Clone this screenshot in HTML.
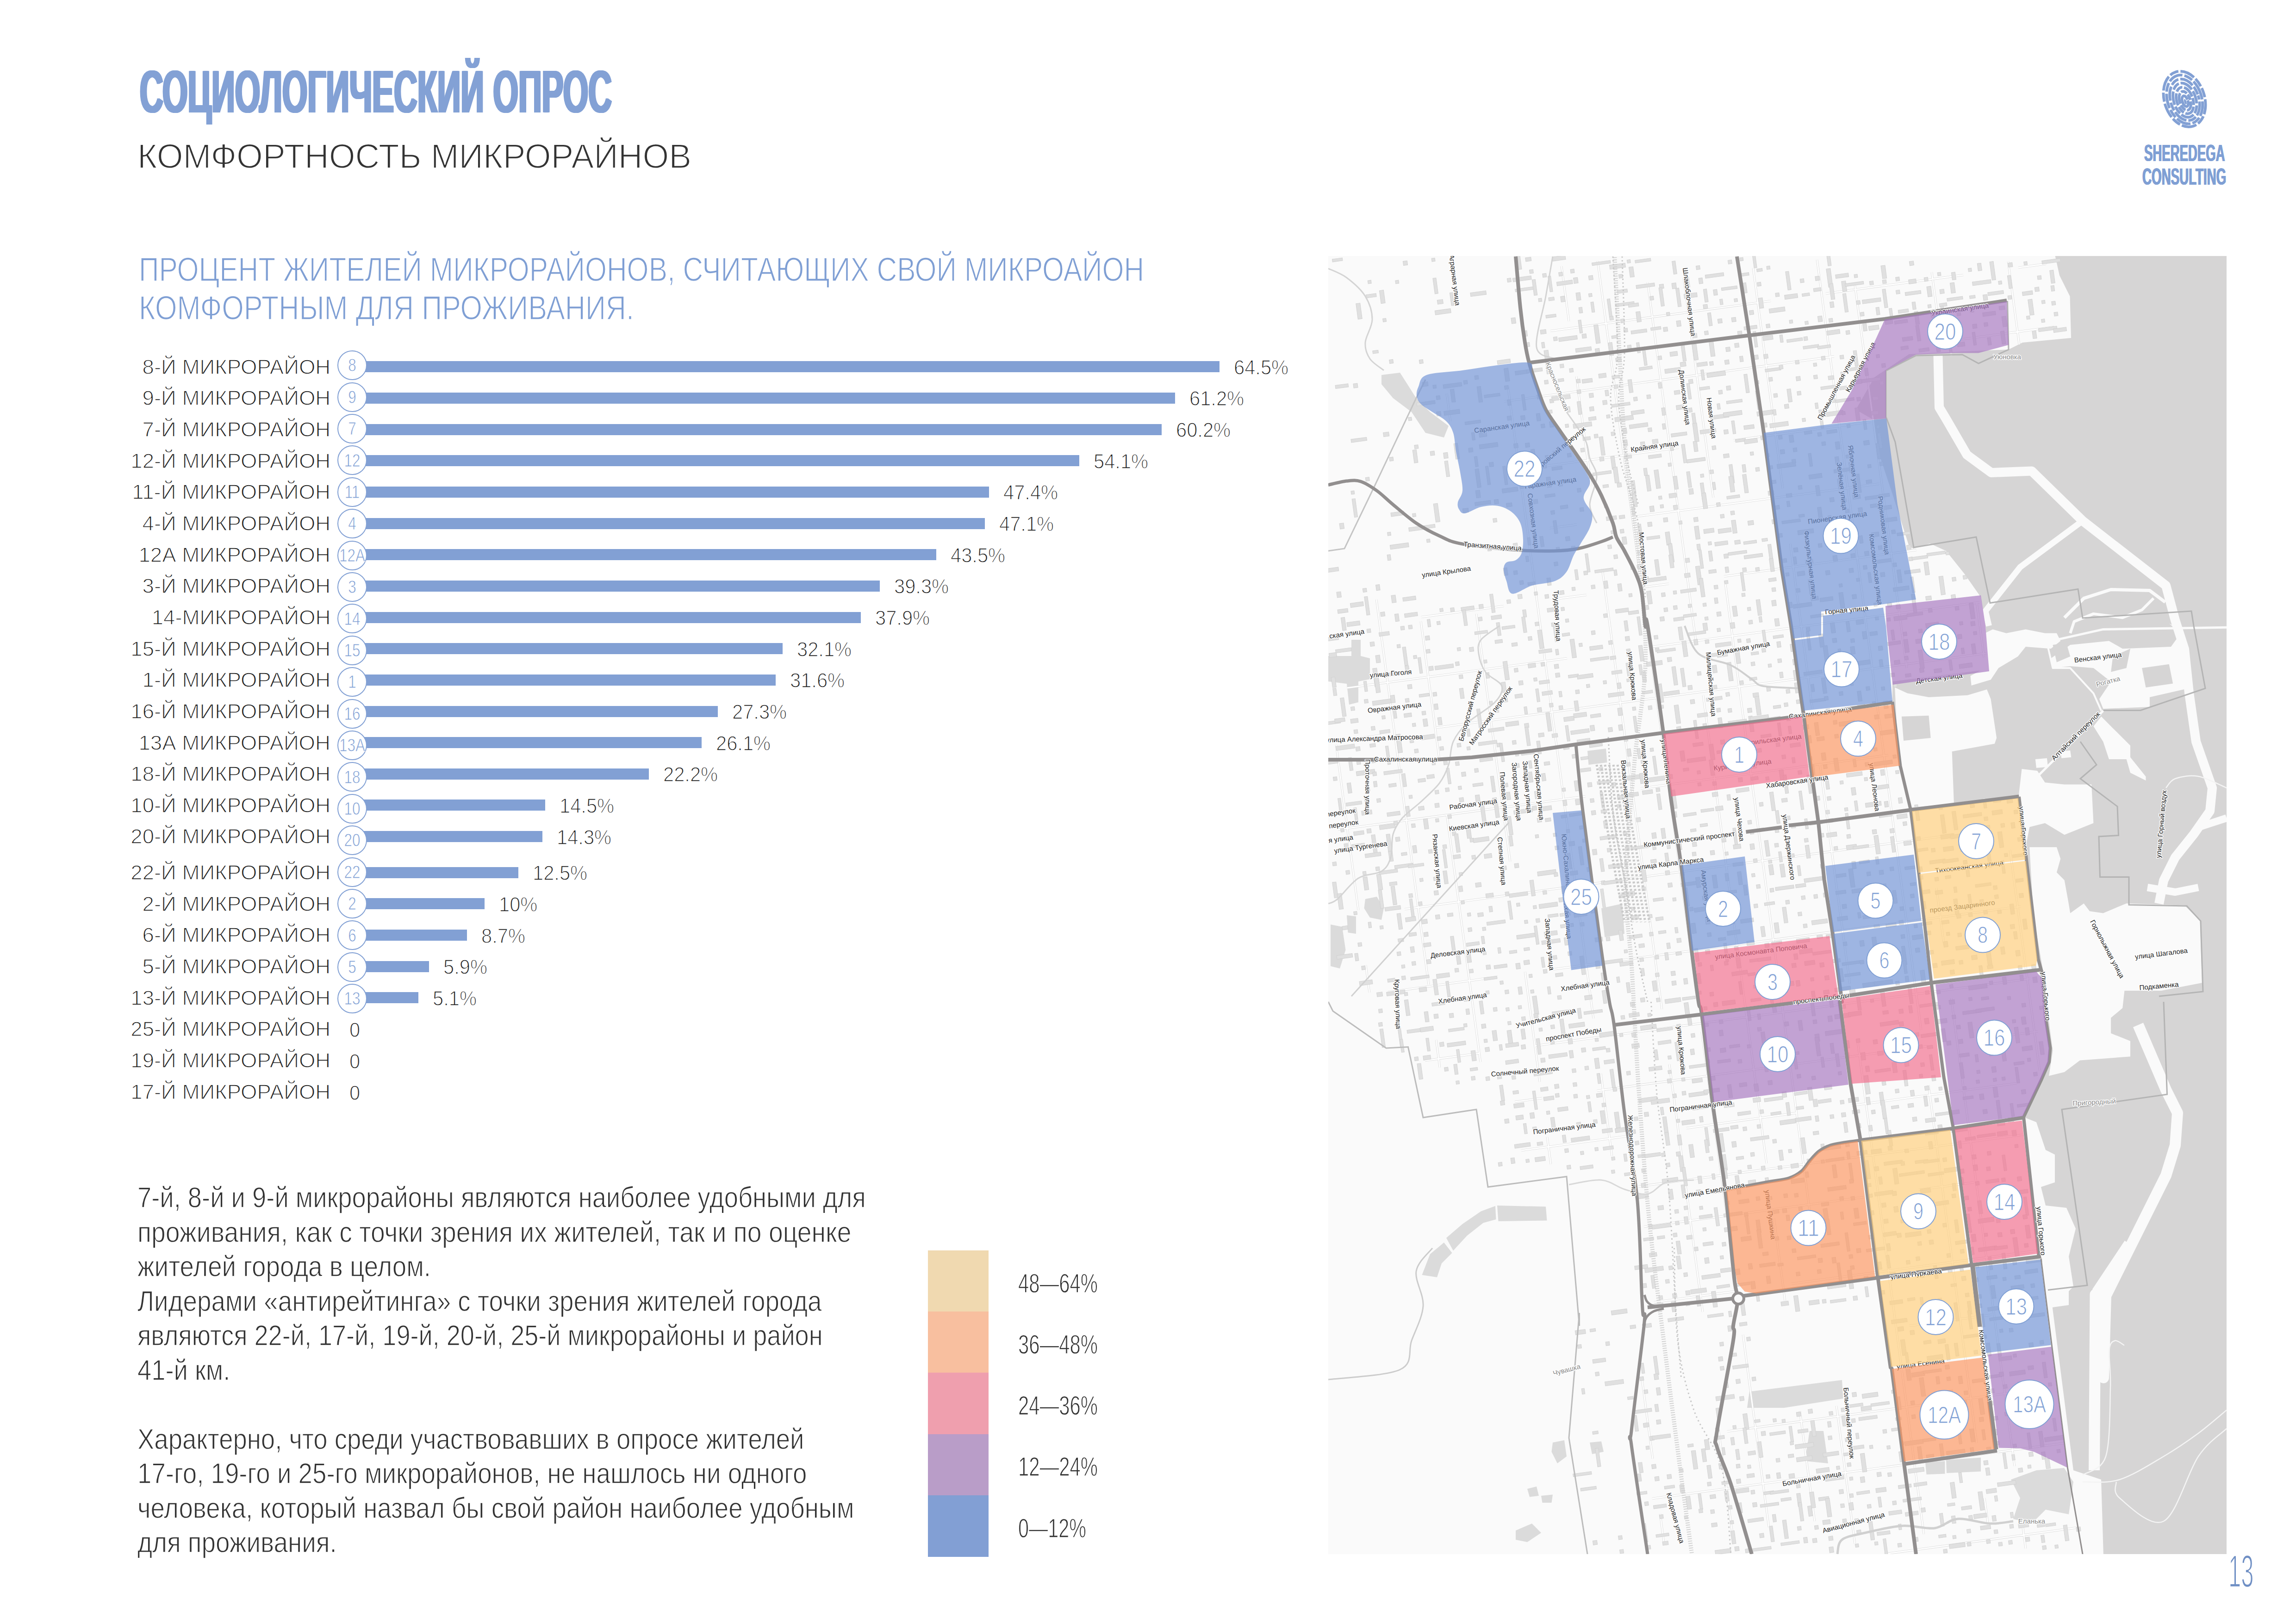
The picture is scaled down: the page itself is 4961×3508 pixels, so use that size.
<!DOCTYPE html>
<html lang="ru"><head><meta charset="utf-8"><title>Социологический опрос</title>
<style>
html,body{margin:0;padding:0;background:#fff}
body{width:4961px;height:3508px;position:relative;overflow:hidden;font-family:"Liberation Sans",sans-serif}
.t{position:absolute;white-space:pre;line-height:1;paint-order:fill stroke}
.bar{position:absolute;height:24px;background:#82a0d4}
.cir{position:absolute;width:60px;height:60px;border:2px solid #82a0d4;border-radius:50%;background:#fff}
svg text{font-family:"Liberation Sans",sans-serif}
</style></head><body>
<svg style="position:absolute;left:0;top:0" width="4961" height="520" viewBox="0 0 4961 520"><g transform="translate(4720,214) rotate(-18)"><ellipse cx="0" cy="0.0" rx="43.5" ry="61.5" fill="none" stroke="#82a0d4" stroke-width="5.8" stroke-dasharray="32.7 4.5 19.6 4.5" stroke-dashoffset="108.4"/><ellipse cx="0" cy="0.8" rx="37" ry="54" fill="none" stroke="#82a0d4" stroke-width="5.8" stroke-dasharray="32.0 4.4 19.2 4.4" stroke-dashoffset="43.9"/><ellipse cx="0" cy="1.6" rx="30.5" ry="46" fill="none" stroke="#82a0d4" stroke-width="5.8" stroke-dasharray="30.8 4.2 18.5 4.2" stroke-dashoffset="159.6"/><ellipse cx="0" cy="2.4" rx="24" ry="38" fill="none" stroke="#82a0d4" stroke-width="5.8" stroke-dasharray="29.3 4.0 17.6 4.0" stroke-dashoffset="14.5"/><ellipse cx="0" cy="3.2" rx="17.5" ry="29.5" fill="none" stroke="#82a0d4" stroke-width="5.8" stroke-dasharray="26.8 3.7 16.1 3.7" stroke-dashoffset="81.7"/><ellipse cx="0" cy="4.0" rx="11.5" ry="21" fill="none" stroke="#82a0d4" stroke-width="5.8" stroke-dasharray="23.4 3.2 14.0 3.2" stroke-dashoffset="38.9"/><ellipse cx="0" cy="4.8" rx="6" ry="12" fill="none" stroke="#82a0d4" stroke-width="5.8" stroke-dasharray="59.6 2.4 35.8 2.4" stroke-dashoffset="3.5"/><ellipse cx="0" cy="6" rx="2.5" ry="6" fill="#82a0d4"/></g></svg>
<div class="bar" style="left:760.5px;top:780.3px;width:1874.3px"></div>
<div class="cir" style="left:728.5px;top:757.1px"></div>
<div class="bar" style="left:760.5px;top:847.9px;width:1778.2px"></div>
<div class="cir" style="left:728.5px;top:825.5px"></div>
<div class="bar" style="left:760.5px;top:915.6px;width:1749.0px"></div>
<div class="cir" style="left:728.5px;top:893.9px"></div>
<div class="bar" style="left:760.5px;top:983.2px;width:1571.3px"></div>
<div class="cir" style="left:728.5px;top:962.3px"></div>
<div class="bar" style="left:760.5px;top:1050.9px;width:1376.1px"></div>
<div class="cir" style="left:728.5px;top:1030.7px"></div>
<div class="bar" style="left:760.5px;top:1118.5px;width:1367.4px"></div>
<div class="cir" style="left:728.5px;top:1099.1px"></div>
<div class="bar" style="left:760.5px;top:1186.2px;width:1262.5px"></div>
<div class="cir" style="left:728.5px;top:1167.5px"></div>
<div class="bar" style="left:760.5px;top:1253.8px;width:1140.1px"></div>
<div class="cir" style="left:728.5px;top:1235.9px"></div>
<div class="bar" style="left:760.5px;top:1321.5px;width:1099.3px"></div>
<div class="cir" style="left:728.5px;top:1304.3px"></div>
<div class="bar" style="left:760.5px;top:1389.2px;width:930.3px"></div>
<div class="cir" style="left:728.5px;top:1372.7px"></div>
<div class="bar" style="left:760.5px;top:1456.8px;width:915.7px"></div>
<div class="cir" style="left:728.5px;top:1441.1px"></div>
<div class="bar" style="left:760.5px;top:1524.5px;width:790.4px"></div>
<div class="cir" style="left:728.5px;top:1509.5px"></div>
<div class="bar" style="left:760.5px;top:1592.1px;width:755.5px"></div>
<div class="cir" style="left:728.5px;top:1577.9px"></div>
<div class="bar" style="left:760.5px;top:1659.8px;width:641.8px"></div>
<div class="cir" style="left:728.5px;top:1646.3px"></div>
<div class="bar" style="left:760.5px;top:1727.4px;width:417.5px"></div>
<div class="cir" style="left:728.5px;top:1714.7px"></div>
<div class="bar" style="left:760.5px;top:1795.1px;width:411.7px"></div>
<div class="cir" style="left:728.5px;top:1783.1px"></div>
<div class="bar" style="left:760.5px;top:1872.7px;width:359.2px"></div>
<div class="cir" style="left:728.5px;top:1851.5px"></div>
<div class="bar" style="left:760.5px;top:1940.4px;width:286.4px"></div>
<div class="cir" style="left:728.5px;top:1919.9px"></div>
<div class="bar" style="left:760.5px;top:2008.0px;width:248.5px"></div>
<div class="cir" style="left:728.5px;top:1988.3px"></div>
<div class="bar" style="left:760.5px;top:2075.7px;width:166.9px"></div>
<div class="cir" style="left:728.5px;top:2056.7px"></div>
<div class="bar" style="left:760.5px;top:2143.3px;width:143.6px"></div>
<div class="cir" style="left:728.5px;top:2125.1px"></div>
<div style="position:absolute;left:2005px;top:2701.0px;width:131px;height:133px;background:#f0d9b0"></div>
<div style="position:absolute;left:2005px;top:2833.2px;width:131px;height:133px;background:#f8bf9f"></div>
<div style="position:absolute;left:2005px;top:2965.4px;width:131px;height:133px;background:#ef9fae"></div>
<div style="position:absolute;left:2005px;top:3097.6px;width:131px;height:133px;background:#b99dc8"></div>
<div style="position:absolute;left:2005px;top:3229.8px;width:131px;height:133px;background:#829fd4"></div>
<div class="t" style="top:133.3px;font-size:130.09px;color:#83a1d5;font-weight:700;text-shadow:-4px 0 0 #83a1d5,4px 0 0 #83a1d5,-2px 0 0 #83a1d5,2px 0 0 #83a1d5;left:302.0px;transform-origin:0 0;transform:scaleX(0.5404);">СОЦИОЛОГИЧЕСКИЙ ОПРОС</div>
<div class="t" style="top:300.7px;font-size:74.13px;color:#333;font-weight:400;-webkit-text-stroke:2.0px #fff;left:297.0px;transform-origin:0 0;transform:scaleX(0.9857);">КОМФОРТНОСТЬ МИКРОРАЙНОВ</div>
<div class="t" style="top:545.5px;font-size:72.67px;color:#7f9fd4;font-weight:400;-webkit-text-stroke:1.6px #fff;left:300.0px;transform-origin:0 0;transform:scaleX(0.8322);">ПРОЦЕНТ ЖИТЕЛЕЙ МИКРОРАЙОНОВ, СЧИТАЮЩИХ СВОЙ МИКРОАЙОН</div>
<div class="t" style="top:628.5px;font-size:72.67px;color:#7f9fd4;font-weight:400;-webkit-text-stroke:1.6px #fff;left:300.0px;transform-origin:0 0;transform:scaleX(0.8417);">КОМФОРТНЫМ ДЛЯ ПРОЖИВАНИЯ.</div>
<div class="t" style="top:306.0px;font-size:49.42px;color:#7f9fd4;font-weight:700;text-shadow:-1.2px 0 0 #7f9fd4,1.2px 0 0 #7f9fd4;left:4632.5px;transform-origin:0 0;transform:scaleX(0.5576);">SHEREDEGA</div>
<div class="t" style="top:356.9px;font-size:49.42px;color:#7f9fd4;font-weight:700;text-shadow:-1.2px 0 0 #7f9fd4,1.2px 0 0 #7f9fd4;left:4628.8px;transform-origin:0 0;transform:scaleX(0.5611);">CONSULTING</div>
<div class="t" style="top:3346.1px;font-size:97.38px;color:#6f8fc4;font-weight:400;-webkit-text-stroke:2.5px #fff;left:4815.0px;transform-origin:0 0;transform:scaleX(0.5041);">13</div>
<div class="t" style="top:769.7px;font-size:45.06px;color:#222;font-weight:400;-webkit-text-stroke:1.4px #fff;right:4247.0px;transform-origin:100% 0;transform:scaleX(1.0110);">8-Й МИКРОРАЙОН</div>
<div class="t" style="top:771.8px;font-size:44.33px;color:#222;font-weight:400;-webkit-text-stroke:1.4px #fff;left:2665.8px;transform-origin:0 0;transform:scaleX(0.9400);">64.5%</div>
<div class="t" style="top:769.4px;font-size:39.24px;color:#7f9fd4;font-weight:400;-webkit-text-stroke:0.9px #fff;left:560.5px;width:400px;text-align:center;transform-origin:50% 0;transform:scaleX(0.8000);">8</div>
<div class="t" style="top:837.3px;font-size:45.06px;color:#222;font-weight:400;-webkit-text-stroke:1.4px #fff;right:4247.0px;transform-origin:100% 0;transform:scaleX(1.0110);">9-Й МИКРОРАЙОН</div>
<div class="t" style="top:839.4px;font-size:44.33px;color:#222;font-weight:400;-webkit-text-stroke:1.4px #fff;left:2569.7px;transform-origin:0 0;transform:scaleX(0.9400);">61.2%</div>
<div class="t" style="top:837.8px;font-size:39.24px;color:#7f9fd4;font-weight:400;-webkit-text-stroke:0.9px #fff;left:560.5px;width:400px;text-align:center;transform-origin:50% 0;transform:scaleX(0.8000);">9</div>
<div class="t" style="top:905.0px;font-size:45.06px;color:#222;font-weight:400;-webkit-text-stroke:1.4px #fff;right:4247.0px;transform-origin:100% 0;transform:scaleX(1.0110);">7-Й МИКРОРАЙОН</div>
<div class="t" style="top:907.1px;font-size:44.33px;color:#222;font-weight:400;-webkit-text-stroke:1.4px #fff;left:2540.5px;transform-origin:0 0;transform:scaleX(0.9400);">60.2%</div>
<div class="t" style="top:906.2px;font-size:39.24px;color:#7f9fd4;font-weight:400;-webkit-text-stroke:0.9px #fff;left:560.5px;width:400px;text-align:center;transform-origin:50% 0;transform:scaleX(0.8000);">7</div>
<div class="t" style="top:972.6px;font-size:45.06px;color:#222;font-weight:400;-webkit-text-stroke:1.4px #fff;right:4247.0px;transform-origin:100% 0;transform:scaleX(1.0110);">12-Й МИКРОРАЙОН</div>
<div class="t" style="top:974.7px;font-size:44.33px;color:#222;font-weight:400;-webkit-text-stroke:1.4px #fff;left:2362.8px;transform-origin:0 0;transform:scaleX(0.9400);">54.1%</div>
<div class="t" style="top:974.6px;font-size:39.24px;color:#7f9fd4;font-weight:400;-webkit-text-stroke:0.9px #fff;left:560.5px;width:400px;text-align:center;transform-origin:50% 0;transform:scaleX(0.8000);">12</div>
<div class="t" style="top:1040.3px;font-size:45.06px;color:#222;font-weight:400;-webkit-text-stroke:1.4px #fff;right:4247.0px;transform-origin:100% 0;transform:scaleX(1.0110);">11-Й МИКРОРАЙОН</div>
<div class="t" style="top:1042.4px;font-size:44.33px;color:#222;font-weight:400;-webkit-text-stroke:1.4px #fff;left:2167.6px;transform-origin:0 0;transform:scaleX(0.9400);">47.4%</div>
<div class="t" style="top:1043.0px;font-size:39.24px;color:#7f9fd4;font-weight:400;-webkit-text-stroke:0.9px #fff;left:560.5px;width:400px;text-align:center;transform-origin:50% 0;transform:scaleX(0.8000);">11</div>
<div class="t" style="top:1107.9px;font-size:45.06px;color:#222;font-weight:400;-webkit-text-stroke:1.4px #fff;right:4247.0px;transform-origin:100% 0;transform:scaleX(1.0110);">4-Й МИКРОРАЙОН</div>
<div class="t" style="top:1110.0px;font-size:44.33px;color:#222;font-weight:400;-webkit-text-stroke:1.4px #fff;left:2158.9px;transform-origin:0 0;transform:scaleX(0.9400);">47.1%</div>
<div class="t" style="top:1111.4px;font-size:39.24px;color:#7f9fd4;font-weight:400;-webkit-text-stroke:0.9px #fff;left:560.5px;width:400px;text-align:center;transform-origin:50% 0;transform:scaleX(0.8000);">4</div>
<div class="t" style="top:1175.6px;font-size:45.06px;color:#222;font-weight:400;-webkit-text-stroke:1.4px #fff;right:4247.0px;transform-origin:100% 0;transform:scaleX(1.0110);">12А МИКРОРАЙОН</div>
<div class="t" style="top:1177.7px;font-size:44.33px;color:#222;font-weight:400;-webkit-text-stroke:1.4px #fff;left:2054.0px;transform-origin:0 0;transform:scaleX(0.9400);">43.5%</div>
<div class="t" style="top:1179.8px;font-size:39.24px;color:#7f9fd4;font-weight:400;-webkit-text-stroke:0.9px #fff;left:560.5px;width:400px;text-align:center;transform-origin:50% 0;transform:scaleX(0.8000);">12А</div>
<div class="t" style="top:1243.2px;font-size:45.06px;color:#222;font-weight:400;-webkit-text-stroke:1.4px #fff;right:4247.0px;transform-origin:100% 0;transform:scaleX(1.0110);">3-Й МИКРОРАЙОН</div>
<div class="t" style="top:1245.3px;font-size:44.33px;color:#222;font-weight:400;-webkit-text-stroke:1.4px #fff;left:1931.6px;transform-origin:0 0;transform:scaleX(0.9400);">39.3%</div>
<div class="t" style="top:1248.2px;font-size:39.24px;color:#7f9fd4;font-weight:400;-webkit-text-stroke:0.9px #fff;left:560.5px;width:400px;text-align:center;transform-origin:50% 0;transform:scaleX(0.8000);">3</div>
<div class="t" style="top:1310.9px;font-size:45.06px;color:#222;font-weight:400;-webkit-text-stroke:1.4px #fff;right:4247.0px;transform-origin:100% 0;transform:scaleX(1.0110);">14-МИКРОРАЙОН</div>
<div class="t" style="top:1313.0px;font-size:44.33px;color:#222;font-weight:400;-webkit-text-stroke:1.4px #fff;left:1890.8px;transform-origin:0 0;transform:scaleX(0.9400);">37.9%</div>
<div class="t" style="top:1316.6px;font-size:39.24px;color:#7f9fd4;font-weight:400;-webkit-text-stroke:0.9px #fff;left:560.5px;width:400px;text-align:center;transform-origin:50% 0;transform:scaleX(0.8000);">14</div>
<div class="t" style="top:1378.5px;font-size:45.06px;color:#222;font-weight:400;-webkit-text-stroke:1.4px #fff;right:4247.0px;transform-origin:100% 0;transform:scaleX(1.0110);">15-Й МИКРОРАЙОН</div>
<div class="t" style="top:1380.6px;font-size:44.33px;color:#222;font-weight:400;-webkit-text-stroke:1.4px #fff;left:1721.8px;transform-origin:0 0;transform:scaleX(0.9400);">32.1%</div>
<div class="t" style="top:1385.0px;font-size:39.24px;color:#7f9fd4;font-weight:400;-webkit-text-stroke:0.9px #fff;left:560.5px;width:400px;text-align:center;transform-origin:50% 0;transform:scaleX(0.8000);">15</div>
<div class="t" style="top:1446.2px;font-size:45.06px;color:#222;font-weight:400;-webkit-text-stroke:1.4px #fff;right:4247.0px;transform-origin:100% 0;transform:scaleX(1.0110);">1-Й МИКРОРАЙОН</div>
<div class="t" style="top:1448.3px;font-size:44.33px;color:#222;font-weight:400;-webkit-text-stroke:1.4px #fff;left:1707.2px;transform-origin:0 0;transform:scaleX(0.9400);">31.6%</div>
<div class="t" style="top:1453.4px;font-size:39.24px;color:#7f9fd4;font-weight:400;-webkit-text-stroke:0.9px #fff;left:560.5px;width:400px;text-align:center;transform-origin:50% 0;transform:scaleX(0.8000);">1</div>
<div class="t" style="top:1513.8px;font-size:45.06px;color:#222;font-weight:400;-webkit-text-stroke:1.4px #fff;right:4247.0px;transform-origin:100% 0;transform:scaleX(1.0110);">16-Й МИКРОРАЙОН</div>
<div class="t" style="top:1515.9px;font-size:44.33px;color:#222;font-weight:400;-webkit-text-stroke:1.4px #fff;left:1581.9px;transform-origin:0 0;transform:scaleX(0.9400);">27.3%</div>
<div class="t" style="top:1521.8px;font-size:39.24px;color:#7f9fd4;font-weight:400;-webkit-text-stroke:0.9px #fff;left:560.5px;width:400px;text-align:center;transform-origin:50% 0;transform:scaleX(0.8000);">16</div>
<div class="t" style="top:1581.5px;font-size:45.06px;color:#222;font-weight:400;-webkit-text-stroke:1.4px #fff;right:4247.0px;transform-origin:100% 0;transform:scaleX(1.0110);">13А МИКРОРАЙОН</div>
<div class="t" style="top:1583.6px;font-size:44.33px;color:#222;font-weight:400;-webkit-text-stroke:1.4px #fff;left:1547.0px;transform-origin:0 0;transform:scaleX(0.9400);">26.1%</div>
<div class="t" style="top:1590.2px;font-size:39.24px;color:#7f9fd4;font-weight:400;-webkit-text-stroke:0.9px #fff;left:560.5px;width:400px;text-align:center;transform-origin:50% 0;transform:scaleX(0.8000);">13А</div>
<div class="t" style="top:1649.1px;font-size:45.06px;color:#222;font-weight:400;-webkit-text-stroke:1.4px #fff;right:4247.0px;transform-origin:100% 0;transform:scaleX(1.0110);">18-Й МИКРОРАЙОН</div>
<div class="t" style="top:1651.2px;font-size:44.33px;color:#222;font-weight:400;-webkit-text-stroke:1.4px #fff;left:1433.3px;transform-origin:0 0;transform:scaleX(0.9400);">22.2%</div>
<div class="t" style="top:1658.6px;font-size:39.24px;color:#7f9fd4;font-weight:400;-webkit-text-stroke:0.9px #fff;left:560.5px;width:400px;text-align:center;transform-origin:50% 0;transform:scaleX(0.8000);">18</div>
<div class="t" style="top:1716.8px;font-size:45.06px;color:#222;font-weight:400;-webkit-text-stroke:1.4px #fff;right:4247.0px;transform-origin:100% 0;transform:scaleX(1.0110);">10-Й МИКРОРАЙОН</div>
<div class="t" style="top:1718.9px;font-size:44.33px;color:#222;font-weight:400;-webkit-text-stroke:1.4px #fff;left:1209.0px;transform-origin:0 0;transform:scaleX(0.9400);">14.5%</div>
<div class="t" style="top:1727.0px;font-size:39.24px;color:#7f9fd4;font-weight:400;-webkit-text-stroke:0.9px #fff;left:560.5px;width:400px;text-align:center;transform-origin:50% 0;transform:scaleX(0.8000);">10</div>
<div class="t" style="top:1784.4px;font-size:45.06px;color:#222;font-weight:400;-webkit-text-stroke:1.4px #fff;right:4247.0px;transform-origin:100% 0;transform:scaleX(1.0110);">20-Й МИКРОРАЙОН</div>
<div class="t" style="top:1786.5px;font-size:44.33px;color:#222;font-weight:400;-webkit-text-stroke:1.4px #fff;left:1203.2px;transform-origin:0 0;transform:scaleX(0.9400);">14.3%</div>
<div class="t" style="top:1795.4px;font-size:39.24px;color:#7f9fd4;font-weight:400;-webkit-text-stroke:0.9px #fff;left:560.5px;width:400px;text-align:center;transform-origin:50% 0;transform:scaleX(0.8000);">20</div>
<div class="t" style="top:1862.1px;font-size:45.06px;color:#222;font-weight:400;-webkit-text-stroke:1.4px #fff;right:4247.0px;transform-origin:100% 0;transform:scaleX(1.0110);">22-Й МИКРОРАЙОН</div>
<div class="t" style="top:1864.2px;font-size:44.33px;color:#222;font-weight:400;-webkit-text-stroke:1.4px #fff;left:1150.7px;transform-origin:0 0;transform:scaleX(0.9400);">12.5%</div>
<div class="t" style="top:1863.8px;font-size:39.24px;color:#7f9fd4;font-weight:400;-webkit-text-stroke:0.9px #fff;left:560.5px;width:400px;text-align:center;transform-origin:50% 0;transform:scaleX(0.8000);">22</div>
<div class="t" style="top:1929.7px;font-size:45.06px;color:#222;font-weight:400;-webkit-text-stroke:1.4px #fff;right:4247.0px;transform-origin:100% 0;transform:scaleX(1.0110);">2-Й МИКРОРАЙОН</div>
<div class="t" style="top:1931.8px;font-size:44.33px;color:#222;font-weight:400;-webkit-text-stroke:1.4px #fff;left:1077.9px;transform-origin:0 0;transform:scaleX(0.9400);">10%</div>
<div class="t" style="top:1932.2px;font-size:39.24px;color:#7f9fd4;font-weight:400;-webkit-text-stroke:0.9px #fff;left:560.5px;width:400px;text-align:center;transform-origin:50% 0;transform:scaleX(0.8000);">2</div>
<div class="t" style="top:1997.4px;font-size:45.06px;color:#222;font-weight:400;-webkit-text-stroke:1.4px #fff;right:4247.0px;transform-origin:100% 0;transform:scaleX(1.0110);">6-Й МИКРОРАЙОН</div>
<div class="t" style="top:1999.5px;font-size:44.33px;color:#222;font-weight:400;-webkit-text-stroke:1.4px #fff;left:1040.0px;transform-origin:0 0;transform:scaleX(0.9400);">8.7%</div>
<div class="t" style="top:2000.6px;font-size:39.24px;color:#7f9fd4;font-weight:400;-webkit-text-stroke:0.9px #fff;left:560.5px;width:400px;text-align:center;transform-origin:50% 0;transform:scaleX(0.8000);">6</div>
<div class="t" style="top:2065.0px;font-size:45.06px;color:#222;font-weight:400;-webkit-text-stroke:1.4px #fff;right:4247.0px;transform-origin:100% 0;transform:scaleX(1.0110);">5-Й МИКРОРАЙОН</div>
<div class="t" style="top:2067.1px;font-size:44.33px;color:#222;font-weight:400;-webkit-text-stroke:1.4px #fff;left:958.4px;transform-origin:0 0;transform:scaleX(0.9400);">5.9%</div>
<div class="t" style="top:2069.0px;font-size:39.24px;color:#7f9fd4;font-weight:400;-webkit-text-stroke:0.9px #fff;left:560.5px;width:400px;text-align:center;transform-origin:50% 0;transform:scaleX(0.8000);">5</div>
<div class="t" style="top:2132.7px;font-size:45.06px;color:#222;font-weight:400;-webkit-text-stroke:1.4px #fff;right:4247.0px;transform-origin:100% 0;transform:scaleX(1.0110);">13-Й МИКРОРАЙОН</div>
<div class="t" style="top:2134.8px;font-size:44.33px;color:#222;font-weight:400;-webkit-text-stroke:1.4px #fff;left:935.1px;transform-origin:0 0;transform:scaleX(0.9400);">5.1%</div>
<div class="t" style="top:2137.4px;font-size:39.24px;color:#7f9fd4;font-weight:400;-webkit-text-stroke:0.9px #fff;left:560.5px;width:400px;text-align:center;transform-origin:50% 0;transform:scaleX(0.8000);">13</div>
<div class="t" style="top:2200.3px;font-size:45.06px;color:#222;font-weight:400;-webkit-text-stroke:1.4px #fff;right:4247.0px;transform-origin:100% 0;transform:scaleX(1.0110);">25-Й МИКРОРАЙОН</div>
<div class="t" style="top:2203.4px;font-size:44.33px;color:#222;font-weight:400;-webkit-text-stroke:1.4px #fff;left:755.0px;transform-origin:0 0;transform:scaleX(0.9400);">0</div>
<div class="t" style="top:2268.0px;font-size:45.06px;color:#222;font-weight:400;-webkit-text-stroke:1.4px #fff;right:4247.0px;transform-origin:100% 0;transform:scaleX(1.0110);">19-Й МИКРОРАЙОН</div>
<div class="t" style="top:2271.1px;font-size:44.33px;color:#222;font-weight:400;-webkit-text-stroke:1.4px #fff;left:755.0px;transform-origin:0 0;transform:scaleX(0.9400);">0</div>
<div class="t" style="top:2335.6px;font-size:45.06px;color:#222;font-weight:400;-webkit-text-stroke:1.4px #fff;right:4247.0px;transform-origin:100% 0;transform:scaleX(1.0110);">17-Й МИКРОРАЙОН</div>
<div class="t" style="top:2338.7px;font-size:44.33px;color:#222;font-weight:400;-webkit-text-stroke:1.4px #fff;left:755.0px;transform-origin:0 0;transform:scaleX(0.9400);">0</div>
<div class="t" style="top:2555.1px;font-size:62.5px;color:#333;font-weight:400;-webkit-text-stroke:1.3px #fff;left:297.0px;transform-origin:0 0;transform:scaleX(0.8694);">7-й, 8-й и 9-й микрорайоны являются наиболее удобными для</div>
<div class="t" style="top:2629.6px;font-size:62.5px;color:#333;font-weight:400;-webkit-text-stroke:1.3px #fff;left:297.0px;transform-origin:0 0;transform:scaleX(0.8850);">проживания, как с точки зрения их жителей, так и по оценке</div>
<div class="t" style="top:2704.1px;font-size:62.5px;color:#333;font-weight:400;-webkit-text-stroke:1.3px #fff;left:297.0px;transform-origin:0 0;transform:scaleX(0.8753);">жителей города в целом.</div>
<div class="t" style="top:2778.6px;font-size:62.5px;color:#333;font-weight:400;-webkit-text-stroke:1.3px #fff;left:297.0px;transform-origin:0 0;transform:scaleX(0.8761);">Лидерами «антирейтинга» с точки зрения жителей города</div>
<div class="t" style="top:2853.1px;font-size:62.5px;color:#333;font-weight:400;-webkit-text-stroke:1.3px #fff;left:297.0px;transform-origin:0 0;transform:scaleX(0.8653);">являются 22-й, 17-й, 19-й, 20-й, 25-й микрорайоны и район</div>
<div class="t" style="top:2927.6px;font-size:62.5px;color:#333;font-weight:400;-webkit-text-stroke:1.3px #fff;left:297.0px;transform-origin:0 0;transform:scaleX(0.8699);">41-й км.</div>
<div class="t" style="top:3076.6px;font-size:62.5px;color:#333;font-weight:400;-webkit-text-stroke:1.3px #fff;left:297.0px;transform-origin:0 0;transform:scaleX(0.8722);">Характерно, что среди участвовавших в опросе жителей</div>
<div class="t" style="top:3151.1px;font-size:62.5px;color:#333;font-weight:400;-webkit-text-stroke:1.3px #fff;left:297.0px;transform-origin:0 0;transform:scaleX(0.8747);">17-го, 19-го и 25-го микрорайонов, не нашлось ни одного</div>
<div class="t" style="top:3225.6px;font-size:62.5px;color:#333;font-weight:400;-webkit-text-stroke:1.3px #fff;left:297.0px;transform-origin:0 0;transform:scaleX(0.8738);">человека, который назвал бы свой район наиболее удобным</div>
<div class="t" style="top:3300.1px;font-size:62.5px;color:#333;font-weight:400;-webkit-text-stroke:1.3px #fff;left:297.0px;transform-origin:0 0;transform:scaleX(0.8765);">для проживания.</div>
<div class="t" style="top:2742.8px;font-size:58.14px;color:#333;font-weight:400;-webkit-text-stroke:1.3px #fff;left:2200.0px;transform-origin:0 0;transform:scaleX(0.7193);">48—64%</div>
<div class="t" style="top:2875.0px;font-size:58.14px;color:#333;font-weight:400;-webkit-text-stroke:1.3px #fff;left:2200.0px;transform-origin:0 0;transform:scaleX(0.7193);">36—48%</div>
<div class="t" style="top:3007.2px;font-size:58.14px;color:#333;font-weight:400;-webkit-text-stroke:1.3px #fff;left:2200.0px;transform-origin:0 0;transform:scaleX(0.7193);">24—36%</div>
<div class="t" style="top:3139.4px;font-size:58.14px;color:#333;font-weight:400;-webkit-text-stroke:1.3px #fff;left:2200.0px;transform-origin:0 0;transform:scaleX(0.7193);">12—24%</div>
<div class="t" style="top:3271.6px;font-size:58.14px;color:#333;font-weight:400;-webkit-text-stroke:1.3px #fff;left:2200.0px;transform-origin:0 0;transform:scaleX(0.7108);">0—12%</div>
<svg style="position:absolute;left:2870px;top:553px" width="1941" height="2804" viewBox="2870 553 1941 2804">
<rect x="2870" y="553" width="1941" height="2804" fill="#fafafa"/>
<polygon points="4440.0,550.0 4450.0,595.0 4472.5,640.0 4475.0,730.0 4370.0,740.0 4340.0,755.0 4225.0,760.0 4125.0,765.0 4050.0,815.0 4010.0,885.0 4045.0,905.0 4060.0,980.0 4090.0,1070.0 4125.0,1180.0 4134.0,1185.0 4170.0,1174.0 4205.0,1190.0 4245.0,1240.0 4280.0,1290.0 4290.0,1352.0 4297.5,1446.0 4089.0,1472.0 4089.0,1515.0 4106.0,1654.5 4128.5,1749.5 4362.5,1721.0 4379.0,1861.0 4405.0,2089.5 4420.0,2199.0 4430.0,2264.0 4427.5,2294.0 4410.0,2334.0 4372.5,2413.0 4405.0,2711.5 4434.0,2911.5 4467.5,3171.0 4500.0,3361.0 4820.0,3361.0 4820.0,496.0 4440.0,496.0" fill="#d6d5d5"/>
<polygon points="4094.2,1485.0 4121.4,1497.6 4167.5,1505.9 4251.2,1501.7 4293.1,1489.2 4301.5,1510.1 4314.1,1593.9 4309.9,1606.4 4217.7,1623.2 4221.9,1736.2 4125.6,1744.6 4100.5,1610.6" fill="#fafafa"/>
<polygon points="4288.9,1367.7 4305.7,1359.4 4335.0,1367.7 4376.9,1359.4 4418.7,1367.7 4443.9,1367.7 4452.2,1384.5 4431.3,1401.2 4376.9,1397.1 4360.1,1418.0 4318.2,1443.1 4301.5,1468.2 4259.6,1480.8 4257.5,1459.9 4288.9,1443.1" fill="#fafafa"/>
<polygon points="4473.2,1392.9 4556.9,1384.5 4586.2,1401.2 4690.9,1397.1 4711.9,1367.7 4686.7,1346.8 4711.9,1359.4 4720.2,1434.7 4737.0,1485.0 4644.9,1505.9 4644.9,1526.9 4544.4,1531.1 4536.0,1510.1 4561.1,1472.4 4523.4,1443.1 4473.2,1438.9 4435.5,1443.1 4431.3,1422.2" fill="#fafafa"/>
<polygon points="4540.2,1547.8 4565.3,1572.9 4603.0,1610.6 4603.0,1635.7 4636.5,1677.6 4636.5,1686.0 4603.0,1669.2 4594.6,1639.9 4556.9,1639.9 4544.4,1602.2 4523.4,1568.7" fill="#fafafa"/>
<polygon points="4368.5,1660.9 4402.0,1665.1 4418.7,1690.2 4460.6,1694.4 4519.2,1694.4 4523.4,1778.1 4460.6,1803.2 4418.7,1778.1 4385.2,1786.5 4376.9,1830.0 4364.3,1830.0 4362.2,1715.3" fill="#fafafa"/>
<polygon points="4397.8,1639.9 4422.9,1637.8 4425.0,1656.7 4399.9,1658.8" fill="#fafafa"/>
<polygon points="4452.2,1623.2 4473.2,1621.1 4475.3,1635.7 4454.3,1637.8" fill="#fafafa"/>
<polygon points="4385.2,1830.0 4443.9,1830.0 4452.2,1855.1 4443.9,1884.4 4460.6,1901.2 4469.0,1947.2 4473.2,1972.4 4502.5,1951.4 4515.1,1968.2 4544.4,1972.4 4594.6,1951.4 4720.2,1955.6 4753.7,1989.1 4757.9,2123.1 4670.0,2139.9 4590.4,2139.9 4586.2,2177.6 4561.1,2198.5 4561.1,2232.0 4603.0,2248.7 4603.0,2282.2 4494.1,2290.6 4460.6,2315.7 4427.1,2324.1 4435.5,2269.7 4427.1,2206.9 4414.6,2098.0 4393.6,1976.6" fill="#fafafa"/>
<polygon points="4375.0,2414.0 4400.0,2424.0 4420.0,2484.0 4440.0,2494.0 4440.0,2554.0 4410.0,2564.0 4420.0,2604.0 4465.0,2609.0 4485.0,2654.0 4470.0,2714.0 4480.0,2779.0 4470.0,2789.0 4470.0,2819.0 4435.0,2824.0 4435.0,2826.0 4480.0,3176.0 4540.0,3196.0 4545.0,3361.0 4500.0,3361.0 4467.5,3171.0 4434.0,2911.5 4405.0,2711.5" fill="#fafafa"/>
<polygon points="4108.9,1547.8 4167.5,1545.7 4171.7,1593.9 4113.1,1600.1" fill="#d6d5d5"/>
<polygon points="4435.5,1392.9 4464.8,1388.7 4473.2,1418.0 4443.9,1430.6" fill="#d6d5d5"/>
<polygon points="4565.3,1418.0 4603.0,1401.2 4594.6,1443.1 4561.1,1451.5" fill="#d6d5d5"/>
<polygon points="4628.1,1443.1 4686.7,1434.7 4695.1,1476.6 4636.5,1485.0" fill="#d6d5d5"/>
<polygon points="4481.6,1880.2 4527.6,1871.9 4536.0,1934.7 4494.1,1943.1" fill="#d6d5d5"/>
<polygon points="4607.2,2165.0 4670.0,2160.8 4678.4,2227.8 4611.4,2232.0" fill="#d6d5d5"/>
<path d="M4187.5 767.5 L4190.0 880.0 L4205.0 905.0 L4250.0 982.5 L4302.5 1021.0 L4390.0 1017.5 L4500.0 1125.0 L4680.0 1265.0 L4700.0 1340.0 L4720.0 1402.0 L4730.0 1497.0 L4745.0 1602.0 L4780.0 1702.0 L4775.0 1752.0 L4740.0 1802.0 L4700.0 1852.0 L4675.0 1902.0 L4665.0 1952.0" fill="none" stroke="#fafafa" stroke-width="20" stroke-linejoin="round"/>
<path d="M4500.0 1125.0 L4365.0 1225.0 L4290.0 1320.0 L4297.5 1352.0" fill="none" stroke="#fafafa" stroke-width="13" stroke-linejoin="round"/>
<path d="M4620.0 2214.0 L4680.0 2354.0 L4705.0 2404.0 L4700.0 2474.0 L4680.0 2539.0 L4550.0 2799.0 L4545.0 2976.0 L4527.5 2796.0 L4525.0 3176.0" fill="none" stroke="#fafafa" stroke-width="24" stroke-linejoin="round"/>
<path d="M4600.0 2686.0 L4530.0 2791.0" fill="none" stroke="#fafafa" stroke-width="22" stroke-linejoin="round"/>
<path d="M4640.0 1917.0 L4700.0 1927.0 L4750.0 1917.0" fill="none" stroke="#fafafa" stroke-width="16" stroke-linejoin="round"/>
<path d="M4750.0 1787.0 L4811.0 1767.0" fill="none" stroke="#fafafa" stroke-width="16" stroke-linejoin="round"/>
<path d="M4460.6 1334.2 L4502.5 1292.4 L4561.1 1273.5 L4644.9 1275.6 L4678.4 1300.7" fill="none" stroke="#fafafa" stroke-width="7" stroke-linejoin="round"/>
<path d="M4473.2 1367.7 L4481.6 1342.6 L4523.4 1325.9 L4586.2 1334.2 L4628.1 1317.5 L4653.2 1292.4" fill="none" stroke="#fafafa" stroke-width="6" stroke-linejoin="round"/>
<path d="M4422.9 1386.6 L4544.4 1359.4 L4811.1 1355.2" fill="none" stroke="#fafafa" stroke-width="5" stroke-linejoin="round"/>
<path d="M4364.3 1715.3 L4544.4 1535.2" fill="none" stroke="#fafafa" stroke-width="5" stroke-linejoin="round"/>
<path d="M4422.9 1388.7 L4435.5 1443.1 L4473.2 1443.1 L4523.4 1497.6 L4540.2 1535.2" fill="none" stroke="#fafafa" stroke-width="4" stroke-linejoin="round"/>
<path d="M4680.0 1702.0 C4683.3 1698.7 4688.3 1686.2 4700.0 1682.0 C4711.7 1677.8 4731.5 1673.7 4750.0 1677.0 C4768.5 1680.3 4800.8 1697.8 4811.0 1702.0" fill="none" stroke="#f4f4f4" stroke-width="2.5"/>
<path d="M4590.0 2906.0 C4586.7 2904.3 4575.4 2894.3 4570.0 2896.0 C4564.6 2897.7 4559.2 2899.3 4557.5 2916.0 C4555.8 2932.7 4561.2 2957.7 4560.0 2996.0 C4558.8 3034.3 4560.0 3114.3 4550.0 3146.0 C4540.0 3177.7 4508.3 3179.3 4500.0 3186.0" fill="none" stroke="#f4f4f4" stroke-width="2.5"/>
<path d="M4811.0 3046.0 C4800.8 3054.3 4772.7 3079.3 4750.0 3096.0 C4727.3 3112.7 4703.3 3129.3 4675.0 3146.0 C4646.7 3162.7 4609.2 3186.8 4580.0 3196.0 C4550.8 3205.2 4513.3 3200.2 4500.0 3201.0" fill="none" stroke="#f4f4f4" stroke-width="2.5"/>
<path d="M4572.5 3201.0 C4573.8 3206.8 4562.9 3221.8 4580.0 3236.0 C4597.1 3250.2 4646.7 3301.0 4675.0 3286.0 C4703.3 3271.0 4727.3 3179.3 4750.0 3146.0 C4772.7 3112.7 4800.8 3096.0 4811.0 3086.0" fill="none" stroke="#f4f4f4" stroke-width="2.5"/>
<polygon points="2870.0,1417.0 2920.0,1417.0 2920.0,1382.0 2940.0,1382.0 2940.0,1417.0 2960.0,1422.0 2960.0,1467.0 2935.0,1472.0 2935.0,1517.0 2915.0,1522.0 2910.0,1477.0 2870.0,1472.0" fill="#dbdbdb"/>
<polygon points="2950.0,1942.0 2975.0,1937.0 2990.0,1962.0 2985.0,1987.0 2960.0,1982.0 2947.5,1962.0" fill="#dbdbdb"/>
<polygon points="2875.0,1997.0 2900.0,2002.0 2907.5,2052.0 2895.0,2092.0 2875.0,2087.0" fill="#dbdbdb"/>
<polygon points="2910.0,1977.0 2930.0,1979.5 2930.0,2017.0 2912.5,2014.5" fill="#dbdbdb"/>
<polygon points="3235.0,2604.0 3340.0,2606.5 3342.5,2636.5 3237.5,2638.0" fill="#dbdbdb"/>
<polygon points="3125.0,2674.0 3160.0,2644.0 3200.0,2616.5 3231.0,2605.0 3232.5,2634.0 3205.0,2641.5 3170.0,2669.0 3140.0,2701.5" fill="#dbdbdb"/>
<polygon points="3072.5,2754.0 3090.0,2709.0 3120.0,2684.0 3137.5,2706.5 3115.0,2729.0 3105.0,2759.0" fill="#dbdbdb"/>
<polygon points="2985.0,810.0 3025.0,805.0 3060.0,860.0 3090.0,890.0 3130.0,920.0 3120.0,945.0 3080.0,935.0 3050.0,890.0 3010.0,860.0 2985.0,830.0" fill="#dbdbdb"/>
<polygon points="3780.0,3006.0 3980.0,2981.0 3982.5,3021.0 3855.0,3041.0 3775.0,3041.0" fill="#dbdbdb"/>
<polygon points="3910.0,3091.0 3940.0,3091.0 3950.0,3161.0 3900.0,3156.0" fill="#dbdbdb"/>
<polygon points="4160.0,3158.5 4202.5,3156.0 4202.5,3183.5 4162.5,3185.0" fill="#dbdbdb"/>
<polygon points="4205.0,3153.5 4280.0,3148.5 4280.0,3178.5 4206.0,3182.0" fill="#dbdbdb"/>
<polygon points="4345.0,3196.0 4400.0,3176.0 4460.0,3171.0 4480.0,3201.0 4470.0,3271.0 4420.0,3261.0 4390.0,3291.0 4350.0,3281.0 4365.0,3236.0" fill="#dbdbdb"/>
<polygon points="3355.0,3116.0 3380.0,3111.0 3385.0,3146.0 3365.0,3161.0 3352.5,3136.0" fill="#dbdbdb"/>
<polygon points="3435.0,3116.0 3460.0,3113.5 3465.0,3136.0 3440.0,3141.0" fill="#dbdbdb"/>
<polygon points="3275.0,3306.0 3310.0,3291.0 3330.0,3311.0 3300.0,3331.0 3275.0,3326.0" fill="#dbdbdb"/>
<polygon points="3300.0,3216.0 3320.0,3211.0 3325.0,3231.0 3305.0,3233.5" fill="#dbdbdb"/>
<polygon points="3330.0,3231.0 3355.0,3228.5 3352.5,3246.0 3332.5,3246.0" fill="#dbdbdb"/>
<polygon points="3430.0,1622.0 3470.0,1617.0 3472.5,1647.0 3432.5,1652.0" fill="#dbdbdb"/>
<polygon points="3460.0,1962.0 3505.0,1952.0 3510.0,2017.0 3467.5,2024.5" fill="#dbdbdb"/>
<path d="M2887 1609L2935 1966M2951 2085L2959 2144M2974 1295L3087 2127M3103 2246L3111 2306M3070 1342L3110 1640M3126 1759L3199 2294M3126 850L3134 910M3190 1326L3263 1861M3295 2099L3327 2337M3343 2456L3351 2515M3258 833L3443 2200M3459 2319L3483 2497M3547 2973L3571 3151M3587 3270L3595 3330M3374 575L3390 694M3406 813L3438 1050M3462 1229L3591 2180M3607 2299L3679 2834M3711 3072L3743 3310M3452 564L3661 2110M3677 2229L3750 2764M3766 2883L3822 3299M3560 610L3664 1383M3680 1502L3817 2513M3833 2632L3857 2810M3889 3048L3921 3286M3638 600L3702 1075M3727 1254L3911 2621M3968 3037L4008 3335M3788 579L3852 1055M3868 1174L3916 1531M3932 1650L3997 2125M4013 2244L4157 3314M3926 561L4151 2225M4167 2344L4271 3117M4288 3236L4296 3296M4007 610L4120 1443M4184 1918L4200 2037M4216 2156L4353 3167M4369 3286L4377 3345M4174 588L4190 707M4271 1301L4287 1420M4343 1836L4407 2312M4339 565L4363 744M3350 715L3826 650M3945 634L4242 594M4361 578L4421 570M3250 867L3963 770M4201 738L4439 706M3329 1008L3627 967M3746 951L4043 911M3348 1141L3407 1133M3526 1117L4061 1045M3071 1333L3249 1309M3368 1293L3428 1285M3546 1269L3606 1261M3725 1245L4141 1188M2910 1486L3386 1422M3564 1398L4277 1301M2925 1596L2984 1588M3103 1572L4292 1411M2891 1792L3426 1720M3545 1703L4080 1631M3035 1964L4224 1803M2999 2143L3236 2110M3355 2094L4366 1958M3079 2291L3198 2275M3317 2259L4387 2114M3273 2380L3332 2372M3451 2356L4165 2260M4284 2244L4403 2228M3287 2485L3525 2453M3644 2437L3882 2404M4001 2388L4357 2340M3540 2563L4372 2451M3552 2650L4027 2586M4146 2570L4265 2554M3574 2813L3752 2789M3871 2773L4406 2701M4125 2864L4304 2840M3732 3092L4386 3003M3570 3237L4462 3117M4071 3357L4487 3300" stroke="#dcdcdc" stroke-width="4.5" fill="none"/><path d="M2887 1609L2935 1966M2951 2085L2959 2144M2974 1295L3087 2127M3103 2246L3111 2306M3070 1342L3110 1640M3126 1759L3199 2294M3126 850L3134 910M3190 1326L3263 1861M3295 2099L3327 2337M3343 2456L3351 2515M3258 833L3443 2200M3459 2319L3483 2497M3547 2973L3571 3151M3587 3270L3595 3330M3374 575L3390 694M3406 813L3438 1050M3462 1229L3591 2180M3607 2299L3679 2834M3711 3072L3743 3310M3452 564L3661 2110M3677 2229L3750 2764M3766 2883L3822 3299M3560 610L3664 1383M3680 1502L3817 2513M3833 2632L3857 2810M3889 3048L3921 3286M3638 600L3702 1075M3727 1254L3911 2621M3968 3037L4008 3335M3788 579L3852 1055M3868 1174L3916 1531M3932 1650L3997 2125M4013 2244L4157 3314M3926 561L4151 2225M4167 2344L4271 3117M4288 3236L4296 3296M4007 610L4120 1443M4184 1918L4200 2037M4216 2156L4353 3167M4369 3286L4377 3345M4174 588L4190 707M4271 1301L4287 1420M4343 1836L4407 2312M4339 565L4363 744M3350 715L3826 650M3945 634L4242 594M4361 578L4421 570M3250 867L3963 770M4201 738L4439 706M3329 1008L3627 967M3746 951L4043 911M3348 1141L3407 1133M3526 1117L4061 1045M3071 1333L3249 1309M3368 1293L3428 1285M3546 1269L3606 1261M3725 1245L4141 1188M2910 1486L3386 1422M3564 1398L4277 1301M2925 1596L2984 1588M3103 1572L4292 1411M2891 1792L3426 1720M3545 1703L4080 1631M3035 1964L4224 1803M2999 2143L3236 2110M3355 2094L4366 1958M3079 2291L3198 2275M3317 2259L4387 2114M3273 2380L3332 2372M3451 2356L4165 2260M4284 2244L4403 2228M3287 2485L3525 2453M3644 2437L3882 2404M4001 2388L4357 2340M3540 2563L4372 2451M3552 2650L4027 2586M4146 2570L4265 2554M3574 2813L3752 2789M3871 2773L4406 2701M4125 2864L4304 2840M3732 3092L4386 3003M3570 3237L4462 3117M4071 3357L4487 3300" stroke="#ffffff" stroke-width="2.8" fill="none"/><g transform="translate(3800,1950) rotate(-7.7)" fill="#e0e0e0" stroke="#d2d2d2" stroke-width="1"><rect x="-901" y="-210" width="8" height="8"/><rect x="-907" y="-167" width="8" height="34"/><rect x="-900" y="-141" width="9" height="34"/><rect x="-899" y="-70" width="12" height="8"/><rect x="-919" y="-9" width="34" height="8"/><rect x="-883" y="-512" width="40" height="6"/><rect x="-888" y="-427" width="28" height="6"/><rect x="-875" y="-392" width="8" height="8"/><rect x="-871" y="-345" width="6" height="34"/><rect x="-874" y="-279" width="7" height="7"/><rect x="-871" y="-246" width="8" height="8"/><rect x="-875" y="-188" width="8" height="8"/><rect x="-870" y="-98" width="7" height="7"/><rect x="-870" y="-30" width="8" height="8"/><rect x="-880" y="-8" width="7" height="16"/><rect x="-869" y="21" width="8" height="8"/><rect x="-878" y="53" width="28" height="9"/><rect x="-851" y="-693" width="28" height="8"/><rect x="-848" y="-658" width="16" height="9"/><rect x="-850" y="-606" width="8" height="22"/><rect x="-850" y="-582" width="7" height="16"/><rect x="-837" y="-559" width="8" height="40"/><rect x="-855" y="-516" width="22" height="8"/><rect x="-860" y="-457" width="40" height="9"/><rect x="-837" y="-429" width="7" height="28"/><rect x="-847" y="-375" width="8" height="22"/><rect x="-855" y="-333" width="34" height="7"/><rect x="-840" y="-320" width="6" height="34"/><rect x="-847" y="-269" width="22" height="8"/><rect x="-855" y="-242" width="28" height="7"/><rect x="-839" y="-181" width="7" height="7"/><rect x="-840" y="-169" width="9" height="28"/><rect x="-842" y="-71" width="6" height="12"/><rect x="-844" y="82" width="12" height="9"/><rect x="-845" y="118" width="8" height="8"/><rect x="-849" y="147" width="8" height="8"/><rect x="-848" y="161" width="7" height="40"/><rect x="-831" y="-840" width="28" height="8"/><rect x="-814" y="-787" width="9" height="12"/><rect x="-817" y="-749" width="22" height="8"/><rect x="-812" y="-731" width="8" height="28"/><rect x="-833" y="-664" width="34" height="7"/><rect x="-817" y="-537" width="8" height="8"/><rect x="-821" y="-511" width="16" height="9"/><rect x="-817" y="-487" width="8" height="8"/><rect x="-818" y="-450" width="9" height="9"/><rect x="-820" y="-420" width="8" height="8"/><rect x="-824" y="-397" width="40" height="9"/><rect x="-808" y="-360" width="8" height="8"/><rect x="-814" y="-339" width="7" height="12"/><rect x="-824" y="-311" width="22" height="9"/><rect x="-818" y="-271" width="9" height="9"/><rect x="-810" y="-257" width="8" height="40"/><rect x="-829" y="-218" width="34" height="8"/><rect x="-810" y="-187" width="8" height="8"/><rect x="-810" y="-171" width="9" height="34"/><rect x="-811" y="-137" width="7" height="40"/><rect x="-818" y="-60" width="7" height="7"/><rect x="-817" y="56" width="16" height="7"/><rect x="-823" y="84" width="40" height="8"/><rect x="-809" y="164" width="6" height="40"/><rect x="-808" y="189" width="6" height="28"/><rect x="-788" y="-933" width="9" height="12"/><rect x="-788" y="-759" width="28" height="9"/><rect x="-801" y="-719" width="28" height="9"/><rect x="-791" y="-699" width="9" height="9"/><rect x="-782" y="-588" width="6" height="22"/><rect x="-786" y="-549" width="8" height="8"/><rect x="-779" y="-489" width="8" height="8"/><rect x="-787" y="-452" width="12" height="7"/><rect x="-787" y="-419" width="8" height="8"/><rect x="-789" y="-391" width="8" height="8"/><rect x="-790" y="-371" width="7" height="12"/><rect x="-788" y="-333" width="8" height="8"/><rect x="-790" y="-275" width="34" height="9"/><rect x="-778" y="-254" width="8" height="40"/><rect x="-778" y="-217" width="8" height="22"/><rect x="-804" y="-177" width="40" height="7"/><rect x="-785" y="-150" width="16" height="7"/><rect x="-783" y="-141" width="8" height="40"/><rect x="-802" y="-98" width="34" height="8"/><rect x="-778" y="-81" width="8" height="34"/><rect x="-783" y="-27" width="12" height="7"/><rect x="-789" y="1" width="8" height="8"/><rect x="-783" y="30" width="7" height="7"/><rect x="-786" y="54" width="8" height="8"/><rect x="-785" y="90" width="7" height="7"/><rect x="-787" y="106" width="8" height="34"/><rect x="-790" y="171" width="28" height="7"/><rect x="-782" y="231" width="8" height="8"/><rect x="-778" y="246" width="8" height="34"/><rect x="-757" y="-1230" width="28" height="7"/><rect x="-754" y="-999" width="7" height="7"/><rect x="-754" y="-982" width="7" height="40"/><rect x="-757" y="-787" width="8" height="8"/><rect x="-756" y="-769" width="7" height="40"/><rect x="-760" y="-699" width="8" height="8"/><rect x="-757" y="-670" width="9" height="9"/><rect x="-749" y="-640" width="9" height="16"/><rect x="-759" y="-613" width="9" height="40"/><rect x="-758" y="-594" width="9" height="34"/><rect x="-769" y="-543" width="40" height="9"/><rect x="-753" y="-509" width="7" height="7"/><rect x="-762" y="-478" width="22" height="7"/><rect x="-754" y="-443" width="6" height="40"/><rect x="-765" y="-389" width="40" height="7"/><rect x="-758" y="-361" width="16" height="7"/><rect x="-770" y="-300" width="28" height="8"/><rect x="-758" y="-280" width="8" height="8"/><rect x="-759" y="-245" width="9" height="9"/><rect x="-751" y="-210" width="12" height="6"/><rect x="-769" y="-185" width="40" height="7"/><rect x="-747" y="-120" width="8" height="8"/><rect x="-747" y="-109" width="6" height="40"/><rect x="-761" y="-70" width="22" height="9"/><rect x="-758" y="-36" width="16" height="7"/><rect x="-759" y="-6" width="8" height="12"/><rect x="-760" y="26" width="8" height="8"/><rect x="-767" y="59" width="40" height="6"/><rect x="-752" y="84" width="16" height="9"/><rect x="-748" y="137" width="8" height="22"/><rect x="-761" y="170" width="28" height="9"/><rect x="-752" y="194" width="6" height="28"/><rect x="-763" y="231" width="16" height="9"/><rect x="-727" y="-1501" width="22" height="6"/><rect x="-718" y="-1228" width="9" height="9"/><rect x="-739" y="-1110" width="34" height="7"/><rect x="-719" y="-1024" width="8" height="8"/><rect x="-728" y="-791" width="8" height="12"/><rect x="-726" y="-731" width="9" height="9"/><rect x="-735" y="-688" width="22" height="8"/><rect x="-724" y="-599" width="12" height="7"/><rect x="-729" y="-550" width="9" height="16"/><rect x="-727" y="-522" width="6" height="22"/><rect x="-728" y="-465" width="9" height="40"/><rect x="-727" y="-379" width="7" height="28"/><rect x="-718" y="-331" width="7" height="7"/><rect x="-729" y="-308" width="8" height="22"/><rect x="-721" y="-269" width="8" height="8"/><rect x="-725" y="-222" width="8" height="16"/><rect x="-740" y="-182" width="34" height="6"/><rect x="-719" y="-150" width="7" height="7"/><rect x="-729" y="-100" width="8" height="8"/><rect x="-727" y="-61" width="12" height="9"/><rect x="-726" y="-33" width="9" height="9"/><rect x="-730" y="-10" width="16" height="8"/><rect x="-728" y="26" width="9" height="9"/><rect x="-720" y="70" width="8" height="34"/><rect x="-729" y="120" width="28" height="7"/><rect x="-728" y="145" width="9" height="9"/><rect x="-724" y="207" width="9" height="9"/><rect x="-721" y="262" width="8" height="8"/><rect x="-689" y="-1399" width="9" height="34"/><rect x="-688" y="-900" width="7" height="7"/><rect x="-695" y="-852" width="7" height="12"/><rect x="-698" y="-764" width="9" height="16"/><rect x="-696" y="-723" width="8" height="16"/><rect x="-687" y="-695" width="8" height="8"/><rect x="-700" y="-657" width="7" height="7"/><rect x="-689" y="-650" width="7" height="40"/><rect x="-689" y="-609" width="8" height="8"/><rect x="-689" y="-568" width="9" height="9"/><rect x="-698" y="-539" width="8" height="8"/><rect x="-705" y="-507" width="16" height="8"/><rect x="-690" y="-484" width="7" height="7"/><rect x="-700" y="-451" width="8" height="8"/><rect x="-693" y="-428" width="8" height="8"/><rect x="-694" y="-363" width="16" height="7"/><rect x="-701" y="-304" width="12" height="8"/><rect x="-694" y="-276" width="9" height="22"/><rect x="-692" y="-209" width="8" height="8"/><rect x="-689" y="-149" width="8" height="8"/><rect x="-692" y="-119" width="9" height="9"/><rect x="-696" y="-67" width="9" height="9"/><rect x="-711" y="60" width="28" height="9"/><rect x="-693" y="78" width="6" height="34"/><rect x="-687" y="116" width="7" height="7"/><rect x="-695" y="148" width="9" height="9"/><rect x="-701" y="181" width="34" height="6"/><rect x="-708" y="211" width="40" height="8"/><rect x="-690" y="227" width="6" height="28"/><rect x="-700" y="258" width="7" height="22"/><rect x="-700" y="294" width="7" height="7"/><rect x="-657" y="-1445" width="7" height="7"/><rect x="-665" y="-1415" width="22" height="7"/><rect x="-667" y="-1293" width="12" height="6"/><rect x="-668" y="-1115" width="12" height="9"/><rect x="-662" y="-1060" width="8" height="8"/><rect x="-675" y="-941" width="28" height="8"/><rect x="-686" y="-872" width="40" height="9"/><rect x="-674" y="-756" width="28" height="8"/><rect x="-675" y="-721" width="28" height="8"/><rect x="-670" y="-695" width="8" height="8"/><rect x="-668" y="-629" width="7" height="7"/><rect x="-659" y="-623" width="6" height="34"/><rect x="-667" y="-544" width="22" height="6"/><rect x="-666" y="-507" width="8" height="8"/><rect x="-666" y="-490" width="9" height="16"/><rect x="-674" y="-455" width="28" height="9"/><rect x="-659" y="-396" width="7" height="7"/><rect x="-674" y="-369" width="16" height="8"/><rect x="-661" y="-334" width="8" height="8"/><rect x="-665" y="-306" width="9" height="9"/><rect x="-668" y="-273" width="7" height="7"/><rect x="-660" y="-215" width="8" height="8"/><rect x="-662" y="-205" width="6" height="40"/><rect x="-667" y="-159" width="8" height="28"/><rect x="-670" y="-67" width="12" height="7"/><rect x="-670" y="-17" width="7" height="40"/><rect x="-663" y="23" width="8" height="22"/><rect x="-670" y="53" width="8" height="8"/><rect x="-659" y="117" width="9" height="9"/><rect x="-658" y="143" width="7" height="12"/><rect x="-667" y="174" width="7" height="7"/><rect x="-659" y="234" width="9" height="22"/><rect x="-666" y="271" width="16" height="6"/><rect x="-666" y="289" width="8" height="8"/><rect x="-635" y="-1420" width="9" height="28"/><rect x="-636" y="-1359" width="7" height="7"/><rect x="-634" y="-1269" width="8" height="8"/><rect x="-629" y="-933" width="7" height="7"/><rect x="-641" y="-904" width="34" height="8"/><rect x="-628" y="-702" width="6" height="16"/><rect x="-637" y="-667" width="9" height="9"/><rect x="-639" y="-638" width="8" height="8"/><rect x="-638" y="-601" width="9" height="9"/><rect x="-637" y="-544" width="8" height="8"/><rect x="-638" y="-519" width="8" height="12"/><rect x="-634" y="-489" width="8" height="16"/><rect x="-641" y="-448" width="8" height="8"/><rect x="-638" y="-426" width="8" height="8"/><rect x="-634" y="-394" width="8" height="8"/><rect x="-630" y="-378" width="6" height="34"/><rect x="-638" y="-336" width="8" height="8"/><rect x="-641" y="-278" width="8" height="8"/><rect x="-636" y="-240" width="8" height="8"/><rect x="-632" y="-235" width="8" height="40"/><rect x="-641" y="-190" width="16" height="8"/><rect x="-633" y="-151" width="7" height="7"/><rect x="-638" y="-122" width="8" height="12"/><rect x="-637" y="-90" width="7" height="7"/><rect x="-627" y="-62" width="7" height="7"/><rect x="-630" y="-30" width="8" height="8"/><rect x="-638" y="2" width="28" height="7"/><rect x="-641" y="22" width="9" height="22"/><rect x="-639" y="59" width="8" height="8"/><rect x="-637" y="114" width="9" height="9"/><rect x="-627" y="130" width="7" height="28"/><rect x="-629" y="180" width="9" height="9"/><rect x="-628" y="213" width="7" height="7"/><rect x="-628" y="231" width="9" height="9"/><rect x="-635" y="294" width="8" height="8"/><rect x="-633" y="481" width="8" height="8"/><rect x="-598" y="-1437" width="7" height="7"/><rect x="-610" y="-1140" width="7" height="7"/><rect x="-605" y="-1079" width="8" height="8"/><rect x="-610" y="-1069" width="8" height="28"/><rect x="-606" y="-904" width="22" height="7"/><rect x="-606" y="-874" width="7" height="7"/><rect x="-598" y="-722" width="7" height="7"/><rect x="-608" y="-695" width="7" height="7"/><rect x="-625" y="-600" width="40" height="8"/><rect x="-600" y="-428" width="8" height="8"/><rect x="-609" y="-389" width="8" height="8"/><rect x="-599" y="-365" width="9" height="9"/><rect x="-610" y="-336" width="7" height="7"/><rect x="-611" y="-311" width="9" height="9"/><rect x="-605" y="-250" width="9" height="28"/><rect x="-600" y="-221" width="8" height="8"/><rect x="-601" y="-184" width="8" height="8"/><rect x="-601" y="-124" width="12" height="9"/><rect x="-605" y="-59" width="12" height="8"/><rect x="-599" y="-27" width="7" height="7"/><rect x="-604" y="-8" width="6" height="16"/><rect x="-605" y="25" width="7" height="7"/><rect x="-602" y="55" width="9" height="9"/><rect x="-610" y="81" width="28" height="6"/><rect x="-610" y="110" width="7" height="7"/><rect x="-599" y="148" width="8" height="8"/><rect x="-608" y="197" width="9" height="22"/><rect x="-597" y="229" width="6" height="12"/><rect x="-610" y="293" width="9" height="9"/><rect x="-608" y="316" width="7" height="34"/><rect x="-611" y="350" width="9" height="9"/><rect x="-607" y="390" width="9" height="9"/><rect x="-605" y="475" width="8" height="12"/><rect x="-576" y="-1476" width="9" height="9"/><rect x="-570" y="-1260" width="8" height="8"/><rect x="-570" y="-1211" width="12" height="9"/><rect x="-588" y="-1169" width="40" height="7"/><rect x="-573" y="-1061" width="9" height="9"/><rect x="-581" y="-948" width="9" height="40"/><rect x="-575" y="-720" width="8" height="8"/><rect x="-572" y="-633" width="7" height="7"/><rect x="-580" y="-603" width="8" height="8"/><rect x="-576" y="-574" width="8" height="8"/><rect x="-579" y="-545" width="8" height="22"/><rect x="-572" y="-479" width="7" height="7"/><rect x="-575" y="-456" width="6" height="16"/><rect x="-580" y="-418" width="7" height="7"/><rect x="-570" y="-369" width="8" height="8"/><rect x="-578" y="-337" width="22" height="6"/><rect x="-576" y="-312" width="9" height="16"/><rect x="-568" y="-291" width="8" height="40"/><rect x="-593" y="-220" width="34" height="9"/><rect x="-574" y="-183" width="16" height="9"/><rect x="-582" y="-98" width="16" height="9"/><rect x="-579" y="-70" width="7" height="12"/><rect x="-588" y="-37" width="40" height="7"/><rect x="-572" y="21" width="6" height="12"/><rect x="-585" y="58" width="28" height="7"/><rect x="-577" y="93" width="7" height="7"/><rect x="-569" y="114" width="8" height="8"/><rect x="-572" y="152" width="7" height="7"/><rect x="-572" y="182" width="7" height="7"/><rect x="-576" y="201" width="9" height="28"/><rect x="-583" y="229" width="28" height="8"/><rect x="-588" y="265" width="28" height="8"/><rect x="-579" y="299" width="8" height="8"/><rect x="-581" y="332" width="12" height="7"/><rect x="-583" y="360" width="22" height="9"/><rect x="-582" y="386" width="16" height="9"/><rect x="-568" y="405" width="6" height="22"/><rect x="-593" y="447" width="34" height="8"/><rect x="-573" y="482" width="7" height="7"/><rect x="-548" y="-1202" width="7" height="7"/><rect x="-544" y="-1178" width="8" height="8"/><rect x="-548" y="-1144" width="9" height="9"/><rect x="-545" y="-1054" width="9" height="12"/><rect x="-545" y="-1036" width="7" height="34"/><rect x="-552" y="-718" width="28" height="8"/><rect x="-550" y="-712" width="7" height="34"/><rect x="-546" y="-630" width="9" height="9"/><rect x="-548" y="-496" width="7" height="40"/><rect x="-547" y="-457" width="8" height="8"/><rect x="-554" y="-424" width="40" height="7"/><rect x="-556" y="-388" width="28" height="6"/><rect x="-538" y="-348" width="7" height="34"/><rect x="-540" y="-301" width="9" height="9"/><rect x="-538" y="-292" width="8" height="34"/><rect x="-544" y="-250" width="8" height="8"/><rect x="-542" y="-214" width="7" height="7"/><rect x="-541" y="-187" width="6" height="12"/><rect x="-538" y="-152" width="8" height="8"/><rect x="-540" y="-96" width="8" height="8"/><rect x="-537" y="-76" width="6" height="40"/><rect x="-548" y="31" width="16" height="6"/><rect x="-538" y="60" width="9" height="12"/><rect x="-540" y="111" width="8" height="16"/><rect x="-545" y="151" width="7" height="7"/><rect x="-541" y="176" width="8" height="8"/><rect x="-546" y="202" width="8" height="22"/><rect x="-550" y="236" width="9" height="9"/><rect x="-539" y="338" width="6" height="40"/><rect x="-551" y="384" width="9" height="12"/><rect x="-549" y="415" width="8" height="8"/><rect x="-544" y="449" width="12" height="7"/><rect x="-553" y="481" width="22" height="9"/><rect x="-563" y="1169" width="40" height="6"/><rect x="-551" y="1202" width="34" height="6"/><rect x="-540" y="1318" width="9" height="9"/><rect x="-514" y="-1474" width="7" height="7"/><rect x="-517" y="-1431" width="7" height="34"/><rect x="-514" y="-1383" width="12" height="9"/><rect x="-522" y="-1361" width="34" height="9"/><rect x="-526" y="-1200" width="40" height="8"/><rect x="-512" y="-1188" width="8" height="28"/><rect x="-532" y="-1143" width="34" height="9"/><rect x="-520" y="-1071" width="8" height="34"/><rect x="-520" y="-929" width="12" height="9"/><rect x="-513" y="-719" width="9" height="9"/><rect x="-518" y="-692" width="8" height="8"/><rect x="-530" y="-662" width="28" height="6"/><rect x="-519" y="-599" width="7" height="7"/><rect x="-518" y="-571" width="7" height="12"/><rect x="-519" y="-509" width="7" height="7"/><rect x="-509" y="-491" width="8" height="8"/><rect x="-529" y="-450" width="34" height="7"/><rect x="-515" y="-417" width="8" height="8"/><rect x="-509" y="-416" width="6" height="40"/><rect x="-511" y="-329" width="8" height="8"/><rect x="-509" y="-309" width="8" height="16"/><rect x="-514" y="-257" width="8" height="40"/><rect x="-516" y="-215" width="7" height="22"/><rect x="-512" y="-154" width="9" height="9"/><rect x="-532" y="-91" width="40" height="8"/><rect x="-519" y="-69" width="7" height="7"/><rect x="-507" y="-30" width="7" height="7"/><rect x="-528" y="0" width="40" height="8"/><rect x="-516" y="29" width="12" height="6"/><rect x="-520" y="56" width="12" height="9"/><rect x="-513" y="87" width="7" height="7"/><rect x="-514" y="121" width="7" height="7"/><rect x="-512" y="135" width="9" height="40"/><rect x="-514" y="173" width="9" height="9"/><rect x="-507" y="205" width="7" height="7"/><rect x="-516" y="227" width="7" height="34"/><rect x="-512" y="270" width="9" height="9"/><rect x="-531" y="299" width="40" height="7"/><rect x="-521" y="333" width="16" height="8"/><rect x="-517" y="354" width="22" height="8"/><rect x="-515" y="385" width="7" height="7"/><rect x="-508" y="400" width="8" height="28"/><rect x="-517" y="863" width="22" height="9"/><rect x="-516" y="894" width="8" height="8"/><rect x="-520" y="989" width="6" height="12"/><rect x="-509" y="1084" width="12" height="6"/><rect x="-508" y="1121" width="7" height="40"/><rect x="-485" y="-1395" width="6" height="28"/><rect x="-481" y="-1203" width="8" height="8"/><rect x="-490" y="-1114" width="34" height="6"/><rect x="-479" y="-1089" width="6" height="16"/><rect x="-490" y="-1057" width="9" height="9"/><rect x="-480" y="-1037" width="6" height="22"/><rect x="-482" y="-1010" width="8" height="40"/><rect x="-487" y="-964" width="9" height="16"/><rect x="-492" y="-939" width="34" height="7"/><rect x="-478" y="-839" width="8" height="8"/><rect x="-487" y="-738" width="7" height="40"/><rect x="-490" y="-691" width="22" height="8"/><rect x="-481" y="-675" width="7" height="28"/><rect x="-489" y="-638" width="16" height="7"/><rect x="-478" y="-590" width="9" height="40"/><rect x="-488" y="-546" width="9" height="22"/><rect x="-487" y="-511" width="8" height="8"/><rect x="-490" y="-459" width="28" height="9"/><rect x="-481" y="-418" width="8" height="8"/><rect x="-478" y="-391" width="7" height="7"/><rect x="-482" y="-368" width="9" height="9"/><rect x="-498" y="-268" width="40" height="8"/><rect x="-484" y="-114" width="8" height="34"/><rect x="-484" y="-59" width="7" height="7"/><rect x="-482" y="-30" width="8" height="8"/><rect x="-488" y="-15" width="6" height="40"/><rect x="-482" y="54" width="6" height="22"/><rect x="-481" y="81" width="8" height="8"/><rect x="-477" y="119" width="6" height="16"/><rect x="-478" y="180" width="8" height="8"/><rect x="-481" y="202" width="8" height="8"/><rect x="-486" y="235" width="8" height="8"/><rect x="-494" y="265" width="40" height="8"/><rect x="-490" y="330" width="9" height="9"/><rect x="-491" y="350" width="8" height="8"/><rect x="-490" y="381" width="22" height="8"/><rect x="-488" y="441" width="7" height="16"/><rect x="-487" y="471" width="8" height="8"/><rect x="-487" y="507" width="8" height="8"/><rect x="-485" y="864" width="12" height="6"/><rect x="-488" y="930" width="28" height="8"/><rect x="-486" y="958" width="8" height="8"/><rect x="-484" y="1315" width="8" height="8"/><rect x="-485" y="1345" width="8" height="8"/><rect x="-456" y="-1210" width="8" height="8"/><rect x="-454" y="-1186" width="8" height="34"/><rect x="-463" y="-1086" width="16" height="9"/><rect x="-466" y="-1061" width="40" height="9"/><rect x="-450" y="-1020" width="9" height="9"/><rect x="-459" y="-1013" width="6" height="40"/><rect x="-450" y="-939" width="9" height="9"/><rect x="-458" y="-899" width="8" height="8"/><rect x="-450" y="-790" width="8" height="16"/><rect x="-452" y="-721" width="8" height="8"/><rect x="-470" y="-665" width="28" height="6"/><rect x="-454" y="-627" width="12" height="7"/><rect x="-456" y="-572" width="8" height="8"/><rect x="-450" y="-544" width="9" height="9"/><rect x="-462" y="-516" width="16" height="8"/><rect x="-446" y="-487" width="6" height="16"/><rect x="-450" y="-451" width="9" height="9"/><rect x="-450" y="-443" width="7" height="40"/><rect x="-465" y="-392" width="28" height="8"/><rect x="-452" y="-370" width="6" height="16"/><rect x="-457" y="-346" width="9" height="22"/><rect x="-448" y="-303" width="8" height="16"/><rect x="-457" y="-272" width="9" height="9"/><rect x="-450" y="-245" width="9" height="9"/><rect x="-459" y="-210" width="7" height="7"/><rect x="-465" y="-130" width="40" height="9"/><rect x="-459" y="-88" width="8" height="8"/><rect x="-471" y="-60" width="40" height="9"/><rect x="-455" y="-35" width="22" height="6"/><rect x="-468" y="1" width="28" height="9"/><rect x="-476" y="19" width="40" height="8"/><rect x="-456" y="54" width="8" height="8"/><rect x="-456" y="93" width="16" height="7"/><rect x="-458" y="141" width="8" height="8"/><rect x="-474" y="174" width="40" height="7"/><rect x="-460" y="192" width="8" height="34"/><rect x="-448" y="236" width="9" height="12"/><rect x="-449" y="262" width="8" height="16"/><rect x="-448" y="302" width="8" height="8"/><rect x="-450" y="332" width="8" height="8"/><rect x="-452" y="357" width="8" height="8"/><rect x="-454" y="418" width="9" height="9"/><rect x="-470" y="450" width="40" height="8"/><rect x="-454" y="481" width="7" height="7"/><rect x="-459" y="513" width="28" height="7"/><rect x="-455" y="896" width="8" height="8"/><rect x="-468" y="981" width="40" height="9"/><rect x="-441" y="-1389" width="34" height="8"/><rect x="-441" y="-1166" width="34" height="6"/><rect x="-422" y="-1008" width="6" height="40"/><rect x="-430" y="-960" width="34" height="9"/><rect x="-425" y="-928" width="12" height="8"/><rect x="-422" y="-840" width="9" height="9"/><rect x="-429" y="-781" width="8" height="8"/><rect x="-419" y="-758" width="8" height="8"/><rect x="-427" y="-729" width="9" height="9"/><rect x="-421" y="-695" width="7" height="16"/><rect x="-425" y="-680" width="7" height="34"/><rect x="-417" y="-636" width="8" height="8"/><rect x="-425" y="-578" width="16" height="9"/><rect x="-417" y="-546" width="7" height="7"/><rect x="-416" y="-522" width="6" height="28"/><rect x="-418" y="-481" width="9" height="9"/><rect x="-423" y="-426" width="12" height="8"/><rect x="-429" y="-410" width="7" height="28"/><rect x="-419" y="-363" width="12" height="7"/><rect x="-428" y="-339" width="8" height="16"/><rect x="-438" y="-268" width="22" height="9"/><rect x="-433" y="-242" width="12" height="7"/><rect x="-420" y="-208" width="7" height="7"/><rect x="-420" y="-180" width="8" height="8"/><rect x="-430" y="-123" width="8" height="8"/><rect x="-418" y="-92" width="8" height="16"/><rect x="-427" y="-68" width="9" height="9"/><rect x="-429" y="-34" width="22" height="6"/><rect x="-431" y="-10" width="28" height="7"/><rect x="-427" y="19" width="8" height="16"/><rect x="-423" y="50" width="8" height="8"/><rect x="-423" y="122" width="12" height="7"/><rect x="-419" y="174" width="7" height="22"/><rect x="-442" y="205" width="34" height="9"/><rect x="-422" y="260" width="9" height="9"/><rect x="-420" y="300" width="8" height="8"/><rect x="-425" y="363" width="7" height="7"/><rect x="-424" y="377" width="6" height="22"/><rect x="-417" y="417" width="8" height="8"/><rect x="-422" y="477" width="7" height="7"/><rect x="-434" y="831" width="34" height="9"/><rect x="-424" y="1020" width="12" height="6"/><rect x="-417" y="1062" width="7" height="34"/><rect x="-420" y="1164" width="8" height="22"/><rect x="-427" y="1188" width="9" height="16"/><rect x="-432" y="1227" width="22" height="6"/><rect x="-418" y="1250" width="8" height="8"/><rect x="-428" y="1296" width="6" height="40"/><rect x="-426" y="1344" width="8" height="8"/><rect x="-403" y="-1236" width="28" height="8"/><rect x="-391" y="-1217" width="9" height="28"/><rect x="-395" y="-1180" width="8" height="8"/><rect x="-393" y="-1149" width="7" height="12"/><rect x="-398" y="-1114" width="9" height="9"/><rect x="-392" y="-1053" width="9" height="9"/><rect x="-390" y="-1020" width="8" height="8"/><rect x="-391" y="-963" width="12" height="8"/><rect x="-390" y="-848" width="6" height="16"/><rect x="-399" y="-809" width="6" height="12"/><rect x="-402" y="-752" width="16" height="6"/><rect x="-391" y="-730" width="7" height="7"/><rect x="-398" y="-665" width="8" height="8"/><rect x="-395" y="-647" width="9" height="40"/><rect x="-398" y="-604" width="28" height="7"/><rect x="-397" y="-577" width="8" height="8"/><rect x="-406" y="-538" width="22" height="7"/><rect x="-403" y="-514" width="22" height="8"/><rect x="-391" y="-487" width="8" height="8"/><rect x="-401" y="-468" width="8" height="40"/><rect x="-394" y="-421" width="12" height="8"/><rect x="-388" y="-302" width="7" height="7"/><rect x="-390" y="-276" width="8" height="12"/><rect x="-398" y="-244" width="12" height="6"/><rect x="-391" y="-212" width="7" height="7"/><rect x="-389" y="-185" width="12" height="9"/><rect x="-398" y="-161" width="8" height="34"/><rect x="-395" y="-121" width="16" height="8"/><rect x="-393" y="-91" width="9" height="9"/><rect x="-386" y="-80" width="6" height="34"/><rect x="-399" y="-30" width="28" height="8"/><rect x="-388" y="-9" width="8" height="8"/><rect x="-399" y="63" width="8" height="40"/><rect x="-394" y="122" width="8" height="8"/><rect x="-400" y="149" width="16" height="9"/><rect x="-406" y="183" width="40" height="6"/><rect x="-390" y="243" width="7" height="7"/><rect x="-398" y="263" width="28" height="6"/><rect x="-397" y="286" width="9" height="22"/><rect x="-396" y="319" width="6" height="22"/><rect x="-403" y="362" width="12" height="8"/><rect x="-394" y="384" width="8" height="8"/><rect x="-400" y="400" width="9" height="28"/><rect x="-401" y="440" width="22" height="8"/><rect x="-404" y="478" width="22" height="7"/><rect x="-389" y="502" width="7" height="7"/><rect x="-393" y="530" width="7" height="7"/><rect x="-398" y="868" width="12" height="7"/><rect x="-386" y="952" width="6" height="22"/><rect x="-392" y="981" width="8" height="8"/><rect x="-387" y="1010" width="8" height="8"/><rect x="-416" y="1051" width="40" height="7"/><rect x="-398" y="1081" width="12" height="9"/><rect x="-388" y="1111" width="9" height="9"/><rect x="-399" y="1131" width="7" height="7"/><rect x="-392" y="1172" width="9" height="9"/><rect x="-389" y="1199" width="9" height="9"/><rect x="-400" y="1260" width="28" height="7"/><rect x="-390" y="1282" width="8" height="8"/><rect x="-403" y="1323" width="28" height="6"/><rect x="-391" y="1340" width="12" height="8"/><rect x="-358" y="-1409" width="8" height="8"/><rect x="-361" y="-1323" width="9" height="12"/><rect x="-368" y="-1208" width="28" height="8"/><rect x="-361" y="-1156" width="6" height="34"/><rect x="-369" y="-1111" width="9" height="9"/><rect x="-367" y="-1051" width="9" height="9"/><rect x="-357" y="-1036" width="8" height="34"/><rect x="-366" y="-1001" width="8" height="8"/><rect x="-366" y="-928" width="9" height="9"/><rect x="-363" y="-847" width="7" height="22"/><rect x="-360" y="-756" width="8" height="16"/><rect x="-369" y="-721" width="8" height="8"/><rect x="-368" y="-691" width="22" height="8"/><rect x="-363" y="-659" width="8" height="8"/><rect x="-360" y="-651" width="6" height="34"/><rect x="-362" y="-601" width="6" height="12"/><rect x="-369" y="-569" width="9" height="9"/><rect x="-369" y="-550" width="9" height="9"/><rect x="-367" y="-510" width="6" height="12"/><rect x="-371" y="-479" width="8" height="8"/><rect x="-364" y="-453" width="22" height="9"/><rect x="-363" y="-435" width="6" height="34"/><rect x="-373" y="-391" width="12" height="7"/><rect x="-357" y="-371" width="8" height="8"/><rect x="-360" y="-314" width="8" height="22"/><rect x="-363" y="-274" width="9" height="12"/><rect x="-380" y="-245" width="28" height="6"/><rect x="-362" y="-216" width="7" height="7"/><rect x="-359" y="-187" width="7" height="7"/><rect x="-370" y="-172" width="7" height="40"/><rect x="-358" y="-125" width="9" height="9"/><rect x="-362" y="-35" width="9" height="9"/><rect x="-361" y="28" width="16" height="9"/><rect x="-367" y="78" width="9" height="16"/><rect x="-358" y="105" width="6" height="28"/><rect x="-361" y="143" width="7" height="28"/><rect x="-379" y="233" width="34" height="9"/><rect x="-369" y="268" width="8" height="8"/><rect x="-377" y="293" width="22" height="8"/><rect x="-367" y="314" width="7" height="40"/><rect x="-366" y="354" width="8" height="8"/><rect x="-370" y="407" width="9" height="34"/><rect x="-373" y="442" width="22" height="9"/><rect x="-362" y="499" width="6" height="16"/><rect x="-366" y="540" width="12" height="6"/><rect x="-371" y="742" width="28" height="8"/><rect x="-360" y="782" width="9" height="9"/><rect x="-364" y="869" width="12" height="8"/><rect x="-357" y="941" width="7" height="40"/><rect x="-361" y="979" width="9" height="12"/><rect x="-360" y="1009" width="8" height="16"/><rect x="-368" y="1044" width="7" height="16"/><rect x="-369" y="1078" width="9" height="9"/><rect x="-383" y="1111" width="40" height="8"/><rect x="-362" y="1198" width="9" height="9"/><rect x="-371" y="1222" width="22" height="6"/><rect x="-332" y="-1465" width="8" height="40"/><rect x="-346" y="-1408" width="40" height="8"/><rect x="-344" y="-1384" width="40" height="6"/><rect x="-337" y="-1292" width="6" height="12"/><rect x="-338" y="-1266" width="9" height="9"/><rect x="-343" y="-1208" width="34" height="7"/><rect x="-328" y="-1151" width="9" height="9"/><rect x="-335" y="-1111" width="8" height="16"/><rect x="-328" y="-1087" width="8" height="8"/><rect x="-328" y="-1019" width="7" height="7"/><rect x="-336" y="-1000" width="8" height="8"/><rect x="-332" y="-972" width="9" height="22"/><rect x="-340" y="-935" width="22" height="6"/><rect x="-332" y="-899" width="8" height="8"/><rect x="-330" y="-877" width="7" height="28"/><rect x="-331" y="-819" width="7" height="7"/><rect x="-340" y="-788" width="8" height="8"/><rect x="-339" y="-725" width="12" height="8"/><rect x="-338" y="-689" width="7" height="7"/><rect x="-332" y="-663" width="7" height="7"/><rect x="-343" y="-633" width="16" height="6"/><rect x="-328" y="-618" width="9" height="40"/><rect x="-342" y="-542" width="22" height="6"/><rect x="-331" y="-508" width="8" height="8"/><rect x="-337" y="-485" width="8" height="22"/><rect x="-342" y="-458" width="28" height="9"/><rect x="-353" y="-422" width="40" height="8"/><rect x="-342" y="-401" width="28" height="8"/><rect x="-339" y="-363" width="16" height="6"/><rect x="-343" y="-338" width="22" height="7"/><rect x="-332" y="-306" width="9" height="9"/><rect x="-331" y="-271" width="8" height="8"/><rect x="-332" y="-245" width="9" height="9"/><rect x="-341" y="-162" width="9" height="12"/><rect x="-328" y="-140" width="7" height="28"/><rect x="-331" y="-92" width="8" height="8"/><rect x="-335" y="-75" width="6" height="40"/><rect x="-337" y="30" width="8" height="8"/><rect x="-348" y="80" width="40" height="7"/><rect x="-326" y="118" width="6" height="12"/><rect x="-328" y="202" width="8" height="8"/><rect x="-336" y="240" width="7" height="7"/><rect x="-332" y="323" width="8" height="8"/><rect x="-329" y="423" width="8" height="8"/><rect x="-338" y="450" width="8" height="8"/><rect x="-334" y="475" width="8" height="8"/><rect x="-332" y="505" width="16" height="6"/><rect x="-328" y="536" width="8" height="8"/><rect x="-333" y="567" width="9" height="9"/><rect x="-349" y="590" width="28" height="9"/><rect x="-329" y="658" width="8" height="8"/><rect x="-344" y="685" width="22" height="6"/><rect x="-336" y="719" width="16" height="8"/><rect x="-350" y="750" width="40" height="9"/><rect x="-339" y="767" width="7" height="28"/><rect x="-328" y="813" width="8" height="8"/><rect x="-349" y="829" width="28" height="9"/><rect x="-334" y="1189" width="8" height="8"/><rect x="-338" y="1224" width="9" height="16"/><rect x="-328" y="1250" width="9" height="28"/><rect x="-337" y="1291" width="7" height="7"/><rect x="-313" y="-1448" width="12" height="8"/><rect x="-308" y="-1421" width="8" height="8"/><rect x="-305" y="-1399" width="7" height="34"/><rect x="-297" y="-1357" width="7" height="7"/><rect x="-302" y="-1289" width="12" height="9"/><rect x="-303" y="-1262" width="6" height="12"/><rect x="-300" y="-1244" width="9" height="28"/><rect x="-300" y="-1215" width="7" height="22"/><rect x="-308" y="-1180" width="8" height="8"/><rect x="-302" y="-1138" width="8" height="8"/><rect x="-307" y="-1115" width="7" height="7"/><rect x="-309" y="-1090" width="8" height="12"/><rect x="-310" y="-1026" width="7" height="7"/><rect x="-317" y="-992" width="22" height="7"/><rect x="-307" y="-957" width="8" height="8"/><rect x="-310" y="-907" width="16" height="7"/><rect x="-308" y="-839" width="9" height="9"/><rect x="-298" y="-817" width="8" height="8"/><rect x="-298" y="-766" width="6" height="22"/><rect x="-309" y="-729" width="7" height="7"/><rect x="-310" y="-607" width="7" height="7"/><rect x="-323" y="-539" width="34" height="8"/><rect x="-306" y="-517" width="7" height="7"/><rect x="-306" y="-451" width="22" height="7"/><rect x="-310" y="-428" width="9" height="12"/><rect x="-317" y="-390" width="28" height="9"/><rect x="-303" y="-336" width="8" height="8"/><rect x="-311" y="-306" width="28" height="6"/><rect x="-308" y="-282" width="6" height="34"/><rect x="-311" y="-244" width="12" height="7"/><rect x="-309" y="-220" width="8" height="16"/><rect x="-321" y="-187" width="34" height="7"/><rect x="-309" y="-160" width="8" height="8"/><rect x="-311" y="-124" width="28" height="8"/><rect x="-326" y="-90" width="40" height="7"/><rect x="-297" y="-57" width="7" height="7"/><rect x="-308" y="19" width="8" height="22"/><rect x="-302" y="62" width="7" height="7"/><rect x="-315" y="88" width="28" height="8"/><rect x="-307" y="133" width="7" height="22"/><rect x="-304" y="176" width="9" height="9"/><rect x="-310" y="200" width="22" height="8"/><rect x="-310" y="242" width="9" height="9"/><rect x="-313" y="266" width="16" height="9"/><rect x="-314" y="385" width="40" height="9"/><rect x="-306" y="416" width="9" height="9"/><rect x="-317" y="506" width="34" height="7"/><rect x="-304" y="620" width="12" height="9"/><rect x="-322" y="660" width="40" height="8"/><rect x="-314" y="685" width="16" height="6"/><rect x="-298" y="752" width="8" height="8"/><rect x="-309" y="780" width="8" height="8"/><rect x="-298" y="812" width="9" height="9"/><rect x="-303" y="829" width="8" height="22"/><rect x="-315" y="864" width="34" height="7"/><rect x="-309" y="1139" width="12" height="6"/><rect x="-303" y="1154" width="9" height="40"/><rect x="-301" y="1248" width="6" height="34"/><rect x="-304" y="1281" width="8" height="8"/><rect x="-281" y="-1409" width="8" height="8"/><rect x="-270" y="-1402" width="6" height="34"/><rect x="-275" y="-1356" width="12" height="7"/><rect x="-286" y="-1319" width="22" height="6"/><rect x="-276" y="-1270" width="8" height="8"/><rect x="-270" y="-1210" width="8" height="8"/><rect x="-278" y="-1179" width="12" height="6"/><rect x="-297" y="-1143" width="40" height="9"/><rect x="-267" y="-1117" width="6" height="12"/><rect x="-276" y="-1080" width="7" height="7"/><rect x="-280" y="-1017" width="8" height="8"/><rect x="-269" y="-939" width="8" height="8"/><rect x="-269" y="-897" width="8" height="8"/><rect x="-271" y="-797" width="6" height="40"/><rect x="-279" y="-760" width="8" height="8"/><rect x="-267" y="-728" width="8" height="8"/><rect x="-280" y="-630" width="8" height="8"/><rect x="-288" y="-597" width="28" height="8"/><rect x="-290" y="-571" width="40" height="6"/><rect x="-269" y="-520" width="7" height="7"/><rect x="-272" y="-418" width="9" height="9"/><rect x="-280" y="-299" width="8" height="8"/><rect x="-272" y="-270" width="16" height="9"/><rect x="-275" y="-251" width="8" height="8"/><rect x="-270" y="-191" width="8" height="8"/><rect x="-270" y="-159" width="9" height="9"/><rect x="-276" y="-125" width="7" height="7"/><rect x="-291" y="-61" width="28" height="9"/><rect x="-274" y="-27" width="7" height="7"/><rect x="-277" y="-9" width="16" height="9"/><rect x="-287" y="33" width="28" height="7"/><rect x="-269" y="54" width="12" height="8"/><rect x="-271" y="84" width="8" height="8"/><rect x="-272" y="107" width="7" height="16"/><rect x="-281" y="170" width="9" height="9"/><rect x="-270" y="205" width="7" height="7"/><rect x="-289" y="230" width="34" height="9"/><rect x="-267" y="285" width="7" height="22"/><rect x="-283" y="321" width="28" height="8"/><rect x="-288" y="392" width="40" height="9"/><rect x="-270" y="410" width="6" height="16"/><rect x="-268" y="431" width="8" height="40"/><rect x="-268" y="465" width="8" height="28"/><rect x="-281" y="508" width="8" height="8"/><rect x="-274" y="531" width="8" height="8"/><rect x="-287" y="564" width="34" height="9"/><rect x="-277" y="588" width="9" height="22"/><rect x="-269" y="633" width="8" height="8"/><rect x="-271" y="658" width="8" height="8"/><rect x="-279" y="683" width="8" height="8"/><rect x="-275" y="701" width="8" height="28"/><rect x="-279" y="733" width="8" height="28"/><rect x="-268" y="771" width="8" height="8"/><rect x="-269" y="810" width="9" height="9"/><rect x="-272" y="834" width="8" height="8"/><rect x="-272" y="1134" width="9" height="22"/><rect x="-281" y="1153" width="8" height="28"/><rect x="-274" y="1190" width="8" height="28"/><rect x="-278" y="1226" width="8" height="8"/><rect x="-276" y="1254" width="12" height="8"/><rect x="-279" y="1286" width="8" height="8"/><rect x="-281" y="1315" width="12" height="8"/><rect x="-281" y="1374" width="34" height="9"/><rect x="-255" y="-1442" width="28" height="9"/><rect x="-246" y="-1407" width="8" height="8"/><rect x="-253" y="-1387" width="34" height="8"/><rect x="-249" y="-1355" width="9" height="12"/><rect x="-265" y="-1267" width="40" height="8"/><rect x="-251" y="-1198" width="8" height="8"/><rect x="-239" y="-1173" width="8" height="8"/><rect x="-241" y="-1150" width="8" height="8"/><rect x="-244" y="-1125" width="7" height="28"/><rect x="-259" y="-1078" width="40" height="9"/><rect x="-242" y="-1047" width="16" height="7"/><rect x="-250" y="-1024" width="8" height="8"/><rect x="-239" y="-965" width="8" height="8"/><rect x="-255" y="-759" width="40" height="6"/><rect x="-239" y="-733" width="8" height="16"/><rect x="-249" y="-663" width="8" height="8"/><rect x="-246" y="-604" width="8" height="8"/><rect x="-247" y="-570" width="12" height="7"/><rect x="-248" y="-538" width="22" height="7"/><rect x="-240" y="-511" width="8" height="12"/><rect x="-262" y="-491" width="34" height="8"/><rect x="-246" y="-457" width="9" height="16"/><rect x="-249" y="-421" width="8" height="12"/><rect x="-241" y="-392" width="8" height="8"/><rect x="-238" y="-367" width="8" height="16"/><rect x="-243" y="-338" width="8" height="8"/><rect x="-252" y="-309" width="34" height="9"/><rect x="-254" y="-272" width="28" height="8"/><rect x="-238" y="-217" width="9" height="9"/><rect x="-258" y="-156" width="40" height="6"/><rect x="-242" y="-112" width="9" height="34"/><rect x="-246" y="-67" width="8" height="8"/><rect x="-239" y="-6" width="7" height="7"/><rect x="-243" y="32" width="8" height="8"/><rect x="-238" y="83" width="8" height="8"/><rect x="-242" y="121" width="8" height="8"/><rect x="-251" y="137" width="9" height="22"/><rect x="-247" y="175" width="8" height="8"/><rect x="-255" y="241" width="34" height="6"/><rect x="-256" y="268" width="28" height="7"/><rect x="-239" y="302" width="7" height="7"/><rect x="-243" y="333" width="7" height="7"/><rect x="-247" y="351" width="9" height="9"/><rect x="-240" y="385" width="8" height="8"/><rect x="-239" y="440" width="7" height="7"/><rect x="-242" y="474" width="8" height="22"/><rect x="-249" y="510" width="9" height="9"/><rect x="-245" y="519" width="9" height="34"/><rect x="-241" y="545" width="7" height="40"/><rect x="-248" y="582" width="7" height="28"/><rect x="-248" y="628" width="8" height="8"/><rect x="-251" y="651" width="8" height="16"/><rect x="-251" y="692" width="12" height="8"/><rect x="-238" y="719" width="8" height="8"/><rect x="-258" y="809" width="34" height="9"/><rect x="-248" y="824" width="8" height="22"/><rect x="-238" y="1070" width="6" height="22"/><rect x="-245" y="1112" width="8" height="8"/><rect x="-250" y="1130" width="22" height="7"/><rect x="-237" y="1156" width="6" height="16"/><rect x="-248" y="1189" width="7" height="12"/><rect x="-247" y="1229" width="16" height="6"/><rect x="-244" y="1250" width="8" height="22"/><rect x="-240" y="1282" width="8" height="8"/><rect x="-240" y="1315" width="7" height="7"/><rect x="-242" y="1337" width="8" height="28"/><rect x="-238" y="1372" width="9" height="9"/><rect x="-220" y="-1410" width="8" height="8"/><rect x="-216" y="-1391" width="9" height="12"/><rect x="-215" y="-1358" width="9" height="16"/><rect x="-213" y="-1326" width="7" height="12"/><rect x="-218" y="-1299" width="6" height="28"/><rect x="-214" y="-1268" width="9" height="9"/><rect x="-232" y="-1239" width="34" height="8"/><rect x="-227" y="-1171" width="22" height="8"/><rect x="-216" y="-1139" width="9" height="9"/><rect x="-219" y="-1110" width="9" height="9"/><rect x="-224" y="-1088" width="16" height="7"/><rect x="-217" y="-1050" width="8" height="8"/><rect x="-207" y="-1043" width="8" height="40"/><rect x="-212" y="-1000" width="9" height="9"/><rect x="-231" y="-968" width="40" height="6"/><rect x="-213" y="-939" width="12" height="6"/><rect x="-216" y="-897" width="7" height="7"/><rect x="-215" y="-870" width="22" height="8"/><rect x="-209" y="-839" width="7" height="7"/><rect x="-220" y="-809" width="8" height="8"/><rect x="-210" y="-786" width="8" height="8"/><rect x="-214" y="-754" width="6" height="12"/><rect x="-210" y="-723" width="8" height="16"/><rect x="-222" y="-669" width="28" height="8"/><rect x="-207" y="-642" width="7" height="22"/><rect x="-209" y="-608" width="9" height="9"/><rect x="-210" y="-581" width="8" height="16"/><rect x="-215" y="-551" width="7" height="28"/><rect x="-218" y="-517" width="16" height="6"/><rect x="-213" y="-489" width="7" height="7"/><rect x="-214" y="-455" width="7" height="7"/><rect x="-215" y="-435" width="6" height="34"/><rect x="-216" y="-365" width="6" height="22"/><rect x="-211" y="-339" width="7" height="7"/><rect x="-218" y="-311" width="9" height="22"/><rect x="-217" y="-273" width="22" height="8"/><rect x="-209" y="-180" width="9" height="12"/><rect x="-211" y="-151" width="7" height="7"/><rect x="-219" y="-123" width="12" height="7"/><rect x="-225" y="-39" width="22" height="6"/><rect x="-225" y="2" width="16" height="7"/><rect x="-223" y="32" width="16" height="6"/><rect x="-209" y="60" width="7" height="12"/><rect x="-216" y="80" width="7" height="16"/><rect x="-208" y="122" width="9" height="9"/><rect x="-209" y="143" width="9" height="9"/><rect x="-229" y="180" width="34" height="9"/><rect x="-211" y="237" width="8" height="8"/><rect x="-220" y="275" width="9" height="40"/><rect x="-213" y="327" width="8" height="8"/><rect x="-216" y="353" width="7" height="7"/><rect x="-219" y="382" width="8" height="8"/><rect x="-228" y="445" width="28" height="9"/><rect x="-220" y="498" width="9" height="28"/><rect x="-210" y="568" width="8" height="16"/><rect x="-217" y="597" width="9" height="12"/><rect x="-215" y="633" width="7" height="7"/><rect x="-218" y="653" width="28" height="7"/><rect x="-214" y="680" width="7" height="7"/><rect x="-218" y="712" width="22" height="7"/><rect x="-219" y="745" width="9" height="12"/><rect x="-230" y="782" width="40" height="8"/><rect x="-214" y="819" width="9" height="34"/><rect x="-229" y="868" width="34" height="6"/><rect x="-211" y="930" width="8" height="8"/><rect x="-218" y="961" width="9" height="9"/><rect x="-217" y="982" width="8" height="8"/><rect x="-212" y="1017" width="7" height="12"/><rect x="-235" y="1045" width="40" height="9"/><rect x="-207" y="1112" width="7" height="7"/><rect x="-215" y="1137" width="7" height="16"/><rect x="-208" y="1164" width="7" height="22"/><rect x="-211" y="1196" width="8" height="8"/><rect x="-215" y="1228" width="9" height="9"/><rect x="-219" y="1249" width="28" height="9"/><rect x="-219" y="1279" width="8" height="22"/><rect x="-216" y="1380" width="8" height="8"/><rect x="-183" y="-1391" width="9" height="9"/><rect x="-188" y="-1353" width="7" height="7"/><rect x="-186" y="-1334" width="6" height="22"/><rect x="-186" y="-1284" width="9" height="40"/><rect x="-190" y="-1233" width="9" height="9"/><rect x="-190" y="-1178" width="16" height="9"/><rect x="-181" y="-1141" width="7" height="12"/><rect x="-189" y="-1120" width="9" height="9"/><rect x="-185" y="-1088" width="7" height="7"/><rect x="-180" y="-1050" width="8" height="8"/><rect x="-188" y="-998" width="8" height="28"/><rect x="-186" y="-974" width="9" height="34"/><rect x="-182" y="-939" width="9" height="9"/><rect x="-187" y="-869" width="12" height="7"/><rect x="-189" y="-839" width="8" height="8"/><rect x="-187" y="-822" width="9" height="16"/><rect x="-177" y="-757" width="7" height="7"/><rect x="-189" y="-699" width="7" height="7"/><rect x="-195" y="-661" width="22" height="7"/><rect x="-178" y="-647" width="6" height="40"/><rect x="-183" y="-585" width="8" height="34"/><rect x="-188" y="-544" width="6" height="22"/><rect x="-184" y="-528" width="8" height="22"/><rect x="-188" y="-486" width="22" height="6"/><rect x="-180" y="-453" width="8" height="8"/><rect x="-188" y="-362" width="7" height="7"/><rect x="-185" y="-344" width="6" height="40"/><rect x="-205" y="-299" width="40" height="9"/><rect x="-187" y="-275" width="8" height="8"/><rect x="-187" y="-262" width="7" height="34"/><rect x="-188" y="-187" width="8" height="22"/><rect x="-180" y="-149" width="7" height="7"/><rect x="-187" y="-133" width="7" height="22"/><rect x="-191" y="-95" width="9" height="9"/><rect x="-189" y="-68" width="9" height="9"/><rect x="-183" y="-35" width="7" height="7"/><rect x="-187" y="29" width="6" height="12"/><rect x="-186" y="53" width="9" height="9"/><rect x="-192" y="82" width="12" height="7"/><rect x="-183" y="141" width="8" height="12"/><rect x="-191" y="181" width="28" height="6"/><rect x="-189" y="193" width="9" height="28"/><rect x="-186" y="226" width="8" height="16"/><rect x="-183" y="261" width="8" height="8"/><rect x="-189" y="294" width="8" height="12"/><rect x="-196" y="329" width="40" height="6"/><rect x="-194" y="359" width="22" height="8"/><rect x="-205" y="388" width="40" height="8"/><rect x="-201" y="416" width="34" height="9"/><rect x="-189" y="441" width="7" height="12"/><rect x="-181" y="466" width="6" height="40"/><rect x="-185" y="492" width="7" height="28"/><rect x="-180" y="530" width="8" height="8"/><rect x="-179" y="567" width="6" height="12"/><rect x="-184" y="640" width="7" height="40"/><rect x="-177" y="717" width="8" height="8"/><rect x="-185" y="745" width="7" height="7"/><rect x="-188" y="773" width="22" height="8"/><rect x="-201" y="808" width="28" height="6"/><rect x="-183" y="866" width="6" height="12"/><rect x="-189" y="897" width="7" height="12"/><rect x="-190" y="957" width="12" height="7"/><rect x="-190" y="984" width="34" height="7"/><rect x="-187" y="1014" width="9" height="9"/><rect x="-184" y="1052" width="9" height="9"/><rect x="-182" y="1090" width="9" height="34"/><rect x="-186" y="1120" width="7" height="34"/><rect x="-182" y="1172" width="16" height="8"/><rect x="-187" y="1201" width="7" height="7"/><rect x="-191" y="1220" width="16" height="8"/><rect x="-187" y="1256" width="8" height="8"/><rect x="-187" y="1283" width="9" height="9"/><rect x="-202" y="1317" width="34" height="7"/><rect x="-181" y="1351" width="9" height="9"/><rect x="-200" y="1381" width="40" height="6"/><rect x="-172" y="-1418" width="40" height="6"/><rect x="-150" y="-1336" width="6" height="40"/><rect x="-150" y="-1298" width="8" height="8"/><rect x="-151" y="-1256" width="12" height="6"/><rect x="-160" y="-1242" width="8" height="28"/><rect x="-149" y="-1207" width="12" height="8"/><rect x="-162" y="-1170" width="16" height="6"/><rect x="-160" y="-1150" width="8" height="8"/><rect x="-171" y="-1109" width="40" height="6"/><rect x="-168" y="-1080" width="40" height="9"/><rect x="-154" y="-1055" width="8" height="12"/><rect x="-156" y="-1029" width="8" height="12"/><rect x="-159" y="-996" width="16" height="7"/><rect x="-152" y="-940" width="8" height="28"/><rect x="-153" y="-911" width="8" height="28"/><rect x="-158" y="-882" width="6" height="16"/><rect x="-150" y="-845" width="7" height="22"/><rect x="-152" y="-828" width="7" height="28"/><rect x="-158" y="-787" width="8" height="8"/><rect x="-163" y="-758" width="12" height="7"/><rect x="-150" y="-730" width="8" height="8"/><rect x="-150" y="-699" width="9" height="28"/><rect x="-159" y="-669" width="9" height="9"/><rect x="-147" y="-602" width="8" height="8"/><rect x="-148" y="-575" width="8" height="8"/><rect x="-171" y="-547" width="34" height="9"/><rect x="-151" y="-497" width="6" height="40"/><rect x="-159" y="-451" width="12" height="7"/><rect x="-161" y="-359" width="9" height="9"/><rect x="-157" y="-300" width="9" height="9"/><rect x="-154" y="-266" width="7" height="40"/><rect x="-158" y="-219" width="8" height="12"/><rect x="-156" y="-152" width="7" height="16"/><rect x="-159" y="-88" width="8" height="8"/><rect x="-161" y="-64" width="34" height="7"/><rect x="-156" y="-53" width="7" height="40"/><rect x="-150" y="-10" width="8" height="8"/><rect x="-151" y="25" width="9" height="22"/><rect x="-151" y="80" width="7" height="28"/><rect x="-148" y="111" width="8" height="8"/><rect x="-155" y="134" width="9" height="22"/><rect x="-156" y="172" width="7" height="7"/><rect x="-148" y="207" width="7" height="7"/><rect x="-151" y="242" width="8" height="8"/><rect x="-154" y="296" width="8" height="8"/><rect x="-158" y="321" width="7" height="7"/><rect x="-153" y="358" width="9" height="9"/><rect x="-172" y="385" width="34" height="8"/><rect x="-150" y="412" width="8" height="12"/><rect x="-163" y="472" width="34" height="7"/><rect x="-153" y="483" width="9" height="40"/><rect x="-153" y="529" width="9" height="34"/><rect x="-154" y="559" width="8" height="22"/><rect x="-156" y="601" width="7" height="7"/><rect x="-157" y="630" width="7" height="7"/><rect x="-165" y="656" width="40" height="7"/><rect x="-168" y="686" width="28" height="9"/><rect x="-156" y="778" width="9" height="12"/><rect x="-163" y="809" width="34" height="6"/><rect x="-163" y="836" width="16" height="8"/><rect x="-155" y="851" width="8" height="28"/><rect x="-163" y="894" width="16" height="7"/><rect x="-152" y="927" width="8" height="8"/><rect x="-152" y="1014" width="8" height="8"/><rect x="-159" y="1106" width="12" height="6"/><rect x="-148" y="1133" width="9" height="9"/><rect x="-159" y="1154" width="8" height="34"/><rect x="-150" y="1227" width="8" height="8"/><rect x="-160" y="1263" width="22" height="6"/><rect x="-171" y="1289" width="40" height="6"/><rect x="-148" y="1314" width="7" height="16"/><rect x="-158" y="1338" width="7" height="34"/><rect x="-135" y="-1408" width="34" height="9"/><rect x="-118" y="-1385" width="8" height="8"/><rect x="-126" y="-1352" width="22" height="7"/><rect x="-133" y="-1323" width="40" height="6"/><rect x="-127" y="-1289" width="8" height="8"/><rect x="-123" y="-1268" width="8" height="8"/><rect x="-120" y="-1231" width="8" height="8"/><rect x="-129" y="-1157" width="8" height="28"/><rect x="-122" y="-1118" width="8" height="8"/><rect x="-131" y="-1089" width="28" height="8"/><rect x="-139" y="-1060" width="40" height="8"/><rect x="-120" y="-1020" width="9" height="9"/><rect x="-121" y="-963" width="7" height="16"/><rect x="-119" y="-947" width="8" height="34"/><rect x="-119" y="-880" width="9" height="12"/><rect x="-128" y="-846" width="9" height="9"/><rect x="-134" y="-815" width="28" height="6"/><rect x="-124" y="-764" width="8" height="34"/><rect x="-144" y="-726" width="40" height="8"/><rect x="-119" y="-691" width="8" height="8"/><rect x="-118" y="-658" width="8" height="8"/><rect x="-129" y="-640" width="9" height="9"/><rect x="-145" y="-570" width="40" height="6"/><rect x="-125" y="-551" width="9" height="9"/><rect x="-118" y="-530" width="8" height="40"/><rect x="-143" y="-478" width="34" height="8"/><rect x="-124" y="-447" width="9" height="40"/><rect x="-125" y="-400" width="9" height="9"/><rect x="-125" y="-347" width="9" height="22"/><rect x="-123" y="-309" width="12" height="6"/><rect x="-136" y="-212" width="28" height="6"/><rect x="-125" y="-177" width="12" height="6"/><rect x="-125" y="-148" width="9" height="9"/><rect x="-128" y="-127" width="8" height="8"/><rect x="-128" y="-72" width="9" height="22"/><rect x="-119" y="-30" width="8" height="8"/><rect x="-140" y="-7" width="40" height="9"/><rect x="-119" y="19" width="9" height="12"/><rect x="-119" y="50" width="8" height="8"/><rect x="-128" y="86" width="9" height="9"/><rect x="-122" y="120" width="6" height="12"/><rect x="-131" y="178" width="8" height="8"/><rect x="-126" y="201" width="9" height="9"/><rect x="-119" y="240" width="8" height="8"/><rect x="-122" y="262" width="8" height="12"/><rect x="-125" y="301" width="12" height="9"/><rect x="-134" y="326" width="28" height="6"/><rect x="-120" y="381" width="8" height="28"/><rect x="-133" y="421" width="22" height="8"/><rect x="-125" y="470" width="16" height="7"/><rect x="-127" y="504" width="9" height="12"/><rect x="-122" y="538" width="16" height="6"/><rect x="-122" y="567" width="7" height="7"/><rect x="-130" y="578" width="8" height="40"/><rect x="-129" y="631" width="22" height="8"/><rect x="-121" y="660" width="8" height="8"/><rect x="-120" y="666" width="6" height="40"/><rect x="-135" y="711" width="22" height="9"/><rect x="-127" y="770" width="8" height="12"/><rect x="-127" y="809" width="9" height="16"/><rect x="-119" y="837" width="6" height="16"/><rect x="-119" y="1109" width="7" height="7"/><rect x="-130" y="1138" width="34" height="6"/><rect x="-124" y="1195" width="8" height="8"/><rect x="-127" y="1226" width="8" height="12"/><rect x="-146" y="1264" width="40" height="6"/><rect x="-125" y="1282" width="22" height="6"/><rect x="-128" y="1329" width="8" height="40"/><rect x="-138" y="1377" width="40" height="6"/><rect x="-96" y="-1414" width="7" height="7"/><rect x="-94" y="-1398" width="9" height="22"/><rect x="-106" y="-1319" width="22" height="7"/><rect x="-92" y="-1300" width="9" height="22"/><rect x="-108" y="-1261" width="34" height="7"/><rect x="-100" y="-1234" width="6" height="22"/><rect x="-89" y="-1223" width="6" height="40"/><rect x="-101" y="-1180" width="28" height="6"/><rect x="-93" y="-1119" width="8" height="8"/><rect x="-100" y="-1048" width="8" height="8"/><rect x="-94" y="-1022" width="12" height="9"/><rect x="-107" y="-989" width="28" height="7"/><rect x="-99" y="-956" width="9" height="40"/><rect x="-97" y="-899" width="7" height="7"/><rect x="-96" y="-880" width="7" height="7"/><rect x="-93" y="-851" width="9" height="9"/><rect x="-93" y="-820" width="9" height="28"/><rect x="-90" y="-794" width="8" height="40"/><rect x="-92" y="-770" width="8" height="28"/><rect x="-93" y="-692" width="7" height="7"/><rect x="-97" y="-660" width="8" height="8"/><rect x="-100" y="-634" width="22" height="7"/><rect x="-93" y="-613" width="8" height="28"/><rect x="-89" y="-582" width="9" height="34"/><rect x="-100" y="-524" width="7" height="40"/><rect x="-89" y="-485" width="9" height="9"/><rect x="-88" y="-454" width="9" height="9"/><rect x="-87" y="-409" width="6" height="40"/><rect x="-95" y="-360" width="22" height="7"/><rect x="-112" y="-328" width="40" height="8"/><rect x="-94" y="-300" width="7" height="7"/><rect x="-96" y="-274" width="7" height="7"/><rect x="-97" y="-216" width="28" height="6"/><rect x="-103" y="-185" width="16" height="6"/><rect x="-89" y="-125" width="9" height="9"/><rect x="-92" y="-72" width="9" height="28"/><rect x="-100" y="-28" width="8" height="8"/><rect x="-97" y="26" width="6" height="12"/><rect x="-97" y="64" width="16" height="6"/><rect x="-87" y="77" width="6" height="40"/><rect x="-91" y="116" width="8" height="8"/><rect x="-107" y="201" width="28" height="9"/><rect x="-104" y="297" width="22" height="6"/><rect x="-90" y="330" width="8" height="8"/><rect x="-94" y="381" width="16" height="8"/><rect x="-106" y="443" width="28" height="7"/><rect x="-99" y="476" width="8" height="8"/><rect x="-90" y="533" width="8" height="8"/><rect x="-100" y="559" width="8" height="8"/><rect x="-103" y="592" width="16" height="8"/><rect x="-91" y="629" width="8" height="8"/><rect x="-98" y="679" width="8" height="28"/><rect x="-99" y="700" width="8" height="40"/><rect x="-93" y="750" width="12" height="7"/><rect x="-103" y="774" width="34" height="7"/><rect x="-92" y="802" width="8" height="16"/><rect x="-100" y="1113" width="7" height="7"/><rect x="-87" y="1130" width="6" height="34"/><rect x="-89" y="1163" width="7" height="7"/><rect x="-97" y="1190" width="12" height="7"/><rect x="-101" y="1232" width="12" height="9"/><rect x="-88" y="1256" width="8" height="8"/><rect x="-90" y="1276" width="8" height="28"/><rect x="-89" y="1296" width="7" height="40"/><rect x="-98" y="1347" width="8" height="8"/><rect x="-88" y="1372" width="8" height="12"/><rect x="-79" y="-1411" width="34" height="6"/><rect x="-84" y="-1357" width="40" height="7"/><rect x="-58" y="-1329" width="8" height="8"/><rect x="-65" y="-1262" width="22" height="6"/><rect x="-58" y="-1199" width="8" height="8"/><rect x="-65" y="-1142" width="7" height="12"/><rect x="-65" y="-1087" width="7" height="16"/><rect x="-68" y="-1053" width="6" height="12"/><rect x="-58" y="-1000" width="7" height="7"/><rect x="-67" y="-967" width="7" height="7"/><rect x="-60" y="-937" width="8" height="28"/><rect x="-74" y="-901" width="16" height="9"/><rect x="-68" y="-875" width="9" height="9"/><rect x="-61" y="-840" width="7" height="7"/><rect x="-58" y="-758" width="9" height="9"/><rect x="-64" y="-726" width="12" height="9"/><rect x="-77" y="-692" width="34" height="7"/><rect x="-65" y="-659" width="7" height="7"/><rect x="-78" y="-638" width="28" height="6"/><rect x="-75" y="-598" width="40" height="6"/><rect x="-63" y="-582" width="8" height="12"/><rect x="-65" y="-512" width="8" height="8"/><rect x="-77" y="-422" width="22" height="8"/><rect x="-68" y="-399" width="8" height="8"/><rect x="-61" y="-353" width="9" height="34"/><rect x="-65" y="-320" width="8" height="34"/><rect x="-64" y="-272" width="8" height="8"/><rect x="-68" y="-249" width="12" height="9"/><rect x="-65" y="-218" width="16" height="9"/><rect x="-61" y="-149" width="9" height="9"/><rect x="-58" y="-118" width="7" height="7"/><rect x="-64" y="-72" width="7" height="16"/><rect x="-78" y="-34" width="34" height="6"/><rect x="-71" y="-14" width="9" height="40"/><rect x="-65" y="30" width="8" height="8"/><rect x="-76" y="52" width="28" height="9"/><rect x="-65" y="87" width="8" height="8"/><rect x="-65" y="106" width="9" height="28"/><rect x="-78" y="141" width="34" height="8"/><rect x="-66" y="163" width="6" height="28"/><rect x="-56" y="228" width="6" height="22"/><rect x="-66" y="301" width="7" height="7"/><rect x="-63" y="387" width="9" height="16"/><rect x="-69" y="417" width="16" height="9"/><rect x="-58" y="444" width="8" height="8"/><rect x="-68" y="475" width="8" height="8"/><rect x="-86" y="501" width="40" height="7"/><rect x="-71" y="565" width="8" height="8"/><rect x="-66" y="591" width="7" height="7"/><rect x="-64" y="632" width="7" height="7"/><rect x="-68" y="662" width="22" height="8"/><rect x="-71" y="682" width="9" height="9"/><rect x="-62" y="720" width="8" height="8"/><rect x="-64" y="778" width="12" height="6"/><rect x="-68" y="861" width="16" height="9"/><rect x="-67" y="1102" width="9" height="9"/><rect x="-69" y="1140" width="22" height="7"/><rect x="-79" y="1171" width="40" height="9"/><rect x="-80" y="1199" width="34" height="9"/><rect x="-62" y="1277" width="9" height="34"/><rect x="-70" y="1306" width="8" height="22"/><rect x="-61" y="1350" width="8" height="8"/><rect x="-69" y="1377" width="9" height="9"/><rect x="-34" y="-1352" width="9" height="9"/><rect x="-36" y="-1345" width="7" height="40"/><rect x="-27" y="-1290" width="7" height="7"/><rect x="-38" y="-1259" width="9" height="9"/><rect x="-31" y="-1204" width="16" height="9"/><rect x="-47" y="-1169" width="34" height="9"/><rect x="-33" y="-1120" width="12" height="8"/><rect x="-33" y="-1088" width="16" height="9"/><rect x="-52" y="-1029" width="34" height="7"/><rect x="-33" y="-1003" width="7" height="40"/><rect x="-30" y="-943" width="7" height="34"/><rect x="-30" y="-906" width="9" height="12"/><rect x="-28" y="-843" width="9" height="9"/><rect x="-29" y="-824" width="9" height="28"/><rect x="-29" y="-785" width="7" height="12"/><rect x="-27" y="-772" width="6" height="40"/><rect x="-38" y="-738" width="9" height="40"/><rect x="-34" y="-711" width="8" height="40"/><rect x="-33" y="-657" width="7" height="7"/><rect x="-33" y="-627" width="7" height="7"/><rect x="-39" y="-614" width="9" height="16"/><rect x="-39" y="-578" width="8" height="8"/><rect x="-39" y="-547" width="22" height="7"/><rect x="-31" y="-521" width="9" height="16"/><rect x="-35" y="-478" width="8" height="8"/><rect x="-53" y="-453" width="34" height="7"/><rect x="-34" y="-428" width="8" height="8"/><rect x="-34" y="-407" width="8" height="22"/><rect x="-35" y="-359" width="9" height="9"/><rect x="-46" y="-337" width="28" height="6"/><rect x="-33" y="-306" width="12" height="6"/><rect x="-37" y="-240" width="7" height="12"/><rect x="-34" y="-167" width="6" height="40"/><rect x="-38" y="-131" width="16" height="9"/><rect x="-44" y="-92" width="22" height="7"/><rect x="-37" y="-72" width="8" height="28"/><rect x="-28" y="-42" width="7" height="22"/><rect x="-44" y="31" width="28" height="8"/><rect x="-37" y="79" width="16" height="9"/><rect x="-36" y="119" width="22" height="6"/><rect x="-44" y="148" width="16" height="6"/><rect x="-35" y="175" width="7" height="7"/><rect x="-45" y="204" width="22" height="6"/><rect x="-35" y="238" width="6" height="12"/><rect x="-39" y="267" width="8" height="8"/><rect x="-33" y="278" width="8" height="40"/><rect x="-36" y="332" width="9" height="9"/><rect x="-35" y="342" width="7" height="22"/><rect x="-32" y="384" width="9" height="9"/><rect x="-45" y="421" width="40" height="7"/><rect x="-35" y="453" width="22" height="6"/><rect x="-39" y="511" width="8" height="8"/><rect x="-29" y="536" width="8" height="22"/><rect x="-35" y="569" width="8" height="8"/><rect x="-31" y="631" width="8" height="8"/><rect x="-38" y="662" width="9" height="9"/><rect x="-32" y="677" width="7" height="12"/><rect x="-36" y="722" width="8" height="8"/><rect x="-29" y="751" width="8" height="8"/><rect x="-27" y="802" width="8" height="8"/><rect x="-39" y="852" width="9" height="34"/><rect x="-41" y="1099" width="9" height="9"/><rect x="-39" y="1124" width="8" height="34"/><rect x="-41" y="1229" width="28" height="9"/><rect x="-44" y="1291" width="22" height="7"/><rect x="-30" y="1295" width="9" height="40"/><rect x="-42" y="1341" width="16" height="9"/><rect x="-34" y="1377" width="9" height="9"/><rect x="-36" y="1400" width="9" height="12"/><rect x="-0" y="-1398" width="7" height="28"/><rect x="-7" y="-1351" width="9" height="12"/><rect x="-0" y="-1339" width="7" height="40"/><rect x="-8" y="-1269" width="9" height="12"/><rect x="-5" y="-1221" width="7" height="40"/><rect x="-12" y="-1179" width="12" height="9"/><rect x="1" y="-1140" width="9" height="9"/><rect x="-4" y="-1132" width="6" height="34"/><rect x="-9" y="-1079" width="9" height="9"/><rect x="-2" y="-1067" width="7" height="34"/><rect x="-3" y="-1045" width="9" height="40"/><rect x="-7" y="-1006" width="8" height="22"/><rect x="-26" y="-969" width="40" height="7"/><rect x="-1" y="-934" width="7" height="7"/><rect x="-4" y="-915" width="7" height="40"/><rect x="-4" y="-893" width="9" height="34"/><rect x="-10" y="-815" width="22" height="9"/><rect x="-4" y="-787" width="7" height="7"/><rect x="-6" y="-767" width="7" height="22"/><rect x="-11" y="-726" width="16" height="7"/><rect x="-4" y="-692" width="8" height="8"/><rect x="-7" y="-665" width="7" height="12"/><rect x="-6" y="-634" width="9" height="9"/><rect x="-10" y="-599" width="7" height="7"/><rect x="-18" y="-567" width="34" height="8"/><rect x="-17" y="-546" width="22" height="9"/><rect x="1" y="-523" width="9" height="40"/><rect x="-10" y="-459" width="8" height="8"/><rect x="-10" y="-424" width="8" height="8"/><rect x="-13" y="-397" width="40" height="9"/><rect x="-2" y="-359" width="12" height="6"/><rect x="-9" y="-334" width="28" height="6"/><rect x="-9" y="-305" width="8" height="16"/><rect x="-8" y="-273" width="9" height="9"/><rect x="-16" y="-250" width="28" height="8"/><rect x="-0" y="-179" width="8" height="8"/><rect x="2" y="-157" width="8" height="8"/><rect x="-2" y="-128" width="9" height="12"/><rect x="1" y="-95" width="8" height="8"/><rect x="-7" y="-64" width="7" height="7"/><rect x="-0" y="-39" width="8" height="8"/><rect x="-11" y="2" width="8" height="8"/><rect x="-3" y="52" width="8" height="22"/><rect x="1" y="89" width="9" height="9"/><rect x="-18" y="119" width="28" height="7"/><rect x="-6" y="146" width="16" height="6"/><rect x="-1" y="177" width="8" height="8"/><rect x="-3" y="203" width="6" height="22"/><rect x="-1" y="228" width="8" height="12"/><rect x="-22" y="324" width="34" height="9"/><rect x="-20" y="354" width="34" height="8"/><rect x="-5" y="412" width="9" height="12"/><rect x="0" y="436" width="7" height="28"/><rect x="-18" y="473" width="34" height="9"/><rect x="-8" y="537" width="7" height="7"/><rect x="-7" y="569" width="16" height="9"/><rect x="-11" y="602" width="28" height="9"/><rect x="-8" y="633" width="8" height="8"/><rect x="-3" y="663" width="8" height="8"/><rect x="0" y="681" width="8" height="16"/><rect x="-1" y="720" width="8" height="8"/><rect x="-20" y="770" width="40" height="6"/><rect x="-8" y="867" width="22" height="9"/><rect x="3" y="1110" width="8" height="8"/><rect x="-3" y="1131" width="7" height="12"/><rect x="-6" y="1162" width="8" height="8"/><rect x="-22" y="1197" width="34" height="8"/><rect x="3" y="1229" width="7" height="7"/><rect x="-24" y="1249" width="40" height="9"/><rect x="2" y="1280" width="9" height="9"/><rect x="1" y="1311" width="8" height="8"/><rect x="1" y="1344" width="8" height="8"/><rect x="23" y="-1378" width="8" height="8"/><rect x="25" y="-1360" width="6" height="22"/><rect x="16" y="-1324" width="28" height="9"/><rect x="23" y="-1237" width="9" height="9"/><rect x="19" y="-1214" width="9" height="34"/><rect x="24" y="-1173" width="22" height="8"/><rect x="30" y="-1157" width="6" height="22"/><rect x="22" y="-1120" width="22" height="6"/><rect x="11" y="-1028" width="34" height="8"/><rect x="32" y="-991" width="8" height="8"/><rect x="20" y="-940" width="8" height="8"/><rect x="22" y="-913" width="6" height="16"/><rect x="25" y="-868" width="8" height="8"/><rect x="30" y="-842" width="8" height="8"/><rect x="21" y="-811" width="28" height="9"/><rect x="10" y="-784" width="28" height="8"/><rect x="26" y="-756" width="9" height="9"/><rect x="25" y="-728" width="7" height="12"/><rect x="20" y="-699" width="7" height="7"/><rect x="29" y="-642" width="9" height="22"/><rect x="20" y="-607" width="9" height="12"/><rect x="31" y="-570" width="7" height="7"/><rect x="22" y="-552" width="9" height="34"/><rect x="23" y="-480" width="8" height="8"/><rect x="32" y="-419" width="9" height="9"/><rect x="32" y="-402" width="8" height="34"/><rect x="22" y="-330" width="28" height="8"/><rect x="19" y="-298" width="16" height="9"/><rect x="19" y="-271" width="16" height="7"/><rect x="30" y="-214" width="8" height="8"/><rect x="30" y="-131" width="8" height="34"/><rect x="33" y="-88" width="7" height="7"/><rect x="32" y="-78" width="9" height="22"/><rect x="28" y="-27" width="8" height="8"/><rect x="12" y="2" width="22" height="6"/><rect x="27" y="48" width="9" height="22"/><rect x="16" y="88" width="22" height="6"/><rect x="28" y="151" width="9" height="9"/><rect x="12" y="178" width="40" height="9"/><rect x="20" y="263" width="9" height="9"/><rect x="27" y="330" width="16" height="6"/><rect x="30" y="339" width="6" height="28"/><rect x="32" y="379" width="8" height="8"/><rect x="21" y="417" width="28" height="6"/><rect x="21" y="448" width="16" height="6"/><rect x="16" y="472" width="34" height="8"/><rect x="21" y="516" width="9" height="34"/><rect x="29" y="563" width="8" height="8"/><rect x="21" y="590" width="7" height="12"/><rect x="31" y="683" width="8" height="8"/><rect x="21" y="708" width="9" height="34"/><rect x="24" y="779" width="9" height="9"/><rect x="19" y="803" width="8" height="8"/><rect x="21" y="868" width="8" height="8"/><rect x="30" y="1106" width="8" height="8"/><rect x="29" y="1123" width="8" height="22"/><rect x="30" y="1171" width="8" height="8"/><rect x="22" y="1203" width="22" height="6"/><rect x="27" y="1225" width="8" height="8"/><rect x="28" y="1256" width="7" height="7"/><rect x="23" y="1292" width="8" height="8"/><rect x="19" y="1311" width="9" height="16"/><rect x="27" y="1347" width="8" height="8"/><rect x="28" y="1372" width="9" height="9"/><rect x="21" y="1401" width="7" height="7"/><rect x="50" y="-1381" width="8" height="8"/><rect x="52" y="-1354" width="8" height="12"/><rect x="59" y="-1329" width="7" height="28"/><rect x="54" y="-1296" width="9" height="9"/><rect x="61" y="-1277" width="7" height="28"/><rect x="49" y="-1239" width="8" height="8"/><rect x="56" y="-1217" width="9" height="34"/><rect x="51" y="-1172" width="8" height="8"/><rect x="42" y="-1148" width="40" height="9"/><rect x="62" y="-1108" width="8" height="8"/><rect x="55" y="-1080" width="6" height="12"/><rect x="37" y="-1056" width="40" height="8"/><rect x="62" y="-1022" width="9" height="9"/><rect x="54" y="-970" width="12" height="8"/><rect x="63" y="-946" width="7" height="40"/><rect x="59" y="-921" width="9" height="34"/><rect x="49" y="-879" width="28" height="6"/><rect x="53" y="-846" width="8" height="8"/><rect x="52" y="-826" width="9" height="28"/><rect x="53" y="-782" width="12" height="8"/><rect x="36" y="-758" width="40" height="6"/><rect x="62" y="-721" width="8" height="8"/><rect x="56" y="-712" width="6" height="40"/><rect x="53" y="-667" width="7" height="7"/><rect x="61" y="-635" width="7" height="7"/><rect x="60" y="-607" width="8" height="8"/><rect x="50" y="-568" width="8" height="8"/><rect x="56" y="-538" width="16" height="6"/><rect x="53" y="-517" width="8" height="8"/><rect x="45" y="-484" width="16" height="6"/><rect x="48" y="-450" width="12" height="9"/><rect x="51" y="-442" width="9" height="40"/><rect x="35" y="-400" width="40" height="9"/><rect x="53" y="-358" width="22" height="6"/><rect x="51" y="-267" width="7" height="7"/><rect x="55" y="-233" width="8" height="40"/><rect x="62" y="-192" width="7" height="28"/><rect x="56" y="-157" width="8" height="12"/><rect x="51" y="-122" width="8" height="8"/><rect x="57" y="-103" width="6" height="22"/><rect x="56" y="-76" width="9" height="28"/><rect x="40" y="-28" width="40" height="7"/><rect x="58" y="3" width="8" height="8"/><rect x="49" y="17" width="8" height="34"/><rect x="60" y="120" width="8" height="12"/><rect x="53" y="140" width="9" height="9"/><rect x="57" y="178" width="8" height="12"/><rect x="50" y="264" width="8" height="22"/><rect x="63" y="387" width="8" height="8"/><rect x="51" y="410" width="9" height="28"/><rect x="59" y="437" width="9" height="16"/><rect x="59" y="473" width="7" height="12"/><rect x="50" y="506" width="12" height="7"/><rect x="63" y="535" width="7" height="7"/><rect x="59" y="569" width="7" height="7"/><rect x="47" y="661" width="16" height="7"/><rect x="49" y="674" width="9" height="40"/><rect x="51" y="697" width="8" height="34"/><rect x="34" y="749" width="40" height="7"/><rect x="54" y="781" width="8" height="12"/><rect x="63" y="794" width="6" height="40"/><rect x="36" y="838" width="40" height="9"/><rect x="38" y="872" width="34" height="6"/><rect x="58" y="1076" width="9" height="9"/><rect x="44" y="1101" width="34" height="6"/><rect x="49" y="1132" width="8" height="8"/><rect x="54" y="1164" width="6" height="12"/><rect x="40" y="1191" width="28" height="7"/><rect x="58" y="1209" width="9" height="40"/><rect x="51" y="1259" width="9" height="12"/><rect x="39" y="1290" width="28" height="6"/><rect x="58" y="1320" width="8" height="8"/><rect x="56" y="1357" width="8" height="40"/><rect x="63" y="1402" width="7" height="7"/><rect x="67" y="-1359" width="40" height="7"/><rect x="80" y="-1325" width="8" height="12"/><rect x="91" y="-1303" width="6" height="12"/><rect x="81" y="-1261" width="9" height="9"/><rect x="90" y="-1198" width="9" height="9"/><rect x="84" y="-1171" width="9" height="9"/><rect x="80" y="-1115" width="9" height="9"/><rect x="76" y="-1083" width="34" height="6"/><rect x="66" y="-1059" width="40" height="9"/><rect x="81" y="-1039" width="6" height="28"/><rect x="84" y="-998" width="22" height="6"/><rect x="91" y="-942" width="7" height="16"/><rect x="89" y="-921" width="8" height="40"/><rect x="87" y="-820" width="12" height="9"/><rect x="72" y="-777" width="28" height="6"/><rect x="69" y="-747" width="40" height="7"/><rect x="90" y="-718" width="8" height="8"/><rect x="82" y="-649" width="8" height="34"/><rect x="83" y="-612" width="6" height="12"/><rect x="86" y="-582" width="6" height="28"/><rect x="80" y="-543" width="8" height="8"/><rect x="89" y="-508" width="7" height="7"/><rect x="79" y="-458" width="8" height="8"/><rect x="88" y="-417" width="16" height="6"/><rect x="72" y="-393" width="28" height="9"/><rect x="92" y="-379" width="6" height="28"/><rect x="83" y="-337" width="8" height="8"/><rect x="92" y="-309" width="8" height="8"/><rect x="82" y="-278" width="9" height="22"/><rect x="89" y="-266" width="7" height="40"/><rect x="79" y="-216" width="12" height="8"/><rect x="76" y="-177" width="16" height="8"/><rect x="92" y="-159" width="9" height="9"/><rect x="78" y="-95" width="12" height="7"/><rect x="93" y="-68" width="6" height="22"/><rect x="84" y="-28" width="22" height="7"/><rect x="93" y="-2" width="8" height="8"/><rect x="81" y="32" width="8" height="8"/><rect x="89" y="59" width="8" height="8"/><rect x="70" y="89" width="28" height="9"/><rect x="73" y="113" width="28" height="9"/><rect x="81" y="139" width="22" height="9"/><rect x="89" y="176" width="7" height="7"/><rect x="87" y="205" width="7" height="16"/><rect x="82" y="224" width="7" height="34"/><rect x="82" y="267" width="8" height="8"/><rect x="82" y="298" width="9" height="16"/><rect x="81" y="305" width="8" height="40"/><rect x="88" y="349" width="6" height="22"/><rect x="87" y="411" width="16" height="9"/><rect x="70" y="440" width="28" height="7"/><rect x="91" y="475" width="8" height="8"/><rect x="65" y="543" width="40" height="6"/><rect x="69" y="569" width="40" height="6"/><rect x="81" y="583" width="8" height="28"/><rect x="65" y="630" width="40" height="8"/><rect x="88" y="653" width="8" height="8"/><rect x="85" y="686" width="6" height="16"/><rect x="89" y="732" width="6" height="40"/><rect x="91" y="780" width="8" height="8"/><rect x="91" y="804" width="8" height="8"/><rect x="83" y="813" width="9" height="40"/><rect x="88" y="870" width="9" height="9"/><rect x="79" y="1082" width="34" height="9"/><rect x="73" y="1109" width="22" height="9"/><rect x="65" y="1131" width="40" height="7"/><rect x="80" y="1194" width="7" height="7"/><rect x="88" y="1254" width="9" height="9"/><rect x="81" y="1288" width="22" height="9"/><rect x="83" y="1307" width="6" height="22"/><rect x="71" y="1382" width="28" height="7"/><rect x="82" y="1398" width="6" height="34"/><rect x="120" y="-1384" width="8" height="8"/><rect x="98" y="-1327" width="34" height="6"/><rect x="122" y="-1300" width="7" height="7"/><rect x="111" y="-1260" width="9" height="9"/><rect x="120" y="-1229" width="9" height="9"/><rect x="110" y="-1204" width="9" height="9"/><rect x="117" y="-1175" width="7" height="12"/><rect x="121" y="-1135" width="7" height="40"/><rect x="106" y="-1025" width="22" height="8"/><rect x="103" y="-995" width="28" height="9"/><rect x="112" y="-967" width="7" height="7"/><rect x="119" y="-932" width="8" height="8"/><rect x="112" y="-778" width="12" height="6"/><rect x="123" y="-764" width="7" height="40"/><rect x="122" y="-733" width="8" height="28"/><rect x="115" y="-691" width="16" height="7"/><rect x="119" y="-670" width="8" height="8"/><rect x="115" y="-643" width="9" height="12"/><rect x="116" y="-603" width="9" height="16"/><rect x="108" y="-567" width="22" height="6"/><rect x="114" y="-553" width="8" height="12"/><rect x="111" y="-516" width="8" height="8"/><rect x="111" y="-487" width="7" height="12"/><rect x="120" y="-448" width="8" height="8"/><rect x="112" y="-420" width="8" height="8"/><rect x="113" y="-389" width="8" height="8"/><rect x="114" y="-369" width="6" height="16"/><rect x="113" y="-331" width="22" height="8"/><rect x="113" y="-301" width="6" height="12"/><rect x="122" y="-271" width="8" height="8"/><rect x="119" y="-250" width="12" height="6"/><rect x="118" y="-227" width="6" height="40"/><rect x="122" y="-166" width="6" height="22"/><rect x="116" y="-124" width="8" height="8"/><rect x="116" y="-109" width="8" height="28"/><rect x="104" y="-38" width="40" height="8"/><rect x="120" y="-1" width="8" height="8"/><rect x="108" y="54" width="34" height="9"/><rect x="115" y="87" width="12" height="7"/><rect x="101" y="122" width="40" height="6"/><rect x="113" y="147" width="9" height="9"/><rect x="120" y="176" width="9" height="9"/><rect x="113" y="207" width="12" height="8"/><rect x="123" y="229" width="7" height="16"/><rect x="115" y="263" width="9" height="12"/><rect x="105" y="295" width="40" height="9"/><rect x="112" y="322" width="7" height="22"/><rect x="120" y="346" width="7" height="28"/><rect x="121" y="385" width="7" height="7"/><rect x="117" y="447" width="8" height="8"/><rect x="116" y="474" width="9" height="9"/><rect x="118" y="495" width="7" height="22"/><rect x="116" y="540" width="8" height="8"/><rect x="116" y="559" width="6" height="16"/><rect x="117" y="584" width="6" height="40"/><rect x="114" y="619" width="8" height="8"/><rect x="112" y="656" width="8" height="8"/><rect x="115" y="682" width="9" height="22"/><rect x="110" y="713" width="28" height="6"/><rect x="109" y="769" width="9" height="9"/><rect x="117" y="831" width="9" height="9"/><rect x="116" y="853" width="6" height="22"/><rect x="95" y="1105" width="40" height="6"/><rect x="113" y="1164" width="8" height="8"/><rect x="117" y="1200" width="7" height="7"/><rect x="111" y="1258" width="8" height="8"/><rect x="113" y="1320" width="8" height="8"/><rect x="102" y="1341" width="28" height="8"/><rect x="119" y="1371" width="6" height="12"/><rect x="112" y="1412" width="8" height="8"/><rect x="146" y="-1386" width="7" height="7"/><rect x="139" y="-1352" width="22" height="6"/><rect x="143" y="-1331" width="9" height="22"/><rect x="151" y="-1270" width="9" height="9"/><rect x="135" y="-1237" width="28" height="7"/><rect x="153" y="-1224" width="6" height="34"/><rect x="148" y="-1173" width="9" height="9"/><rect x="144" y="-1118" width="7" height="7"/><rect x="141" y="-1096" width="8" height="40"/><rect x="138" y="-1051" width="34" height="9"/><rect x="147" y="-1025" width="9" height="9"/><rect x="139" y="-998" width="12" height="8"/><rect x="145" y="-959" width="7" height="7"/><rect x="149" y="-932" width="7" height="7"/><rect x="147" y="-900" width="12" height="7"/><rect x="139" y="-878" width="12" height="9"/><rect x="151" y="-845" width="8" height="8"/><rect x="139" y="-816" width="9" height="9"/><rect x="149" y="-784" width="8" height="8"/><rect x="151" y="-729" width="8" height="8"/><rect x="153" y="-698" width="7" height="7"/><rect x="149" y="-634" width="9" height="12"/><rect x="142" y="-544" width="6" height="16"/><rect x="143" y="-511" width="8" height="12"/><rect x="141" y="-487" width="7" height="22"/><rect x="140" y="-460" width="7" height="22"/><rect x="139" y="-423" width="8" height="8"/><rect x="146" y="-367" width="12" height="9"/><rect x="151" y="-343" width="9" height="16"/><rect x="148" y="-298" width="8" height="8"/><rect x="149" y="-280" width="9" height="22"/><rect x="140" y="-259" width="6" height="40"/><rect x="152" y="-211" width="9" height="9"/><rect x="132" y="-159" width="28" height="8"/><rect x="151" y="-130" width="8" height="8"/><rect x="143" y="-64" width="8" height="8"/><rect x="141" y="-2" width="9" height="9"/><rect x="135" y="88" width="16" height="8"/><rect x="142" y="143" width="16" height="7"/><rect x="153" y="165" width="7" height="28"/><rect x="138" y="205" width="34" height="8"/><rect x="148" y="243" width="8" height="8"/><rect x="130" y="262" width="34" height="9"/><rect x="147" y="321" width="6" height="16"/><rect x="142" y="347" width="8" height="12"/><rect x="135" y="445" width="22" height="9"/><rect x="140" y="472" width="16" height="7"/><rect x="145" y="502" width="9" height="9"/><rect x="138" y="561" width="22" height="8"/><rect x="152" y="583" width="8" height="40"/><rect x="152" y="633" width="7" height="7"/><rect x="152" y="656" width="7" height="7"/><rect x="145" y="692" width="12" height="9"/><rect x="139" y="744" width="8" height="8"/><rect x="130" y="773" width="40" height="6"/><rect x="150" y="804" width="8" height="16"/><rect x="149" y="866" width="8" height="8"/><rect x="143" y="1082" width="7" height="7"/><rect x="150" y="1098" width="9" height="28"/><rect x="144" y="1142" width="12" height="6"/><rect x="132" y="1164" width="22" height="6"/><rect x="147" y="1195" width="7" height="7"/><rect x="141" y="1216" width="6" height="22"/><rect x="130" y="1288" width="28" height="7"/><rect x="136" y="1319" width="40" height="6"/><rect x="137" y="1348" width="28" height="8"/><rect x="148" y="1404" width="9" height="9"/><rect x="174" y="-1388" width="6" height="28"/><rect x="179" y="-1357" width="12" height="6"/><rect x="176" y="-1328" width="8" height="8"/><rect x="174" y="-1294" width="9" height="22"/><rect x="183" y="-1236" width="8" height="8"/><rect x="172" y="-1211" width="22" height="9"/><rect x="169" y="-1172" width="9" height="9"/><rect x="168" y="-1140" width="34" height="6"/><rect x="173" y="-1121" width="8" height="8"/><rect x="179" y="-1085" width="8" height="8"/><rect x="173" y="-1051" width="6" height="12"/><rect x="162" y="-1022" width="40" height="9"/><rect x="177" y="-994" width="8" height="8"/><rect x="177" y="-963" width="9" height="9"/><rect x="166" y="-933" width="40" height="9"/><rect x="177" y="-867" width="12" height="8"/><rect x="176" y="-851" width="6" height="12"/><rect x="160" y="-810" width="40" height="6"/><rect x="177" y="-749" width="9" height="9"/><rect x="174" y="-730" width="6" height="16"/><rect x="178" y="-697" width="16" height="9"/><rect x="171" y="-661" width="8" height="8"/><rect x="160" y="-628" width="40" height="8"/><rect x="181" y="-575" width="8" height="8"/><rect x="180" y="-566" width="6" height="40"/><rect x="163" y="-480" width="40" height="7"/><rect x="175" y="-452" width="6" height="16"/><rect x="168" y="-419" width="34" height="6"/><rect x="178" y="-390" width="12" height="8"/><rect x="171" y="-369" width="8" height="28"/><rect x="172" y="-337" width="16" height="8"/><rect x="177" y="-302" width="9" height="16"/><rect x="178" y="-276" width="8" height="8"/><rect x="178" y="-245" width="7" height="22"/><rect x="177" y="-207" width="8" height="8"/><rect x="170" y="-178" width="8" height="8"/><rect x="175" y="-159" width="8" height="8"/><rect x="165" y="-129" width="22" height="9"/><rect x="177" y="-98" width="8" height="8"/><rect x="173" y="-38" width="22" height="7"/><rect x="168" y="-2" width="22" height="7"/><rect x="178" y="28" width="9" height="9"/><rect x="164" y="54" width="22" height="8"/><rect x="169" y="109" width="8" height="8"/><rect x="161" y="153" width="40" height="6"/><rect x="163" y="178" width="34" height="6"/><rect x="169" y="214" width="12" height="6"/><rect x="182" y="231" width="7" height="28"/><rect x="160" y="261" width="28" height="9"/><rect x="169" y="320" width="8" height="8"/><rect x="175" y="351" width="9" height="16"/><rect x="181" y="381" width="8" height="12"/><rect x="175" y="401" width="9" height="40"/><rect x="173" y="448" width="8" height="16"/><rect x="181" y="477" width="8" height="8"/><rect x="171" y="509" width="7" height="12"/><rect x="169" y="562" width="22" height="9"/><rect x="171" y="599" width="9" height="9"/><rect x="177" y="622" width="7" height="16"/><rect x="164" y="654" width="40" height="8"/><rect x="176" y="679" width="9" height="9"/><rect x="176" y="714" width="9" height="9"/><rect x="171" y="743" width="28" height="8"/><rect x="175" y="767" width="7" height="16"/><rect x="171" y="792" width="6" height="28"/><rect x="174" y="830" width="12" height="7"/><rect x="165" y="891" width="28" height="8"/><rect x="163" y="932" width="34" height="8"/><rect x="175" y="949" width="12" height="9"/><rect x="177" y="977" width="9" height="34"/><rect x="183" y="1006" width="6" height="22"/><rect x="180" y="1032" width="9" height="34"/><rect x="181" y="1111" width="8" height="8"/><rect x="179" y="1141" width="8" height="8"/><rect x="156" y="1196" width="40" height="9"/><rect x="182" y="1211" width="8" height="34"/><rect x="156" y="1256" width="34" height="9"/><rect x="164" y="1288" width="28" height="7"/><rect x="172" y="1343" width="9" height="9"/><rect x="201" y="-1360" width="7" height="7"/><rect x="212" y="-1300" width="8" height="8"/><rect x="194" y="-1268" width="34" height="9"/><rect x="209" y="-1209" width="6" height="16"/><rect x="199" y="-1144" width="8" height="8"/><rect x="209" y="-1091" width="8" height="28"/><rect x="199" y="-1059" width="9" height="9"/><rect x="200" y="-992" width="9" height="16"/><rect x="205" y="-963" width="8" height="8"/><rect x="199" y="-939" width="8" height="8"/><rect x="205" y="-881" width="8" height="8"/><rect x="198" y="-819" width="12" height="6"/><rect x="191" y="-785" width="34" height="9"/><rect x="199" y="-720" width="16" height="9"/><rect x="203" y="-698" width="8" height="8"/><rect x="199" y="-677" width="9" height="34"/><rect x="200" y="-639" width="16" height="8"/><rect x="194" y="-600" width="28" height="6"/><rect x="206" y="-557" width="9" height="28"/><rect x="212" y="-531" width="9" height="34"/><rect x="208" y="-483" width="8" height="8"/><rect x="199" y="-463" width="8" height="34"/><rect x="200" y="-422" width="8" height="8"/><rect x="200" y="-395" width="8" height="8"/><rect x="212" y="-368" width="8" height="8"/><rect x="211" y="-338" width="8" height="8"/><rect x="202" y="-287" width="9" height="28"/><rect x="209" y="-237" width="7" height="7"/><rect x="211" y="-178" width="7" height="7"/><rect x="211" y="-166" width="6" height="34"/><rect x="208" y="-120" width="8" height="8"/><rect x="204" y="-97" width="22" height="9"/><rect x="211" y="-61" width="8" height="16"/><rect x="202" y="-46" width="9" height="40"/><rect x="203" y="-1" width="22" height="8"/><rect x="213" y="26" width="7" height="7"/><rect x="209" y="50" width="6" height="12"/><rect x="205" y="111" width="9" height="12"/><rect x="200" y="153" width="8" height="8"/><rect x="199" y="203" width="34" height="9"/><rect x="211" y="239" width="7" height="7"/><rect x="205" y="327" width="9" height="9"/><rect x="211" y="353" width="12" height="9"/><rect x="200" y="392" width="34" height="6"/><rect x="212" y="419" width="8" height="8"/><rect x="203" y="441" width="8" height="28"/><rect x="204" y="459" width="8" height="40"/><rect x="206" y="498" width="6" height="34"/><rect x="210" y="525" width="7" height="34"/><rect x="206" y="559" width="9" height="9"/><rect x="193" y="592" width="40" height="7"/><rect x="210" y="608" width="9" height="34"/><rect x="202" y="657" width="9" height="9"/><rect x="201" y="690" width="9" height="12"/><rect x="212" y="720" width="7" height="7"/><rect x="200" y="748" width="9" height="9"/><rect x="212" y="809" width="8" height="8"/><rect x="211" y="834" width="8" height="8"/><rect x="204" y="890" width="16" height="6"/><rect x="200" y="960" width="9" height="9"/><rect x="191" y="1051" width="28" height="9"/><rect x="206" y="1064" width="9" height="40"/><rect x="202" y="1132" width="7" height="12"/><rect x="213" y="1152" width="7" height="34"/><rect x="196" y="1196" width="28" height="6"/><rect x="199" y="1231" width="16" height="6"/><rect x="210" y="1360" width="7" height="28"/><rect x="202" y="1406" width="16" height="6"/><rect x="208" y="1438" width="8" height="8"/><rect x="240" y="-1343" width="7" height="40"/><rect x="231" y="-1293" width="28" height="9"/><rect x="234" y="-1238" width="7" height="7"/><rect x="223" y="-1197" width="34" height="6"/><rect x="235" y="-1150" width="8" height="8"/><rect x="232" y="-1115" width="9" height="9"/><rect x="230" y="-1083" width="8" height="8"/><rect x="233" y="-1024" width="7" height="7"/><rect x="234" y="-996" width="16" height="7"/><rect x="236" y="-947" width="6" height="28"/><rect x="231" y="-901" width="28" height="9"/><rect x="242" y="-876" width="8" height="22"/><rect x="240" y="-829" width="8" height="28"/><rect x="231" y="-751" width="8" height="8"/><rect x="239" y="-691" width="9" height="9"/><rect x="219" y="-634" width="28" height="8"/><rect x="234" y="-578" width="9" height="22"/><rect x="234" y="-544" width="9" height="9"/><rect x="243" y="-520" width="6" height="28"/><rect x="235" y="-482" width="22" height="6"/><rect x="233" y="-453" width="8" height="8"/><rect x="233" y="-428" width="8" height="8"/><rect x="224" y="-363" width="34" height="9"/><rect x="234" y="-347" width="9" height="40"/><rect x="243" y="-279" width="6" height="16"/><rect x="225" y="-251" width="34" height="8"/><rect x="231" y="-219" width="9" height="16"/><rect x="234" y="-190" width="6" height="22"/><rect x="218" y="-93" width="34" height="6"/><rect x="227" y="-60" width="22" height="6"/><rect x="240" y="-34" width="8" height="8"/><rect x="219" y="58" width="28" height="7"/><rect x="240" y="81" width="12" height="6"/><rect x="232" y="107" width="9" height="28"/><rect x="240" y="145" width="8" height="8"/><rect x="224" y="203" width="40" height="8"/><rect x="235" y="224" width="8" height="34"/><rect x="234" y="268" width="12" height="7"/><rect x="225" y="292" width="40" height="8"/><rect x="225" y="351" width="22" height="7"/><rect x="239" y="381" width="9" height="22"/><rect x="238" y="439" width="8" height="8"/><rect x="225" y="474" width="16" height="6"/><rect x="241" y="570" width="8" height="8"/><rect x="229" y="596" width="8" height="8"/><rect x="222" y="621" width="40" height="6"/><rect x="221" y="681" width="40" height="7"/><rect x="228" y="717" width="16" height="7"/><rect x="218" y="750" width="34" height="9"/><rect x="242" y="772" width="8" height="8"/><rect x="234" y="804" width="8" height="8"/><rect x="239" y="843" width="7" height="7"/><rect x="231" y="892" width="6" height="16"/><rect x="238" y="929" width="8" height="8"/><rect x="241" y="957" width="7" height="7"/><rect x="226" y="986" width="16" height="7"/><rect x="229" y="1020" width="34" height="9"/><rect x="216" y="1050" width="40" height="6"/><rect x="242" y="1066" width="7" height="16"/><rect x="234" y="1098" width="6" height="28"/><rect x="230" y="1134" width="8" height="8"/><rect x="240" y="1191" width="7" height="7"/><rect x="230" y="1211" width="7" height="34"/><rect x="242" y="1297" width="9" height="34"/><rect x="230" y="1341" width="16" height="6"/><rect x="235" y="1369" width="8" height="16"/><rect x="232" y="1411" width="7" height="7"/><rect x="222" y="1429" width="34" height="9"/><rect x="269" y="-1323" width="8" height="8"/><rect x="269" y="-1291" width="16" height="6"/><rect x="267" y="-1231" width="7" height="7"/><rect x="260" y="-1198" width="8" height="8"/><rect x="256" y="-1178" width="34" height="6"/><rect x="273" y="-1139" width="7" height="7"/><rect x="270" y="-1113" width="8" height="8"/><rect x="265" y="-1053" width="6" height="12"/><rect x="271" y="-1037" width="6" height="40"/><rect x="262" y="-989" width="8" height="8"/><rect x="268" y="-968" width="8" height="8"/><rect x="269" y="-846" width="9" height="9"/><rect x="260" y="-808" width="7" height="7"/><rect x="259" y="-785" width="8" height="8"/><rect x="262" y="-752" width="12" height="6"/><rect x="259" y="-721" width="9" height="12"/><rect x="264" y="-659" width="7" height="7"/><rect x="261" y="-640" width="9" height="34"/><rect x="268" y="-576" width="7" height="22"/><rect x="273" y="-538" width="8" height="8"/><rect x="270" y="-521" width="9" height="16"/><rect x="264" y="-485" width="8" height="12"/><rect x="260" y="-472" width="6" height="34"/><rect x="272" y="-424" width="8" height="22"/><rect x="269" y="-394" width="16" height="8"/><rect x="262" y="-359" width="9" height="9"/><rect x="269" y="-334" width="8" height="8"/><rect x="254" y="-302" width="34" height="6"/><rect x="268" y="-269" width="8" height="8"/><rect x="262" y="-237" width="7" height="7"/><rect x="257" y="-182" width="34" height="9"/><rect x="264" y="-123" width="9" height="9"/><rect x="266" y="-110" width="9" height="40"/><rect x="263" y="-64" width="6" height="16"/><rect x="267" y="-34" width="9" height="9"/><rect x="271" y="-4" width="7" height="7"/><rect x="267" y="16" width="9" height="16"/><rect x="250" y="49" width="28" height="9"/><rect x="266" y="83" width="22" height="7"/><rect x="250" y="146" width="40" height="7"/><rect x="264" y="180" width="8" height="8"/><rect x="270" y="208" width="8" height="8"/><rect x="269" y="269" width="9" height="9"/><rect x="266" y="296" width="9" height="9"/><rect x="253" y="332" width="34" height="9"/><rect x="267" y="347" width="8" height="28"/><rect x="266" y="384" width="9" height="9"/><rect x="260" y="401" width="7" height="34"/><rect x="270" y="446" width="8" height="12"/><rect x="261" y="474" width="12" height="8"/><rect x="267" y="504" width="9" height="9"/><rect x="260" y="598" width="28" height="6"/><rect x="261" y="621" width="16" height="6"/><rect x="263" y="660" width="22" height="9"/><rect x="256" y="687" width="34" height="6"/><rect x="261" y="716" width="12" height="8"/><rect x="266" y="749" width="8" height="8"/><rect x="267" y="772" width="9" height="9"/><rect x="269" y="828" width="7" height="28"/><rect x="269" y="899" width="8" height="8"/><rect x="259" y="922" width="12" height="6"/><rect x="270" y="951" width="7" height="7"/><rect x="257" y="987" width="16" height="9"/><rect x="271" y="1000" width="7" height="34"/><rect x="265" y="1044" width="9" height="9"/><rect x="265" y="1070" width="8" height="8"/><rect x="266" y="1099" width="8" height="8"/><rect x="272" y="1140" width="8" height="8"/><rect x="250" y="1164" width="28" height="7"/><rect x="273" y="1189" width="6" height="28"/><rect x="243" y="1229" width="40" height="8"/><rect x="263" y="1278" width="6" height="22"/><rect x="259" y="1352" width="22" height="7"/><rect x="272" y="1373" width="8" height="8"/><rect x="264" y="1402" width="8" height="8"/><rect x="261" y="1430" width="8" height="8"/><rect x="302" y="-1324" width="9" height="9"/><rect x="295" y="-1299" width="16" height="7"/><rect x="296" y="-1238" width="9" height="12"/><rect x="287" y="-1174" width="28" height="6"/><rect x="292" y="-1151" width="8" height="8"/><rect x="301" y="-1107" width="12" height="8"/><rect x="282" y="-1086" width="40" height="6"/><rect x="302" y="-1057" width="8" height="8"/><rect x="283" y="-1030" width="40" height="9"/><rect x="282" y="-991" width="22" height="7"/><rect x="297" y="-964" width="9" height="16"/><rect x="292" y="-932" width="8" height="16"/><rect x="286" y="-905" width="40" height="7"/><rect x="291" y="-884" width="9" height="22"/><rect x="292" y="-840" width="12" height="7"/><rect x="299" y="-817" width="8" height="8"/><rect x="287" y="-779" width="22" height="6"/><rect x="298" y="-755" width="6" height="16"/><rect x="298" y="-720" width="9" height="9"/><rect x="290" y="-689" width="9" height="9"/><rect x="303" y="-666" width="7" height="7"/><rect x="289" y="-632" width="9" height="9"/><rect x="302" y="-602" width="7" height="7"/><rect x="290" y="-576" width="16" height="9"/><rect x="300" y="-550" width="9" height="16"/><rect x="280" y="-488" width="28" height="9"/><rect x="292" y="-431" width="8" height="8"/><rect x="301" y="-397" width="7" height="7"/><rect x="302" y="-368" width="9" height="9"/><rect x="291" y="-298" width="7" height="7"/><rect x="287" y="-267" width="40" height="8"/><rect x="299" y="-249" width="8" height="12"/><rect x="284" y="-216" width="28" height="8"/><rect x="298" y="-180" width="8" height="12"/><rect x="283" y="-153" width="28" height="6"/><rect x="302" y="-120" width="9" height="9"/><rect x="301" y="-103" width="7" height="34"/><rect x="291" y="-38" width="8" height="8"/><rect x="290" y="13" width="7" height="28"/><rect x="301" y="50" width="8" height="8"/><rect x="295" y="79" width="9" height="9"/><rect x="295" y="110" width="8" height="8"/><rect x="293" y="135" width="7" height="40"/><rect x="292" y="166" width="6" height="28"/><rect x="292" y="200" width="7" height="12"/><rect x="295" y="220" width="7" height="40"/><rect x="291" y="264" width="7" height="16"/><rect x="283" y="324" width="22" height="8"/><rect x="287" y="351" width="22" height="8"/><rect x="300" y="390" width="8" height="8"/><rect x="294" y="414" width="7" height="7"/><rect x="302" y="441" width="9" height="9"/><rect x="297" y="462" width="7" height="22"/><rect x="294" y="511" width="22" height="8"/><rect x="290" y="537" width="28" height="9"/><rect x="294" y="561" width="8" height="16"/><rect x="278" y="600" width="34" height="6"/><rect x="284" y="629" width="34" height="6"/><rect x="292" y="692" width="28" height="8"/><rect x="301" y="740" width="8" height="8"/><rect x="301" y="806" width="8" height="8"/><rect x="299" y="839" width="8" height="8"/><rect x="301" y="872" width="12" height="6"/><rect x="302" y="913" width="7" height="40"/><rect x="291" y="1000" width="7" height="28"/><rect x="290" y="1072" width="8" height="16"/><rect x="298" y="1105" width="8" height="8"/><rect x="292" y="1124" width="9" height="28"/><rect x="299" y="1188" width="9" height="28"/><rect x="295" y="1228" width="7" height="12"/><rect x="299" y="1325" width="9" height="40"/><rect x="283" y="1372" width="28" height="9"/><rect x="294" y="1399" width="22" height="8"/><rect x="303" y="1430" width="8" height="8"/><rect x="333" y="-1365" width="7" height="22"/><rect x="328" y="-1337" width="9" height="40"/><rect x="330" y="-1304" width="8" height="34"/><rect x="326" y="-1265" width="8" height="12"/><rect x="319" y="-1230" width="8" height="8"/><rect x="311" y="-1204" width="28" height="9"/><rect x="332" y="-1148" width="8" height="8"/><rect x="329" y="-1112" width="8" height="8"/><rect x="322" y="-1081" width="16" height="7"/><rect x="310" y="-1054" width="40" height="6"/><rect x="320" y="-1027" width="7" height="7"/><rect x="327" y="-998" width="7" height="7"/><rect x="316" y="-933" width="16" height="7"/><rect x="320" y="-916" width="9" height="22"/><rect x="332" y="-889" width="7" height="40"/><rect x="319" y="-845" width="16" height="9"/><rect x="327" y="-816" width="9" height="9"/><rect x="321" y="-756" width="7" height="16"/><rect x="328" y="-721" width="9" height="9"/><rect x="321" y="-691" width="8" height="8"/><rect x="329" y="-675" width="6" height="22"/><rect x="333" y="-608" width="7" height="7"/><rect x="332" y="-578" width="7" height="7"/><rect x="316" y="-547" width="16" height="8"/><rect x="330" y="-514" width="9" height="9"/><rect x="328" y="-485" width="7" height="16"/><rect x="325" y="-426" width="7" height="7"/><rect x="325" y="-395" width="9" height="16"/><rect x="324" y="-366" width="16" height="8"/><rect x="310" y="-332" width="34" height="9"/><rect x="330" y="-277" width="7" height="7"/><rect x="331" y="-243" width="7" height="7"/><rect x="329" y="-184" width="8" height="12"/><rect x="321" y="-148" width="22" height="9"/><rect x="332" y="-131" width="8" height="8"/><rect x="328" y="-89" width="16" height="9"/><rect x="323" y="-34" width="22" height="6"/><rect x="330" y="2" width="12" height="6"/><rect x="327" y="26" width="8" height="8"/><rect x="322" y="54" width="8" height="8"/><rect x="326" y="92" width="7" height="7"/><rect x="319" y="115" width="22" height="9"/><rect x="322" y="143" width="9" height="9"/><rect x="326" y="192" width="9" height="28"/><rect x="331" y="237" width="8" height="8"/><rect x="315" y="265" width="40" height="6"/><rect x="321" y="296" width="9" height="12"/><rect x="309" y="329" width="34" height="7"/><rect x="319" y="355" width="12" height="7"/><rect x="321" y="375" width="6" height="34"/><rect x="320" y="420" width="8" height="12"/><rect x="332" y="447" width="7" height="7"/><rect x="320" y="470" width="8" height="8"/><rect x="317" y="502" width="34" height="6"/><rect x="319" y="528" width="9" height="12"/><rect x="320" y="600" width="8" height="8"/><rect x="320" y="623" width="34" height="9"/><rect x="333" y="657" width="7" height="16"/><rect x="329" y="680" width="8" height="8"/><rect x="327" y="736" width="7" height="28"/><rect x="323" y="782" width="28" height="7"/><rect x="331" y="801" width="8" height="8"/><rect x="325" y="841" width="7" height="7"/><rect x="326" y="859" width="9" height="9"/><rect x="329" y="896" width="8" height="8"/><rect x="331" y="914" width="7" height="28"/><rect x="329" y="934" width="6" height="40"/><rect x="313" y="986" width="34" height="6"/><rect x="331" y="1021" width="8" height="8"/><rect x="319" y="1083" width="34" height="7"/><rect x="327" y="1126" width="9" height="34"/><rect x="323" y="1166" width="9" height="9"/><rect x="325" y="1193" width="6" height="22"/><rect x="330" y="1232" width="9" height="9"/><rect x="320" y="1260" width="9" height="9"/><rect x="322" y="1276" width="8" height="16"/><rect x="317" y="1322" width="22" height="9"/><rect x="333" y="1338" width="6" height="12"/><rect x="322" y="1380" width="8" height="12"/><rect x="322" y="1411" width="8" height="8"/><rect x="328" y="1439" width="8" height="8"/><rect x="346" y="-1322" width="28" height="8"/><rect x="357" y="-1306" width="9" height="22"/><rect x="356" y="-1279" width="7" height="40"/><rect x="352" y="-1199" width="8" height="8"/><rect x="362" y="-1154" width="7" height="34"/><rect x="341" y="-1118" width="28" height="6"/><rect x="349" y="-1091" width="22" height="9"/><rect x="356" y="-1053" width="8" height="8"/><rect x="349" y="-1031" width="8" height="28"/><rect x="363" y="-1004" width="6" height="22"/><rect x="358" y="-958" width="12" height="9"/><rect x="360" y="-906" width="7" height="7"/><rect x="352" y="-873" width="12" height="7"/><rect x="345" y="-838" width="40" height="7"/><rect x="354" y="-820" width="16" height="7"/><rect x="348" y="-759" width="16" height="9"/><rect x="359" y="-729" width="8" height="8"/><rect x="343" y="-699" width="40" height="7"/><rect x="356" y="-671" width="9" height="9"/><rect x="362" y="-604" width="9" height="9"/><rect x="357" y="-572" width="7" height="7"/><rect x="362" y="-545" width="6" height="22"/><rect x="351" y="-520" width="28" height="7"/><rect x="360" y="-479" width="12" height="9"/><rect x="349" y="-453" width="8" height="8"/><rect x="352" y="-429" width="7" height="7"/><rect x="362" y="-164" width="7" height="34"/><rect x="357" y="-95" width="8" height="8"/><rect x="350" y="-69" width="28" height="6"/><rect x="351" y="-30" width="9" height="9"/><rect x="351" y="-11" width="8" height="8"/><rect x="354" y="21" width="16" height="8"/><rect x="350" y="45" width="7" height="16"/><rect x="343" y="90" width="22" height="6"/><rect x="352" y="110" width="8" height="8"/><rect x="352" y="152" width="8" height="8"/><rect x="355" y="181" width="9" height="9"/><rect x="355" y="239" width="8" height="8"/><rect x="351" y="272" width="8" height="8"/><rect x="347" y="302" width="22" height="9"/><rect x="354" y="323" width="8" height="28"/><rect x="362" y="351" width="9" height="9"/><rect x="353" y="501" width="16" height="8"/><rect x="347" y="542" width="34" height="6"/><rect x="358" y="568" width="6" height="16"/><rect x="353" y="600" width="8" height="8"/><rect x="353" y="629" width="9" height="9"/><rect x="351" y="647" width="7" height="16"/><rect x="356" y="688" width="8" height="8"/><rect x="359" y="713" width="8" height="8"/><rect x="355" y="727" width="6" height="40"/><rect x="359" y="772" width="9" height="16"/><rect x="354" y="799" width="6" height="16"/><rect x="359" y="838" width="7" height="7"/><rect x="353" y="866" width="8" height="8"/><rect x="351" y="903" width="12" height="8"/><rect x="353" y="923" width="8" height="8"/><rect x="354" y="945" width="8" height="28"/><rect x="355" y="991" width="7" height="7"/><rect x="359" y="1009" width="8" height="28"/><rect x="350" y="1079" width="34" height="6"/><rect x="354" y="1108" width="9" height="9"/><rect x="349" y="1135" width="8" height="8"/><rect x="355" y="1168" width="8" height="8"/><rect x="349" y="1196" width="8" height="12"/><rect x="351" y="1222" width="8" height="8"/><rect x="363" y="1249" width="6" height="34"/><rect x="343" y="1311" width="40" height="8"/><rect x="362" y="1378" width="6" height="12"/><rect x="357" y="1404" width="8" height="8"/><rect x="350" y="1438" width="8" height="8"/><rect x="386" y="-1317" width="7" height="7"/><rect x="364" y="-1300" width="40" height="6"/><rect x="383" y="-1260" width="8" height="8"/><rect x="388" y="-1234" width="8" height="8"/><rect x="390" y="-1209" width="8" height="16"/><rect x="388" y="-1141" width="7" height="7"/><rect x="381" y="-1113" width="7" height="16"/><rect x="372" y="-1090" width="40" height="7"/><rect x="390" y="-1050" width="12" height="8"/><rect x="382" y="-1019" width="16" height="8"/><rect x="390" y="-988" width="7" height="7"/><rect x="390" y="-971" width="7" height="34"/><rect x="384" y="-949" width="6" height="34"/><rect x="386" y="-908" width="8" height="8"/><rect x="376" y="-839" width="22" height="7"/><rect x="371" y="-813" width="28" height="8"/><rect x="373" y="-786" width="34" height="8"/><rect x="392" y="-759" width="8" height="8"/><rect x="385" y="-688" width="8" height="8"/><rect x="392" y="-672" width="8" height="28"/><rect x="379" y="-635" width="34" height="8"/><rect x="380" y="-598" width="9" height="9"/><rect x="372" y="-573" width="28" height="9"/><rect x="387" y="-537" width="8" height="8"/><rect x="386" y="-521" width="9" height="28"/><rect x="383" y="-485" width="8" height="8"/><rect x="380" y="-447" width="12" height="7"/><rect x="385" y="-66" width="8" height="8"/><rect x="378" y="-40" width="34" height="7"/><rect x="384" y="-3" width="8" height="8"/><rect x="381" y="26" width="16" height="8"/><rect x="386" y="92" width="16" height="7"/><rect x="393" y="118" width="7" height="7"/><rect x="384" y="137" width="9" height="12"/><rect x="374" y="178" width="28" height="9"/><rect x="390" y="200" width="9" height="9"/><rect x="385" y="231" width="7" height="7"/><rect x="379" y="264" width="12" height="9"/><rect x="381" y="297" width="8" height="8"/><rect x="388" y="320" width="8" height="8"/><rect x="388" y="351" width="9" height="9"/><rect x="385" y="382" width="22" height="7"/><rect x="383" y="401" width="7" height="34"/><rect x="384" y="453" width="7" height="7"/><rect x="381" y="475" width="22" height="6"/><rect x="374" y="563" width="22" height="6"/><rect x="383" y="602" width="9" height="9"/><rect x="383" y="624" width="9" height="12"/><rect x="383" y="660" width="8" height="8"/><rect x="382" y="702" width="8" height="28"/><rect x="378" y="741" width="34" height="9"/><rect x="387" y="773" width="7" height="7"/><rect x="370" y="803" width="40" height="8"/><rect x="389" y="825" width="6" height="28"/><rect x="380" y="866" width="22" height="7"/><rect x="385" y="887" width="9" height="28"/><rect x="373" y="933" width="22" height="8"/><rect x="374" y="956" width="28" height="6"/><rect x="392" y="983" width="7" height="7"/><rect x="382" y="1013" width="7" height="28"/><rect x="382" y="1043" width="28" height="8"/><rect x="379" y="1075" width="9" height="9"/><rect x="384" y="1103" width="8" height="8"/><rect x="379" y="1162" width="22" height="8"/><rect x="388" y="1233" width="7" height="7"/><rect x="382" y="1255" width="6" height="12"/><rect x="392" y="1286" width="9" height="9"/><rect x="376" y="1405" width="22" height="9"/><rect x="387" y="1436" width="9" height="9"/><rect x="417" y="-1298" width="8" height="8"/><rect x="396" y="-1260" width="40" height="8"/><rect x="423" y="-1240" width="7" height="16"/><rect x="402" y="-1202" width="22" height="9"/><rect x="410" y="-1139" width="7" height="7"/><rect x="419" y="-1118" width="8" height="8"/><rect x="410" y="-1081" width="8" height="8"/><rect x="403" y="-751" width="28" height="6"/><rect x="420" y="-722" width="9" height="9"/><rect x="421" y="-696" width="8" height="8"/><rect x="408" y="-668" width="34" height="7"/><rect x="419" y="-653" width="6" height="34"/><rect x="416" y="-616" width="7" height="40"/><rect x="401" y="-575" width="34" height="6"/><rect x="421" y="-539" width="8" height="8"/><rect x="412" y="-518" width="22" height="9"/><rect x="414" y="-494" width="9" height="40"/><rect x="412" y="-455" width="9" height="9"/><rect x="413" y="-155" width="8" height="8"/><rect x="414" y="-135" width="8" height="40"/><rect x="409" y="-92" width="28" height="9"/><rect x="411" y="-65" width="22" height="9"/><rect x="406" y="-38" width="34" height="7"/><rect x="407" y="-3" width="12" height="6"/><rect x="422" y="23" width="6" height="12"/><rect x="418" y="49" width="8" height="34"/><rect x="420" y="82" width="9" height="9"/><rect x="417" y="123" width="8" height="8"/><rect x="409" y="151" width="28" height="8"/><rect x="412" y="182" width="8" height="8"/><rect x="422" y="264" width="7" height="7"/><rect x="405" y="292" width="40" height="7"/><rect x="413" y="317" width="9" height="34"/><rect x="419" y="388" width="6" height="16"/><rect x="418" y="422" width="7" height="7"/><rect x="414" y="443" width="7" height="7"/><rect x="417" y="474" width="9" height="12"/><rect x="420" y="508" width="9" height="9"/><rect x="400" y="561" width="40" height="6"/><rect x="417" y="599" width="8" height="8"/><rect x="411" y="632" width="8" height="8"/><rect x="406" y="660" width="28" height="7"/><rect x="414" y="686" width="8" height="12"/><rect x="410" y="722" width="16" height="9"/><rect x="417" y="746" width="8" height="8"/><rect x="416" y="776" width="9" height="9"/><rect x="405" y="805" width="28" height="7"/><rect x="419" y="821" width="7" height="34"/><rect x="414" y="873" width="7" height="7"/><rect x="416" y="923" width="8" height="8"/><rect x="414" y="963" width="7" height="7"/><rect x="413" y="984" width="8" height="8"/><rect x="414" y="1040" width="7" height="7"/><rect x="401" y="1077" width="34" height="9"/><rect x="416" y="1101" width="12" height="6"/><rect x="416" y="1133" width="16" height="7"/><rect x="410" y="1170" width="8" height="8"/><rect x="410" y="1193" width="9" height="9"/><rect x="421" y="1213" width="6" height="34"/><rect x="419" y="1255" width="9" height="9"/><rect x="413" y="1282" width="7" height="7"/><rect x="416" y="1412" width="16" height="6"/><rect x="421" y="1436" width="7" height="16"/><rect x="421" y="1459" width="8" height="8"/><rect x="446" y="-1328" width="9" height="28"/><rect x="445" y="-1297" width="8" height="8"/><rect x="442" y="-1277" width="7" height="40"/><rect x="451" y="-1234" width="6" height="16"/><rect x="439" y="-1209" width="16" height="8"/><rect x="428" y="-695" width="34" height="6"/><rect x="452" y="-681" width="9" height="28"/><rect x="446" y="-607" width="12" height="8"/><rect x="448" y="-580" width="8" height="8"/><rect x="438" y="-549" width="28" height="9"/><rect x="441" y="-520" width="9" height="22"/><rect x="441" y="-488" width="8" height="8"/><rect x="443" y="-449" width="16" height="8"/><rect x="440" y="-139" width="8" height="40"/><rect x="430" y="-89" width="28" height="8"/><rect x="447" y="-58" width="7" height="7"/><rect x="450" y="-31" width="8" height="8"/><rect x="453" y="-11" width="7" height="16"/><rect x="450" y="43" width="6" height="34"/><rect x="446" y="83" width="8" height="8"/><rect x="451" y="121" width="7" height="7"/><rect x="442" y="150" width="8" height="8"/><rect x="440" y="175" width="12" height="9"/><rect x="453" y="199" width="7" height="28"/><rect x="425" y="239" width="40" height="9"/><rect x="449" y="267" width="16" height="6"/><rect x="434" y="291" width="40" height="7"/><rect x="450" y="387" width="8" height="8"/><rect x="451" y="419" width="9" height="12"/><rect x="451" y="444" width="7" height="7"/><rect x="448" y="463" width="9" height="22"/><rect x="451" y="492" width="7" height="40"/><rect x="447" y="540" width="16" height="7"/><rect x="444" y="560" width="22" height="9"/><rect x="448" y="611" width="6" height="34"/><rect x="440" y="660" width="8" height="8"/><rect x="443" y="721" width="9" height="9"/><rect x="444" y="773" width="9" height="9"/><rect x="447" y="791" width="9" height="40"/><rect x="440" y="841" width="8" height="8"/><rect x="440" y="873" width="12" height="7"/><rect x="429" y="894" width="28" height="8"/><rect x="431" y="962" width="28" height="9"/><rect x="451" y="1021" width="9" height="9"/><rect x="442" y="1070" width="12" height="8"/><rect x="436" y="1102" width="16" height="9"/><rect x="445" y="1141" width="8" height="8"/><rect x="452" y="1151" width="8" height="28"/><rect x="443" y="1190" width="8" height="8"/><rect x="446" y="1213" width="8" height="34"/><rect x="446" y="1258" width="8" height="16"/><rect x="452" y="1273" width="9" height="22"/><rect x="434" y="1413" width="22" height="6"/><rect x="448" y="1461" width="7" height="7"/><rect x="474" y="-1299" width="8" height="8"/><rect x="471" y="-1271" width="8" height="8"/><rect x="470" y="-1228" width="22" height="7"/><rect x="459" y="-1206" width="28" height="7"/><rect x="471" y="-1168" width="22" height="8"/><rect x="465" y="-1149" width="16" height="7"/><rect x="461" y="-699" width="40" height="6"/><rect x="480" y="-646" width="9" height="40"/><rect x="471" y="-538" width="8" height="8"/><rect x="475" y="-507" width="22" height="7"/><rect x="482" y="-489" width="7" height="7"/><rect x="477" y="-464" width="6" height="22"/><rect x="481" y="-151" width="9" height="9"/><rect x="463" y="-129" width="40" height="7"/><rect x="472" y="-69" width="8" height="8"/><rect x="469" y="24" width="34" height="6"/><rect x="474" y="58" width="8" height="8"/><rect x="479" y="82" width="8" height="8"/><rect x="483" y="106" width="8" height="22"/><rect x="477" y="142" width="8" height="16"/><rect x="473" y="166" width="9" height="34"/><rect x="471" y="201" width="12" height="7"/><rect x="471" y="235" width="7" height="7"/><rect x="479" y="362" width="8" height="8"/><rect x="477" y="382" width="8" height="28"/><rect x="470" y="444" width="7" height="7"/><rect x="480" y="503" width="6" height="28"/><rect x="471" y="533" width="12" height="9"/><rect x="476" y="561" width="9" height="12"/><rect x="478" y="592" width="7" height="7"/><rect x="474" y="662" width="9" height="9"/><rect x="453" y="691" width="40" height="8"/><rect x="482" y="707" width="6" height="40"/><rect x="475" y="745" width="9" height="9"/><rect x="477" y="768" width="9" height="28"/><rect x="470" y="807" width="8" height="8"/><rect x="469" y="842" width="34" height="8"/><rect x="463" y="864" width="28" height="8"/><rect x="472" y="895" width="8" height="8"/><rect x="468" y="923" width="16" height="6"/><rect x="459" y="960" width="34" height="7"/><rect x="475" y="1019" width="8" height="8"/><rect x="475" y="1042" width="7" height="7"/><rect x="474" y="1066" width="7" height="34"/><rect x="481" y="1112" width="7" height="7"/><rect x="480" y="1189" width="6" height="28"/><rect x="457" y="1228" width="40" height="9"/><rect x="480" y="1257" width="7" height="7"/><rect x="472" y="1421" width="8" height="34"/><rect x="508" y="-1329" width="9" height="9"/><rect x="501" y="-1290" width="16" height="9"/><rect x="490" y="-1264" width="34" height="7"/><rect x="502" y="-1241" width="7" height="16"/><rect x="504" y="-1220" width="8" height="28"/><rect x="503" y="-1190" width="7" height="34"/><rect x="503" y="-1139" width="22" height="7"/><rect x="502" y="-697" width="7" height="7"/><rect x="508" y="-640" width="8" height="8"/><rect x="501" y="-603" width="9" height="9"/><rect x="506" y="-577" width="8" height="8"/><rect x="511" y="-543" width="7" height="7"/><rect x="503" y="-516" width="9" height="9"/><rect x="507" y="-486" width="6" height="12"/><rect x="498" y="-452" width="28" height="9"/><rect x="510" y="-159" width="6" height="22"/><rect x="507" y="-118" width="8" height="8"/><rect x="501" y="-99" width="16" height="7"/><rect x="504" y="-65" width="9" height="12"/><rect x="503" y="-43" width="7" height="34"/><rect x="507" y="32" width="8" height="8"/><rect x="507" y="52" width="8" height="8"/><rect x="509" y="85" width="8" height="8"/><rect x="505" y="165" width="8" height="16"/><rect x="500" y="230" width="8" height="16"/><rect x="505" y="273" width="7" height="7"/><rect x="509" y="324" width="7" height="7"/><rect x="511" y="341" width="8" height="34"/><rect x="500" y="416" width="22" height="6"/><rect x="501" y="427" width="6" height="34"/><rect x="508" y="477" width="9" height="9"/><rect x="495" y="507" width="28" height="6"/><rect x="499" y="1429" width="9" height="9"/><rect x="535" y="-1290" width="8" height="8"/><rect x="538" y="-1270" width="9" height="22"/><rect x="535" y="-1231" width="7" height="7"/><rect x="539" y="-1211" width="8" height="8"/><rect x="533" y="-1193" width="6" height="40"/><rect x="541" y="-1143" width="8" height="16"/><rect x="532" y="-641" width="8" height="8"/><rect x="537" y="-580" width="9" height="34"/><rect x="535" y="-540" width="9" height="9"/><rect x="538" y="-518" width="7" height="7"/><rect x="530" y="-492" width="8" height="22"/><rect x="532" y="-152" width="16" height="6"/><rect x="526" y="-129" width="22" height="9"/><rect x="541" y="-99" width="8" height="8"/><rect x="532" y="-82" width="9" height="34"/><rect x="540" y="-34" width="7" height="7"/><rect x="531" y="-20" width="6" height="28"/><rect x="537" y="76" width="8" height="22"/><rect x="532" y="120" width="9" height="9"/><rect x="537" y="136" width="7" height="16"/><rect x="536" y="177" width="9" height="12"/><rect x="537" y="210" width="8" height="8"/><rect x="538" y="231" width="7" height="12"/><rect x="534" y="292" width="8" height="8"/><rect x="529" y="321" width="9" height="16"/><rect x="534" y="345" width="8" height="16"/><rect x="522" y="385" width="22" height="9"/><rect x="530" y="411" width="7" height="7"/><rect x="539" y="443" width="8" height="8"/><rect x="565" y="-1297" width="7" height="7"/><rect x="565" y="-1260" width="9" height="9"/><rect x="560" y="-1230" width="16" height="7"/><rect x="562" y="-1224" width="6" height="40"/><rect x="567" y="-1170" width="7" height="7"/><rect x="568" y="-1154" width="6" height="40"/><rect x="561" y="-149" width="12" height="8"/><rect x="573" y="-124" width="8" height="8"/><rect x="563" y="-98" width="8" height="12"/><rect x="573" y="-64" width="8" height="8"/><rect x="557" y="-29" width="34" height="6"/><rect x="557" y="24" width="16" height="7"/><rect x="560" y="56" width="9" height="9"/><rect x="560" y="112" width="8" height="22"/><rect x="566" y="212" width="9" height="9"/><rect x="565" y="239" width="9" height="12"/><rect x="571" y="303" width="7" height="7"/><rect x="560" y="379" width="8" height="28"/><rect x="595" y="-1293" width="8" height="16"/><rect x="589" y="-1271" width="9" height="22"/><rect x="578" y="-1239" width="34" height="6"/><rect x="595" y="-1207" width="8" height="8"/><rect x="587" y="-1141" width="16" height="9"/><rect x="632" y="-1297" width="7" height="7"/><rect x="627" y="-1238" width="12" height="6"/><rect x="624" y="-1210" width="8" height="8"/><rect x="625" y="-1176" width="9" height="9"/><rect x="622" y="-1159" width="6" height="28"/><rect x="653" y="-1305" width="8" height="16"/><rect x="637" y="-1267" width="40" height="8"/><rect x="656" y="-1236" width="9" height="12"/><rect x="650" y="-1198" width="28" height="8"/><rect x="650" y="-1176" width="8" height="8"/><rect x="653" y="-1143" width="7" height="16"/><rect x="680" y="-1305" width="8" height="40"/><rect x="693" y="-1261" width="7" height="7"/><rect x="667" y="-1240" width="34" height="7"/><rect x="687" y="-1207" width="12" height="8"/><rect x="690" y="-1184" width="9" height="22"/><rect x="683" y="-1153" width="8" height="28"/><rect x="719" y="-1297" width="9" height="9"/><rect x="714" y="-1270" width="7" height="28"/><rect x="709" y="-1227" width="8" height="8"/><rect x="753" y="-1295" width="7" height="7"/><rect x="741" y="-1231" width="22" height="8"/><rect x="751" y="-1213" width="9" height="34"/><rect x="743" y="-1178" width="7" height="7"/><rect x="751" y="-1144" width="8" height="16"/><rect x="778" y="-1261" width="8" height="8"/><rect x="769" y="-1237" width="9" height="9"/><rect x="780" y="-1207" width="7" height="7"/><rect x="774" y="-1167" width="7" height="7"/><rect x="765" y="-1148" width="40" height="7"/><rect x="792" y="-1292" width="40" height="7"/><rect x="806" y="-1269" width="8" height="28"/><rect x="804" y="-1236" width="7" height="12"/><rect x="801" y="-1202" width="8" height="8"/><rect x="803" y="-1178" width="8" height="8"/><rect x="797" y="-1143" width="28" height="8"/></g>
<path d="M3488.9 555.6 C3490.7 592.6 3496.0 706.8 3500.0 777.8 C3504.0 848.8 3506.2 910.5 3512.9 981.5 C3519.7 1052.5 3533.6 1129.6 3540.7 1203.7 C3547.8 1277.8 3557.1 1351.8 3555.5 1425.9 C3554.0 1500.0 3538.6 1567.9 3531.5 1648.1 C3524.4 1728.4 3513.9 1833.3 3512.9 1907.4 C3512.0 1981.4 3521.3 2018.5 3525.9 2092.5 C3530.5 2166.6 3534.5 2262.3 3540.7 2351.8 C3546.9 2441.3 3553.7 2537.0 3562.9 2629.6 C3572.2 2722.2 3585.2 2817.8 3596.3 2907.3 C3607.4 2996.8 3619.7 3091.9 3629.6 3166.6 C3639.5 3241.3 3651.2 3324.0 3655.5 3355.5" fill="none" stroke="#d2d2d2" stroke-width="9" stroke-dasharray="2 3"/>
<path d="M3450.0 1652.0 C3454.2 1677.0 3465.0 1745.3 3475.0 1802.0 C3485.0 1858.7 3504.2 1960.3 3510.0 1992.0" fill="none" stroke="#c9c9c9" stroke-width="5" stroke-dasharray="4 4"/>
<path d="M3459.0 1652.0 C3463.2 1677.0 3474.0 1745.3 3484.0 1802.0 C3494.0 1858.7 3513.2 1960.3 3519.0 1992.0" fill="none" stroke="#c9c9c9" stroke-width="5" stroke-dasharray="4 4"/>
<path d="M3468.0 1652.0 C3472.2 1677.0 3483.0 1745.3 3493.0 1802.0 C3503.0 1858.7 3522.2 1960.3 3528.0 1992.0" fill="none" stroke="#c9c9c9" stroke-width="5" stroke-dasharray="4 4"/>
<path d="M3477.0 1652.0 C3481.2 1677.0 3492.0 1745.3 3502.0 1802.0 C3512.0 1858.7 3531.2 1960.3 3537.0 1992.0" fill="none" stroke="#c9c9c9" stroke-width="5" stroke-dasharray="4 4"/>
<path d="M3486.0 1652.0 C3490.2 1677.0 3501.0 1745.3 3511.0 1802.0 C3521.0 1858.7 3540.2 1960.3 3546.0 1992.0" fill="none" stroke="#c9c9c9" stroke-width="5" stroke-dasharray="4 4"/>
<path d="M3495.0 1652.0 C3499.2 1677.0 3510.0 1745.3 3520.0 1802.0 C3530.0 1858.7 3549.2 1960.3 3555.0 1992.0" fill="none" stroke="#c9c9c9" stroke-width="5" stroke-dasharray="4 4"/>
<path d="M3504.0 1652.0 C3508.2 1677.0 3519.0 1745.3 3529.0 1802.0 C3539.0 1858.7 3558.2 1960.3 3564.0 1992.0" fill="none" stroke="#c9c9c9" stroke-width="5" stroke-dasharray="4 4"/>
<path d="M2870.0 1190.0 L2905.0 1185.0 L2970.0 1050.0 L3060.0 860.0 L3080.0 820.0" fill="none" stroke="#c4c4c4" stroke-width="3"/>
<path d="M2920.0 2152.0 L3260.0 1777.0" fill="none" stroke="#d0d0d0" stroke-width="3"/>
<path d="M2870.0 580.0 C2876.7 583.3 2896.7 590.0 2910.0 600.0 C2923.3 610.0 2940.8 625.0 2950.0 640.0 C2959.2 655.0 2965.0 673.3 2965.0 690.0 C2965.0 706.7 2950.8 725.8 2950.0 740.0 C2949.2 754.2 2953.3 765.0 2960.0 775.0 C2966.7 785.0 2985.0 795.8 2990.0 800.0" fill="none" stroke="#d4d4d4" stroke-width="3"/>
<path d="M3240.0 1352.0 C3233.3 1357.0 3207.5 1372.0 3200.0 1382.0 C3192.5 1392.0 3193.3 1400.3 3195.0 1412.0 C3196.7 1423.7 3201.7 1440.3 3210.0 1452.0 C3218.3 1463.7 3241.7 1471.2 3245.0 1482.0 C3248.3 1492.8 3242.5 1503.7 3230.0 1517.0 C3217.5 1530.3 3185.0 1547.8 3170.0 1562.0 C3155.0 1576.2 3146.7 1587.0 3140.0 1602.0 C3133.3 1617.0 3135.0 1637.0 3130.0 1652.0 C3125.0 1667.0 3120.0 1678.7 3110.0 1692.0 C3100.0 1705.3 3083.3 1719.5 3070.0 1732.0 C3056.7 1744.5 3040.0 1755.3 3030.0 1767.0 C3020.0 1778.7 3014.2 1787.8 3010.0 1802.0 C3005.8 1816.2 3009.2 1838.7 3005.0 1852.0 C3000.8 1865.3 2996.7 1874.5 2985.0 1882.0 C2973.3 1889.5 2950.8 1887.0 2935.0 1897.0 C2919.2 1907.0 2900.8 1932.8 2890.0 1942.0 C2879.2 1951.2 2873.3 1950.3 2870.0 1952.0" fill="none" stroke="#d4d4d4" stroke-width="3"/>
<path d="M3355.0 554.0 C3352.5 568.3 3345.8 607.3 3340.0 640.0 C3334.2 672.7 3316.7 727.5 3320.0 750.0 C3323.3 772.5 3353.3 770.8 3360.0 775.0" fill="none" stroke="#d4d4d4" stroke-width="3"/>
<path d="M3385.0 890.0 C3391.7 900.0 3416.7 933.3 3425.0 950.0 C3433.3 966.7 3430.8 976.7 3435.0 990.0 C3439.2 1003.3 3450.0 1013.3 3450.0 1030.0 C3450.0 1046.7 3435.0 1073.3 3435.0 1090.0 C3435.0 1106.7 3447.5 1123.3 3450.0 1130.0" fill="none" stroke="#d4d4d4" stroke-width="3"/>
<path d="M3640.0 1352.0 C3645.0 1362.0 3653.3 1397.8 3670.0 1412.0 C3686.7 1426.2 3720.8 1427.8 3740.0 1437.0 C3759.2 1446.2 3773.3 1459.5 3785.0 1467.0 C3796.7 1474.5 3792.5 1478.7 3810.0 1482.0 C3827.5 1485.3 3876.7 1486.2 3890.0 1487.0" fill="none" stroke="#cfcfcf" stroke-width="4"/>
<path d="M3390.0 2559.0 C3401.7 2557.3 3440.0 2547.3 3460.0 2549.0 C3480.0 2550.7 3493.3 2564.0 3510.0 2569.0 C3526.7 2574.0 3545.0 2581.5 3560.0 2579.0 C3575.0 2576.5 3583.3 2559.0 3600.0 2554.0 C3616.7 2549.0 3650.0 2549.8 3660.0 2549.0" fill="none" stroke="#d8d8d8" stroke-width="3"/>
<path d="M3970.0 3357.0 C3971.7 3351.8 3970.0 3333.7 3980.0 3326.0 C3990.0 3318.3 4008.3 3316.0 4030.0 3311.0 C4051.7 3306.0 4085.0 3297.7 4110.0 3296.0 C4135.0 3294.3 4160.0 3303.5 4180.0 3301.0 C4200.0 3298.5 4210.0 3282.7 4230.0 3281.0 C4250.0 3279.3 4280.0 3290.2 4300.0 3291.0 C4320.0 3291.8 4341.7 3286.8 4350.0 3286.0" fill="none" stroke="#d0d0d0" stroke-width="5"/>
<path d="M2870.0 2164.0 L2880.0 2184.0 L2995.0 2264.0 L3042.5 2261.5 L3075.0 2414.0 L3190.0 2396.5 L3215.0 2564.0 L3385.0 2541.5 L3412.5 2864.0 L3412.5 2836.0 L3390.0 3106.0 L3430.0 3357.0" fill="none" stroke="#bcbcbc" stroke-width="3"/>
<path d="M2870.0 2980.0 C2895.8 2976.4 2995.0 2972.5 3025.0 2958.5 C3055.0 2944.5 3041.7 2918.9 3050.0 2896.0 C3058.3 2873.1 3073.3 2846.0 3075.0 2821.0 C3076.7 2796.0 3056.7 2766.8 3060.0 2746.0 C3063.3 2725.2 3089.2 2704.3 3095.0 2696.0" fill="none" stroke="#cccccc" stroke-width="3"/>
<path d="M4337.5 650.0 L4340.0 755.0 L4275.0 785.0 L4240.0 766.0 L4140.0 768.0 L4075.0 801.0 L4075.0 900.0 L4095.0 955.0 L4135.0 1182.5 L4270.0 1160.0 L4300.0 1302.5 L4490.0 1272.5 L4500.0 1335.0 L4735.0 1320.0 L4740.0 1352.0 L4765.0 1487.0 L4625.0 1534.5 L4545.0 1534.5" fill="none" stroke="#b4b4b4" stroke-width="3"/>
<path d="M4495.0 1602.0 L4530.0 1652.0 L4495.0 1682.0 L4575.0 1742.0 L4577.5 1804.5 L4535.0 1807.0 L4537.5 1894.5 L4600.0 1894.5 L4600.0 1954.5 L4725.0 1957.0 L4755.0 1989.5 L4760.0 2142.0 L4665.0 2152.0" fill="none" stroke="#b4b4b4" stroke-width="3"/>
<path d="M4675.0 2164.0 L4682.5 2364.0 L4455.0 2396.5 L4510.0 2776.5 L4425.0 2786.5" fill="none" stroke="#b4b4b4" stroke-width="3"/>
<path d="M3485.0 554.0 C3486.7 589.2 3495.8 714.0 3495.0 765.0 C3494.2 816.0 3479.2 822.5 3480.0 860.0 C3480.8 897.5 3491.7 951.7 3500.0 990.0 C3508.3 1028.3 3522.5 1060.8 3530.0 1090.0 C3537.5 1119.2 3540.8 1131.7 3545.0 1165.0 C3549.2 1198.3 3553.3 1269.2 3555.0 1290.0" fill="none" stroke="#c8c8c8" stroke-width="3" stroke-dasharray="3 5"/>
<path d="M3505.0 554.0 C3505.8 589.2 3511.2 714.0 3510.0 765.0 C3508.8 816.0 3496.7 822.5 3497.5 860.0 C3498.3 897.5 3507.9 951.7 3515.0 990.0 C3522.1 1028.3 3535.8 1073.3 3540.0 1090.0" fill="none" stroke="#c8c8c8" stroke-width="3" stroke-dasharray="3 5"/>
<path d="M3475.0 1592.0 C3476.7 1618.7 3479.2 1700.3 3485.0 1752.0 C3490.8 1803.7 3501.7 1852.0 3510.0 1902.0 C3518.3 1952.0 3526.7 2008.3 3535.0 2052.0 C3543.3 2095.7 3555.8 2145.3 3560.0 2164.0" fill="none" stroke="#c4c4c4" stroke-width="3" stroke-dasharray="3 5"/>
<path d="M3567.5 2164.0 C3569.6 2197.3 3573.8 2297.3 3580.0 2364.0 C3586.2 2430.7 3598.3 2489.0 3605.0 2564.0 C3611.7 2639.0 3615.4 2745.3 3620.0 2814.0 C3624.6 2882.7 3630.4 2949.0 3632.5 2976.0" fill="none" stroke="#c8c8c8" stroke-width="3" stroke-dasharray="3 6"/>
<path d="M3617.5 2696.0 C3618.8 2729.3 3617.9 2837.7 3625.0 2896.0 C3632.1 2954.3 3644.2 3000.2 3660.0 3046.0 C3675.8 3091.8 3706.7 3119.2 3720.0 3171.0 C3733.3 3222.8 3736.7 3326.0 3740.0 3357.0" fill="none" stroke="#c8c8c8" stroke-width="3" stroke-dasharray="3 6"/>
<path d="M3275.0 554.0 C3276.7 572.5 3281.7 634.0 3285.0 665.0 C3288.3 696.0 3291.8 720.2 3295.0 740.0 C3298.2 759.8 3299.4 766.8 3304.0 783.5 C3308.6 800.2 3316.5 823.1 3322.5 840.0 C3328.5 856.9 3332.1 870.0 3340.0 885.0 C3347.9 900.0 3359.2 914.2 3370.0 930.0 C3380.8 945.8 3394.2 964.2 3405.0 980.0 C3415.8 995.8 3425.8 1010.0 3435.0 1025.0 C3444.2 1040.0 3451.7 1052.5 3460.0 1070.0 C3468.3 1087.5 3479.6 1115.0 3485.0 1130.0 C3490.4 1145.0 3488.3 1150.0 3492.5 1160.0 C3496.7 1170.0 3502.9 1176.7 3510.0 1190.0 C3517.1 1203.3 3528.8 1225.0 3535.0 1240.0 C3541.2 1255.0 3544.2 1261.3 3547.5 1280.0 C3550.8 1298.7 3552.9 1340.0 3555.0 1352.0 C3557.1 1364.0 3553.5 1313.5 3560.0 1352.0 C3566.5 1390.5 3585.7 1521.3 3594.0 1583.0 C3602.3 1644.7 3603.6 1674.2 3610.0 1722.0 C3616.4 1769.8 3625.0 1814.5 3632.5 1869.5 C3640.0 1924.5 3648.8 2002.9 3655.0 2052.0 C3661.2 2101.1 3666.2 2140.3 3670.0 2164.0 C3673.8 2187.7 3672.5 2158.2 3677.5 2194.0 C3682.5 2229.8 3691.7 2316.5 3700.0 2379.0 C3708.3 2441.5 3719.6 2504.8 3727.5 2569.0 C3735.4 2633.2 3742.9 2724.7 3747.5 2764.0 C3752.1 2803.3 3755.4 2788.3 3755.0 2805.0 C3754.6 2821.7 3746.7 2848.8 3745.0 2864.0 C3743.3 2879.2 3750.8 2858.2 3745.0 2896.0 C3739.2 2933.8 3715.8 3052.7 3710.0 3091.0 C3704.2 3129.3 3705.0 3106.8 3710.0 3126.0 C3715.0 3145.2 3727.5 3167.5 3740.0 3206.0 C3752.5 3244.5 3777.5 3331.8 3785.0 3357.0" fill="none" stroke="#928f8f" stroke-width="8" stroke-linejoin="round" stroke-linecap="butt"/>
<path d="M3753.0 554.0 L3780.0 725.0 L3811.0 935.0 L3850.0 1230.0 L3870.0 1352.0 L3890.6 1500.0 L3898.0 1549.0 L3915.5 1678.0 L3929.0 1776.0 L3941.6 1900.0 L3960.0 2017.0 L3980.0 2164.0 L3975.0 2164.0 L3999.0 2344.0 L4020.0 2463.0 L4057.5 2759.0 L4085.0 2954.0 L4087.5 2956.0 L4114.0 3161.0 L4140.0 3357.0" fill="none" stroke="#928f8f" stroke-width="8" stroke-linejoin="round" stroke-linecap="butt"/>
<path d="M4089.0 1516.0 L4106.0 1654.5 L4128.5 1749.5 L4146.5 1889.5 L4172.5 2119.5 L4200.0 2326.5 L4220.0 2434.0 L4260.0 2731.5" fill="none" stroke="#928f8f" stroke-width="7" stroke-linejoin="round" stroke-linecap="butt"/>
<path d="M4262.0 2732.0 L4277.5 2866.0" fill="none" stroke="#928f8f" stroke-width="10" stroke-linejoin="round" stroke-linecap="butt"/>
<path d="M4297.5 3018.5 L4312.5 3131.0" fill="none" stroke="#928f8f" stroke-width="10" stroke-linejoin="round" stroke-linecap="butt"/>
<path d="M4362.5 1721.0 L4379.0 1861.0 L4404.0 2072.0 L4412.5 2102.0 L4420.0 2199.0 L4430.0 2264.0 L4427.5 2294.0 L4410.0 2334.0 L4372.5 2413.0 L4405.0 2711.5" fill="none" stroke="#928f8f" stroke-width="7" stroke-linejoin="round" stroke-linecap="butt"/>
<path d="M4410.0 2719.0 L4434.0 2911.5 L4467.5 3171.0 L4500.0 3357.0" fill="none" stroke="#928f8f" stroke-width="3" stroke-linejoin="round" stroke-linecap="butt"/>
<path d="M2870.0 1641.0 L3100.0 1641.0 L3180.0 1636.0 L3310.0 1622.0 L3405.0 1608.0 L3594.0 1583.0 L3897.5 1546.0 L4089.0 1517.0" fill="none" stroke="#928f8f" stroke-width="8" stroke-linejoin="round" stroke-linecap="butt"/>
<path d="M3304.0 783.5 L3775.0 725.0 L4072.5 689.0 L4336.0 649.0" fill="none" stroke="#928f8f" stroke-width="8" stroke-linejoin="round" stroke-linecap="butt"/>
<path d="M2870.0 1047.5 C2876.7 1046.1 2898.3 1040.2 2910.0 1039.0 C2921.7 1037.8 2929.2 1036.5 2940.0 1040.0 C2950.8 1043.5 2963.3 1051.7 2975.0 1060.0 C2986.7 1068.3 2995.8 1078.3 3010.0 1090.0 C3024.2 1101.7 3043.3 1118.8 3060.0 1130.0 C3076.7 1141.2 3093.3 1150.0 3110.0 1157.5 C3126.7 1165.0 3130.8 1169.8 3160.0 1175.0 C3189.2 1180.2 3251.7 1186.0 3285.0 1188.5 C3318.3 1191.0 3339.2 1190.6 3360.0 1190.0 C3380.8 1189.4 3393.3 1188.3 3410.0 1185.0 C3426.7 1181.7 3447.5 1174.2 3460.0 1170.0 C3472.5 1165.8 3480.8 1161.7 3485.0 1160.0" fill="none" stroke="#928f8f" stroke-width="7" stroke-linejoin="round" stroke-linecap="butt"/>
<path d="M3405.0 1608.0 C3407.5 1632.0 3410.8 1678.0 3420.0 1752.0 C3429.2 1826.0 3450.4 1983.3 3460.0 2052.0 C3469.6 2120.7 3472.9 2137.0 3477.5 2164.0 C3482.1 2191.0 3482.1 2174.0 3487.5 2214.0 C3492.9 2254.0 3501.7 2341.5 3510.0 2404.0 C3518.3 2466.5 3531.2 2523.2 3537.5 2589.0 C3543.8 2654.8 3545.4 2757.3 3547.5 2799.0 C3549.6 2840.7 3549.2 2828.7 3550.0 2839.0 C3550.8 2849.3 3556.7 2819.0 3552.5 2861.0 C3548.3 2903.0 3529.6 3047.7 3525.0 3091.0 C3520.4 3134.3 3519.2 3076.7 3525.0 3121.0 C3530.8 3165.3 3554.2 3317.7 3560.0 3357.0" fill="none" stroke="#928f8f" stroke-width="7" stroke-linejoin="round" stroke-linecap="butt"/>
<path d="M3487.5 2214.0 L3675.0 2191.5 L3972.0 2154.0 L4176.0 2122.5 L4407.5 2095.0" fill="none" stroke="#928f8f" stroke-width="8" stroke-linejoin="round" stroke-linecap="butt"/>
<path d="M3865.0 1783.0 L3930.0 1776.0 L4128.5 1749.5 L4362.5 1720.5" fill="none" stroke="#928f8f" stroke-width="8" stroke-linejoin="round" stroke-linecap="butt"/>
<path d="M3772.5 1797.0 L3850.0 1787.0" fill="none" stroke="#928f8f" stroke-width="8" stroke-linejoin="round" stroke-linecap="butt"/>
<path d="M3560.0 2824.0 L3610.0 2819.0 L3745.0 2805.0 L3750.0 2801.5 L4057.5 2760.0 L4260.0 2732.5 L4410.0 2714.0" fill="none" stroke="#928f8f" stroke-width="8" stroke-linejoin="round" stroke-linecap="butt"/>
<path d="M3553.3 2797.2 C3554.2 2799.5 3555.6 2807.2 3558.5 2811.0 C3561.4 2814.8 3564.6 2817.8 3570.7 2819.8 C3576.8 2821.9 3590.9 2822.7 3595.0 2823.3" fill="none" stroke="#928f8f" stroke-width="5" stroke-linejoin="round" stroke-linecap="butt"/>
<path d="M3595.0 2826.8 C3591.5 2827.7 3580.3 2829.1 3574.2 2832.0 C3568.1 2834.9 3562.4 2839.0 3558.5 2844.2 C3554.6 2849.4 3551.8 2860.2 3550.5 2863.4" fill="none" stroke="#928f8f" stroke-width="5" stroke-linejoin="round" stroke-linecap="butt"/>
<path d="M4114.0 3162.5 L4315.0 3133.5" fill="none" stroke="#928f8f" stroke-width="8" stroke-linejoin="round" stroke-linecap="butt"/>
<path d="M4020.0 2463.0 L4217.5 2438.0 L4372.5 2414.0" fill="none" stroke="#928f8f" stroke-width="8" stroke-linejoin="round" stroke-linecap="butt"/>
<path d="M3700.0 2575.0 C3705.0 2574.2 3710.8 2573.5 3730.0 2570.0 C3749.2 2566.5 3792.5 2558.2 3815.0 2554.0 C3837.5 2549.8 3852.1 2549.0 3865.0 2545.0 C3877.9 2541.0 3885.0 2536.2 3892.5 2530.0 C3900.0 2523.8 3903.8 2515.2 3910.0 2508.0 C3916.2 2500.8 3922.5 2492.7 3930.0 2487.0 C3937.5 2481.3 3945.8 2477.2 3955.0 2474.0 C3964.2 2470.8 3974.2 2469.8 3985.0 2468.0 C3995.8 2466.2 4014.2 2463.8 4020.0 2463.0" fill="none" stroke="#928f8f" stroke-width="7" stroke-linejoin="round" stroke-linecap="butt"/>
<circle cx="3756.0" cy="2805.0" r="12" fill="#fafafa" stroke="#928f8f" stroke-width="6"/>
<text transform="translate(3143,605) rotate(83)" y="5" text-anchor="middle" font-size="15" fill="#222" stroke="#fff" stroke-width="3" paint-order="stroke" stroke-linejoin="round">Аграрная улица</text><text transform="translate(3650,652) rotate(83)" y="5" text-anchor="middle" font-size="15" fill="#222" stroke="#fff" stroke-width="3" paint-order="stroke" stroke-linejoin="round">Шлакоблочная улица</text><text transform="translate(4235,668) rotate(-8)" y="5" text-anchor="middle" font-size="15" fill="#222" stroke="#fff" stroke-width="3" paint-order="stroke" stroke-linejoin="round">Украинская улица</text><text transform="translate(4337,771) rotate(0)" y="5" text-anchor="middle" font-size="15" fill="#8a8a8a" stroke="#fff" stroke-width="3" paint-order="stroke" stroke-linejoin="round">Уюновка</text><text transform="translate(3365,835) rotate(68)" y="5" text-anchor="middle" font-size="15" fill="#8a8a8a" stroke="#fff" stroke-width="3" paint-order="stroke" stroke-linejoin="round">Красносельская</text><text transform="translate(3968,837) rotate(-62)" y="5" text-anchor="middle" font-size="15" fill="#222" stroke="#fff" stroke-width="3" paint-order="stroke" stroke-linejoin="round">Промышленная улица</text><text transform="translate(4020,793) rotate(-62)" y="5" text-anchor="middle" font-size="15" fill="#222" stroke="#fff" stroke-width="3" paint-order="stroke" stroke-linejoin="round">Карьерная улица</text><text transform="translate(3640,858) rotate(83)" y="5" text-anchor="middle" font-size="15" fill="#222" stroke="#fff" stroke-width="3" paint-order="stroke" stroke-linejoin="round">Долинская улица</text><text transform="translate(3698,903) rotate(83)" y="5" text-anchor="middle" font-size="15" fill="#222" stroke="#fff" stroke-width="3" paint-order="stroke" stroke-linejoin="round">Новая улица</text><text transform="translate(3245,922) rotate(-8)" y="5" text-anchor="middle" font-size="15" fill="#222" stroke="#fff" stroke-width="3" paint-order="stroke" stroke-linejoin="round">Саранская улица</text><text transform="translate(3575,964) rotate(-8)" y="5" text-anchor="middle" font-size="15" fill="#222" stroke="#fff" stroke-width="3" paint-order="stroke" stroke-linejoin="round">Крайняя улица</text><text transform="translate(3370,970) rotate(-40)" y="5" text-anchor="middle" font-size="15" fill="#222" stroke="#fff" stroke-width="3" paint-order="stroke" stroke-linejoin="round">Кировский переулок</text><text transform="translate(3350,1043) rotate(-8)" y="5" text-anchor="middle" font-size="15" fill="#222" stroke="#fff" stroke-width="3" paint-order="stroke" stroke-linejoin="round">Гаражная улица</text><text transform="translate(4005,1018) rotate(83)" y="5" text-anchor="middle" font-size="15" fill="#222" stroke="#fff" stroke-width="3" paint-order="stroke" stroke-linejoin="round">Яблочная улица</text><text transform="translate(3980,1050) rotate(83)" y="5" text-anchor="middle" font-size="15" fill="#222" stroke="#fff" stroke-width="3" paint-order="stroke" stroke-linejoin="round">Зелёная улица</text><text transform="translate(4070,1135) rotate(83)" y="5" text-anchor="middle" font-size="15" fill="#222" stroke="#fff" stroke-width="3" paint-order="stroke" stroke-linejoin="round">Родниковая улица</text><text transform="translate(3970,1118) rotate(-8)" y="5" text-anchor="middle" font-size="15" fill="#222" stroke="#fff" stroke-width="3" paint-order="stroke" stroke-linejoin="round">Пионерская улица</text><text transform="translate(3912,1220) rotate(83)" y="5" text-anchor="middle" font-size="15" fill="#222" stroke="#fff" stroke-width="3" paint-order="stroke" stroke-linejoin="round">Физкультурная улица</text><text transform="translate(4053,1230) rotate(83)" y="5" text-anchor="middle" font-size="15" fill="#222" stroke="#fff" stroke-width="3" paint-order="stroke" stroke-linejoin="round">Комсомольская улица</text><text transform="translate(3313,1125) rotate(83)" y="5" text-anchor="middle" font-size="15" fill="#222" stroke="#fff" stroke-width="3" paint-order="stroke" stroke-linejoin="round">Совхозная улица</text><text transform="translate(3225,1180) rotate(4)" y="5" text-anchor="middle" font-size="15" fill="#222" stroke="#fff" stroke-width="3" paint-order="stroke" stroke-linejoin="round">Транзитная улица</text><text transform="translate(3125,1235) rotate(-8)" y="5" text-anchor="middle" font-size="15" fill="#222" stroke="#fff" stroke-width="3" paint-order="stroke" stroke-linejoin="round">улица Крылова</text><text transform="translate(3551,1206) rotate(85)" y="5" text-anchor="middle" font-size="15" fill="#222" stroke="#fff" stroke-width="3" paint-order="stroke" stroke-linejoin="round">Мостовая улица</text><text transform="translate(3365,1330) rotate(87)" y="5" text-anchor="middle" font-size="15" fill="#222" stroke="#fff" stroke-width="3" paint-order="stroke" stroke-linejoin="round">Трудовая улица</text><text transform="translate(3990,1318) rotate(-5)" y="5" text-anchor="middle" font-size="15" fill="#222" stroke="#fff" stroke-width="3" paint-order="stroke" stroke-linejoin="round">Горная улица</text><text transform="translate(2910,1369) rotate(-8)" y="5" text-anchor="middle" font-size="15" fill="#222" stroke="#fff" stroke-width="3" paint-order="stroke" stroke-linejoin="round">ская улица</text><text transform="translate(3767,1400) rotate(-10)" y="5" text-anchor="middle" font-size="15" fill="#222" stroke="#fff" stroke-width="3" paint-order="stroke" stroke-linejoin="round">Бумажная улица</text><text transform="translate(3005,1455) rotate(-5)" y="5" text-anchor="middle" font-size="15" fill="#222" stroke="#fff" stroke-width="3" paint-order="stroke" stroke-linejoin="round">улица Гоголя</text><text transform="translate(3527,1460) rotate(85)" y="5" text-anchor="middle" font-size="15" fill="#222" stroke="#fff" stroke-width="3" paint-order="stroke" stroke-linejoin="round">улица Крюкова</text><text transform="translate(3697,1478) rotate(85)" y="5" text-anchor="middle" font-size="15" fill="#222" stroke="#fff" stroke-width="3" paint-order="stroke" stroke-linejoin="round">Милицейская улица</text><text transform="translate(4190,1465) rotate(-7)" y="5" text-anchor="middle" font-size="15" fill="#222" stroke="#fff" stroke-width="3" paint-order="stroke" stroke-linejoin="round">Детская улица</text><text transform="translate(4533,1420) rotate(-7)" y="5" text-anchor="middle" font-size="15" fill="#222" stroke="#fff" stroke-width="3" paint-order="stroke" stroke-linejoin="round">Венская улица</text><text transform="translate(4555,1472) rotate(-15)" y="5" text-anchor="middle" font-size="15" fill="#8a8a8a" stroke="#fff" stroke-width="3" paint-order="stroke" stroke-linejoin="round">Рогатка</text><text transform="translate(3013,1528) rotate(-7)" y="5" text-anchor="middle" font-size="15" fill="#222" stroke="#fff" stroke-width="3" paint-order="stroke" stroke-linejoin="round">Овражная улица</text><text transform="translate(3177,1525) rotate(-75)" y="5" text-anchor="middle" font-size="15" fill="#222" stroke="#fff" stroke-width="3" paint-order="stroke" stroke-linejoin="round">Белорусский переулок</text><text transform="translate(3221,1546) rotate(-55)" y="5" text-anchor="middle" font-size="15" fill="#222" stroke="#fff" stroke-width="3" paint-order="stroke" stroke-linejoin="round">Матросский переулок</text><text transform="translate(3933,1540) rotate(-7)" y="5" text-anchor="middle" font-size="15" fill="#222" stroke="#fff" stroke-width="3" paint-order="stroke" stroke-linejoin="round">Сахалинская улица</text><text transform="translate(2970,1595) rotate(-2)" y="5" text-anchor="middle" font-size="15" fill="#222" stroke="#fff" stroke-width="3" paint-order="stroke" stroke-linejoin="round">улица Александра Матросова</text><text transform="translate(3037,1640) rotate(0)" y="5" text-anchor="middle" font-size="15" fill="#222" stroke="#fff" stroke-width="3" paint-order="stroke" stroke-linejoin="round">Сахалинская улица</text><text transform="translate(4485,1590) rotate(-45)" y="5" text-anchor="middle" font-size="15" fill="#222" stroke="#fff" stroke-width="3" paint-order="stroke" stroke-linejoin="round">Алтайский переулок</text><text transform="translate(3830,1598) rotate(-7)" y="5" text-anchor="middle" font-size="15" fill="#222" stroke="#fff" stroke-width="3" paint-order="stroke" stroke-linejoin="round">Курильская улица</text><text transform="translate(3765,1652) rotate(-7)" y="5" text-anchor="middle" font-size="15" fill="#222" stroke="#fff" stroke-width="3" paint-order="stroke" stroke-linejoin="round">Курильская улица</text><text transform="translate(3600,1645) rotate(83)" y="5" text-anchor="middle" font-size="15" fill="#222" stroke="#fff" stroke-width="3" paint-order="stroke" stroke-linejoin="round">улица Ленина</text><text transform="translate(3555,1650) rotate(85)" y="5" text-anchor="middle" font-size="15" fill="#222" stroke="#fff" stroke-width="3" paint-order="stroke" stroke-linejoin="round">улица Крюкова</text><text transform="translate(3883,1688) rotate(-8)" y="5" text-anchor="middle" font-size="15" fill="#222" stroke="#fff" stroke-width="3" paint-order="stroke" stroke-linejoin="round">Хабаровская улица</text><text transform="translate(4050,1700) rotate(83)" y="5" text-anchor="middle" font-size="15" fill="#222" stroke="#fff" stroke-width="3" paint-order="stroke" stroke-linejoin="round">улица Леонова</text><text transform="translate(2955,1700) rotate(90)" y="5" text-anchor="middle" font-size="15" fill="#222" stroke="#fff" stroke-width="3" paint-order="stroke" stroke-linejoin="round">Проточная улица</text><text transform="translate(3250,1720) rotate(85)" y="5" text-anchor="middle" font-size="15" fill="#222" stroke="#fff" stroke-width="3" paint-order="stroke" stroke-linejoin="round">Полевая улица</text><text transform="translate(3277,1710) rotate(85)" y="5" text-anchor="middle" font-size="15" fill="#222" stroke="#fff" stroke-width="3" paint-order="stroke" stroke-linejoin="round">Загородная улица</text><text transform="translate(3300,1700) rotate(85)" y="5" text-anchor="middle" font-size="15" fill="#222" stroke="#fff" stroke-width="3" paint-order="stroke" stroke-linejoin="round">Западная улица</text><text transform="translate(3325,1700) rotate(85)" y="5" text-anchor="middle" font-size="15" fill="#222" stroke="#fff" stroke-width="3" paint-order="stroke" stroke-linejoin="round">Сентябрьская улица</text><text transform="translate(3183,1737) rotate(-8)" y="5" text-anchor="middle" font-size="15" fill="#222" stroke="#fff" stroke-width="3" paint-order="stroke" stroke-linejoin="round">Рабочая улица</text><text transform="translate(3513,1705) rotate(85)" y="5" text-anchor="middle" font-size="15" fill="#222" stroke="#fff" stroke-width="3" paint-order="stroke" stroke-linejoin="round">Вокзальная улица</text><text transform="translate(4372,1795) rotate(85)" y="5" text-anchor="middle" font-size="15" fill="#222" stroke="#fff" stroke-width="3" paint-order="stroke" stroke-linejoin="round">улица Горького</text><text transform="translate(3758,1770) rotate(83)" y="5" text-anchor="middle" font-size="15" fill="#222" stroke="#fff" stroke-width="3" paint-order="stroke" stroke-linejoin="round">улица Чехова</text><text transform="translate(3185,1783) rotate(-8)" y="5" text-anchor="middle" font-size="15" fill="#222" stroke="#fff" stroke-width="3" paint-order="stroke" stroke-linejoin="round">Киевская улица</text><text transform="translate(3650,1813) rotate(-7)" y="5" text-anchor="middle" font-size="15" fill="#222" stroke="#fff" stroke-width="3" paint-order="stroke" stroke-linejoin="round">Коммунистический проспект</text><text transform="translate(3865,1830) rotate(83)" y="5" text-anchor="middle" font-size="15" fill="#222" stroke="#fff" stroke-width="3" paint-order="stroke" stroke-linejoin="round">улица Дзержинского</text><text transform="translate(2940,1830) rotate(-8)" y="5" text-anchor="middle" font-size="15" fill="#222" stroke="#fff" stroke-width="3" paint-order="stroke" stroke-linejoin="round">улица Тургенева</text><text transform="translate(2897,1755) rotate(-8)" y="5" text-anchor="middle" font-size="15" fill="#222" stroke="#fff" stroke-width="3" paint-order="stroke" stroke-linejoin="round">переулок</text><text transform="translate(2903,1780) rotate(-8)" y="5" text-anchor="middle" font-size="15" fill="#222" stroke="#fff" stroke-width="3" paint-order="stroke" stroke-linejoin="round">переулок</text><text transform="translate(2897,1812) rotate(-8)" y="5" text-anchor="middle" font-size="15" fill="#222" stroke="#fff" stroke-width="3" paint-order="stroke" stroke-linejoin="round">я улица</text><text transform="translate(3105,1860) rotate(85)" y="5" text-anchor="middle" font-size="15" fill="#222" stroke="#fff" stroke-width="3" paint-order="stroke" stroke-linejoin="round">Рязанская улица</text><text transform="translate(3245,1860) rotate(85)" y="5" text-anchor="middle" font-size="15" fill="#222" stroke="#fff" stroke-width="3" paint-order="stroke" stroke-linejoin="round">Степная улица</text><text transform="translate(3610,1865) rotate(-7)" y="5" text-anchor="middle" font-size="15" fill="#222" stroke="#fff" stroke-width="3" paint-order="stroke" stroke-linejoin="round">улица Карла Маркса</text><text transform="translate(4255,1872) rotate(-7)" y="5" text-anchor="middle" font-size="15" fill="#222" stroke="#fff" stroke-width="3" paint-order="stroke" stroke-linejoin="round">Тихоокеанская улица</text><text transform="translate(4670,1780) rotate(-85)" y="5" text-anchor="middle" font-size="15" fill="#222" stroke="#fff" stroke-width="3" paint-order="stroke" stroke-linejoin="round">улица Горный воздух</text><text transform="translate(3687,1935) rotate(83)" y="5" text-anchor="middle" font-size="15" fill="#222" stroke="#fff" stroke-width="3" paint-order="stroke" stroke-linejoin="round">Амурская улица</text><text transform="translate(3385,1870) rotate(85)" y="5" text-anchor="middle" font-size="15" fill="#222" stroke="#fff" stroke-width="3" paint-order="stroke" stroke-linejoin="round">Южно-Сахалинская</text><text transform="translate(3387,1985) rotate(85)" y="5" text-anchor="middle" font-size="15" fill="#222" stroke="#fff" stroke-width="3" paint-order="stroke" stroke-linejoin="round">Тихая улица</text><text transform="translate(4240,1958) rotate(-7)" y="5" text-anchor="middle" font-size="15" fill="#222" stroke="#fff" stroke-width="3" paint-order="stroke" stroke-linejoin="round">проезд Зацаринного</text><text transform="translate(4553,2050) rotate(62)" y="5" text-anchor="middle" font-size="15" fill="#222" stroke="#fff" stroke-width="3" paint-order="stroke" stroke-linejoin="round">Горнолыжная улица</text><text transform="translate(4670,2060) rotate(-7)" y="5" text-anchor="middle" font-size="15" fill="#222" stroke="#fff" stroke-width="3" paint-order="stroke" stroke-linejoin="round">улица Шагалова</text><text transform="translate(3150,2057) rotate(-7)" y="5" text-anchor="middle" font-size="15" fill="#222" stroke="#fff" stroke-width="3" paint-order="stroke" stroke-linejoin="round">Деловская улица</text><text transform="translate(3805,2055) rotate(-7)" y="5" text-anchor="middle" font-size="15" fill="#222" stroke="#fff" stroke-width="3" paint-order="stroke" stroke-linejoin="round">улица Космонавта Поповича</text><text transform="translate(3348,2040) rotate(85)" y="5" text-anchor="middle" font-size="15" fill="#222" stroke="#fff" stroke-width="3" paint-order="stroke" stroke-linejoin="round">Западная улица</text><text transform="translate(4665,2130) rotate(-5)" y="5" text-anchor="middle" font-size="15" fill="#222" stroke="#fff" stroke-width="3" paint-order="stroke" stroke-linejoin="round">Подкаменка</text><text transform="translate(3425,2129) rotate(-8)" y="5" text-anchor="middle" font-size="15" fill="#222" stroke="#fff" stroke-width="3" paint-order="stroke" stroke-linejoin="round">Хлебная улица</text><text transform="translate(3160,2156) rotate(-8)" y="5" text-anchor="middle" font-size="15" fill="#222" stroke="#fff" stroke-width="3" paint-order="stroke" stroke-linejoin="round">Хлебная улица</text><text transform="translate(3020,2169) rotate(88)" y="5" text-anchor="middle" font-size="15" fill="#222" stroke="#fff" stroke-width="3" paint-order="stroke" stroke-linejoin="round">Круговая улица</text><text transform="translate(3340,2199) rotate(-15)" y="5" text-anchor="middle" font-size="15" fill="#222" stroke="#fff" stroke-width="3" paint-order="stroke" stroke-linejoin="round">Учительская улица</text><text transform="translate(3400,2234) rotate(-10)" y="5" text-anchor="middle" font-size="15" fill="#222" stroke="#fff" stroke-width="3" paint-order="stroke" stroke-linejoin="round">проспект Победы</text><text transform="translate(3935,2157) rotate(-7)" y="5" text-anchor="middle" font-size="15" fill="#222" stroke="#fff" stroke-width="3" paint-order="stroke" stroke-linejoin="round">проспект Победы</text><text transform="translate(4420,2152) rotate(85)" y="5" text-anchor="middle" font-size="15" fill="#222" stroke="#fff" stroke-width="3" paint-order="stroke" stroke-linejoin="round">улица Горького</text><text transform="translate(3633,2269) rotate(85)" y="5" text-anchor="middle" font-size="15" fill="#222" stroke="#fff" stroke-width="3" paint-order="stroke" stroke-linejoin="round">улица Крюкова</text><text transform="translate(3295,2314) rotate(-5)" y="5" text-anchor="middle" font-size="15" fill="#222" stroke="#fff" stroke-width="3" paint-order="stroke" stroke-linejoin="round">Солнечный переулок</text><text transform="translate(3675,2389) rotate(-7)" y="5" text-anchor="middle" font-size="15" fill="#222" stroke="#fff" stroke-width="3" paint-order="stroke" stroke-linejoin="round">Пограничная улица</text><text transform="translate(3380,2437) rotate(-7)" y="5" text-anchor="middle" font-size="15" fill="#222" stroke="#fff" stroke-width="3" paint-order="stroke" stroke-linejoin="round">Пограничная улица</text><text transform="translate(4525,2381) rotate(-3)" y="5" text-anchor="middle" font-size="15" fill="#8a8a8a" stroke="#fff" stroke-width="3" paint-order="stroke" stroke-linejoin="round">Пригородный</text><text transform="translate(3527,2496) rotate(87)" y="5" text-anchor="middle" font-size="15" fill="#222" stroke="#fff" stroke-width="3" paint-order="stroke" stroke-linejoin="round">Железнодорожная улица</text><text transform="translate(3705,2571) rotate(-10)" y="5" text-anchor="middle" font-size="15" fill="#222" stroke="#fff" stroke-width="3" paint-order="stroke" stroke-linejoin="round">улица Емельянова</text><text transform="translate(3825,2624) rotate(83)" y="5" text-anchor="middle" font-size="15" fill="#222" stroke="#fff" stroke-width="3" paint-order="stroke" stroke-linejoin="round">улица Пушкина</text><text transform="translate(4410,2659) rotate(85)" y="5" text-anchor="middle" font-size="15" fill="#222" stroke="#fff" stroke-width="3" paint-order="stroke" stroke-linejoin="round">улица Горького</text><text transform="translate(4140,2752) rotate(-7)" y="5" text-anchor="middle" font-size="15" fill="#222" stroke="#fff" stroke-width="3" paint-order="stroke" stroke-linejoin="round">улица Пуркаева</text><text transform="translate(4290,2949) rotate(83)" y="5" text-anchor="middle" font-size="15" fill="#222" stroke="#fff" stroke-width="3" paint-order="stroke" stroke-linejoin="round">Комсомольская улица</text><text transform="translate(4150,2946) rotate(-7)" y="5" text-anchor="middle" font-size="15" fill="#222" stroke="#fff" stroke-width="3" paint-order="stroke" stroke-linejoin="round">улица Есенина</text><text transform="translate(3385,2959) rotate(-15)" y="5" text-anchor="middle" font-size="15" fill="#8a8a8a" stroke="#fff" stroke-width="3" paint-order="stroke" stroke-linejoin="round">Чувашка</text><text transform="translate(3995,3074) rotate(85)" y="5" text-anchor="middle" font-size="15" fill="#222" stroke="#fff" stroke-width="3" paint-order="stroke" stroke-linejoin="round">Больничный переулок</text><text transform="translate(3915,3194) rotate(-10)" y="5" text-anchor="middle" font-size="15" fill="#222" stroke="#fff" stroke-width="3" paint-order="stroke" stroke-linejoin="round">Больничная улица</text><text transform="translate(3620,3279) rotate(75)" y="5" text-anchor="middle" font-size="15" fill="#222" stroke="#fff" stroke-width="3" paint-order="stroke" stroke-linejoin="round">Кладовая улица</text><text transform="translate(4005,3289) rotate(-15)" y="5" text-anchor="middle" font-size="15" fill="#222" stroke="#fff" stroke-width="3" paint-order="stroke" stroke-linejoin="round">Авиационная улица</text><text transform="translate(4390,3286) rotate(0)" y="5" text-anchor="middle" font-size="15" fill="#8a8a8a" stroke="#fff" stroke-width="3" paint-order="stroke" stroke-linejoin="round">Еланька</text>
<path d="M3304.0 783.5 C3291.5 780.8 3259.0 786.2 3235.0 789.0 C3211.0 791.8 3185.4 796.5 3160.0 800.0 C3134.6 803.5 3098.3 804.2 3082.5 810.0 C3066.7 815.8 3068.6 827.5 3065.0 835.0 C3061.4 842.5 3060.2 848.8 3061.0 855.0 C3061.8 861.2 3064.3 866.7 3070.0 872.5 C3075.7 878.3 3085.8 883.8 3095.0 890.0 C3104.2 896.2 3117.5 902.5 3125.0 910.0 C3132.5 917.5 3136.5 924.2 3140.0 935.0 C3143.5 945.8 3143.5 960.8 3146.0 975.0 C3148.5 989.2 3152.7 1005.8 3155.0 1020.0 C3157.3 1034.2 3160.8 1049.2 3160.0 1060.0 C3159.2 1070.8 3151.2 1078.3 3150.0 1085.0 C3148.8 1091.7 3150.0 1096.0 3152.5 1100.0 C3155.0 1104.0 3157.1 1109.8 3165.0 1109.0 C3172.9 1108.2 3188.3 1097.8 3200.0 1095.0 C3211.7 1092.2 3224.2 1090.8 3235.0 1092.5 C3245.8 1094.2 3256.7 1098.8 3265.0 1105.0 C3273.3 1111.2 3280.7 1120.0 3285.0 1130.0 C3289.3 1140.0 3290.6 1154.2 3291.0 1165.0 C3291.4 1175.8 3290.2 1187.5 3287.5 1195.0 C3284.8 1202.5 3280.4 1206.7 3275.0 1210.0 C3269.6 1213.3 3259.3 1211.7 3255.0 1215.0 C3250.7 1218.3 3249.0 1223.3 3249.0 1230.0 C3249.0 1236.7 3251.9 1246.2 3255.0 1255.0 C3258.1 1263.8 3258.3 1280.8 3267.5 1282.5 C3276.7 1284.2 3294.6 1269.6 3310.0 1265.0 C3325.4 1260.4 3347.5 1260.0 3360.0 1255.0 C3372.5 1250.0 3378.3 1244.2 3385.0 1235.0 C3391.7 1225.8 3395.0 1210.0 3400.0 1200.0 C3405.0 1190.0 3409.2 1185.0 3415.0 1175.0 C3420.8 1165.0 3430.8 1150.8 3435.0 1140.0 C3439.2 1129.2 3441.7 1119.2 3440.0 1110.0 C3438.3 1100.8 3427.9 1091.7 3425.0 1085.0 C3422.1 1078.3 3420.8 1076.7 3422.5 1070.0 C3424.2 1063.3 3433.8 1052.5 3435.0 1045.0 C3436.2 1037.5 3435.8 1035.8 3430.0 1025.0 C3424.2 1014.2 3410.0 995.0 3400.0 980.0 C3390.0 965.0 3380.0 950.0 3370.0 935.0 C3360.0 920.0 3347.9 905.8 3340.0 890.0 C3332.1 874.2 3327.5 854.2 3322.5 840.0 C3317.5 825.8 3313.1 814.4 3310.0 805.0 C3306.9 795.6 3316.5 786.2 3304.0 783.5 Z" fill="#7294d5" fill-opacity="0.68"/>
<path d="M4072.5 690.0 L4336.0 651.0 L4340.0 745.0 L4275.0 762.5 L4225.0 762.5 L4140.0 766.0 L4075.0 800.0 L4075.0 904.0 L3957.5 915.0 L4000.0 845.0 L4045.0 750.0 Z" fill="#a677bf" fill-opacity="0.68"/>
<path d="M3811.0 935.0 L3957.5 916.0 L4076.0 904.0 L4100.0 1090.0 L4140.0 1295.0 L4070.0 1305.0 L3935.0 1321.0 L3935.0 1372.0 L3875.0 1379.5 L3850.0 1230.0 L3827.5 1070.0 Z" fill="#7294d5" fill-opacity="0.68"/>
<path d="M3876.0 1383.0 L3939.0 1375.0 L3939.0 1330.0 L4069.0 1312.5 L4075.0 1352.0 L4089.0 1515.0 L3897.5 1535.0 Z" fill="#7294d5" fill-opacity="0.68"/>
<path d="M4074.0 1309.0 L4280.0 1286.0 L4290.0 1352.0 L4298.0 1450.0 L4089.5 1479.0 L4076.0 1352.0 Z" fill="#a677bf" fill-opacity="0.68"/>
<path d="M3901.0 1545.5 L4091.5 1522.0 L4105.0 1654.0 L3916.0 1678.5 Z" fill="#fc9762" fill-opacity="0.68"/>
<path d="M3594.0 1585.0 L3893.5 1548.0 L3910.0 1677.5 L3611.0 1720.5 Z" fill="#f16f8e" fill-opacity="0.68"/>
<path d="M4131.0 1752.0 L4361.0 1724.0 L4376.5 1857.0 L4145.5 1885.5 Z" fill="#ffcf7c" fill-opacity="0.68"/>
<path d="M4147.0 1888.0 L4377.5 1859.5 L4402.0 2072.0 L4399.0 2086.0 L4179.0 2114.0 Z" fill="#ffcf7c" fill-opacity="0.68"/>
<path d="M3944.0 1870.5 L4135.0 1846.0 L4151.5 1989.0 L3961.0 2013.5 Z" fill="#7294d5" fill-opacity="0.68"/>
<path d="M3961.5 2017.0 L4152.5 1992.5 L4170.0 2116.0 L3975.0 2141.0 Z" fill="#7294d5" fill-opacity="0.68"/>
<path d="M3633.5 1869.0 L3770.0 1850.0 L3791.0 2035.0 L3656.0 2054.0 Z" fill="#7294d5" fill-opacity="0.68"/>
<path d="M3355.0 1756.0 L3417.0 1750.5 L3462.5 2086.0 L3395.0 2095.5 Z" fill="#7294d5" fill-opacity="0.68"/>
<path d="M3660.0 2058.0 L3953.0 2022.0 L3972.0 2151.0 L3676.0 2187.0 Z" fill="#f16f8e" fill-opacity="0.68"/>
<path d="M3678.0 2194.0 L3972.0 2159.0 L3994.0 2343.0 L3700.0 2381.0 L3702.0 2381.0 Z" fill="#a677bf" fill-opacity="0.68"/>
<path d="M3979.0 2158.0 L4171.0 2130.0 L4194.0 2327.0 L4001.0 2341.0 Z" fill="#f16f8e" fill-opacity="0.68"/>
<path d="M4182.0 2126.5 L4400.0 2099.0 L4412.5 2114.0 L4419.0 2199.0 L4428.0 2264.0 L4426.0 2294.0 L4409.0 2334.0 L4371.0 2411.0 L4221.0 2430.5 Z" fill="#a677bf" fill-opacity="0.68"/>
<path d="M4223.5 2439.0 L4369.0 2420.5 L4403.5 2708.0 L4263.5 2728.0 Z" fill="#f16f8e" fill-opacity="0.68"/>
<path d="M4021.5 2464.0 L4214.0 2440.5 L4253.5 2730.5 L4059.0 2755.5 Z" fill="#ffcf7c" fill-opacity="0.68"/>
<path d="M3730.0 2571.0 L3815.0 2555.5 L3865.0 2546.5 L3892.5 2531.5 L3910.0 2509.0 L3930.0 2488.0 L3955.0 2475.0 L3985.0 2469.0 L4014.0 2465.0 L4051.5 2758.0 L3795.0 2794.0 L3770.0 2790.0 L3754.0 2771.5 L3749.0 2744.0 Z" fill="#fc9762" fill-opacity="0.68"/>
<path d="M4062.0 2767.0 L4257.5 2742.5 L4281.5 2928.0 L4086.0 2952.5 Z" fill="#ffcf7c" fill-opacity="0.68"/>
<path d="M4268.0 2737.0 L4409.0 2721.0 L4431.5 2905.5 L4291.0 2922.5 Z" fill="#7294d5" fill-opacity="0.68"/>
<path d="M4088.0 2957.0 L4283.5 2932.5 L4309.5 3130.0 L4114.0 3157.0 Z" fill="#fc9762" fill-opacity="0.68"/>
<path d="M4295.5 2926.0 L4432.5 2909.0 L4466.5 3170.0 L4395.0 3136.0 L4365.0 3128.5 L4318.5 3127.5 Z" fill="#a677bf" fill-opacity="0.68"/>
<circle cx="3294.0" cy="1012.5" r="38" fill="#fff" stroke="#7f9fd4" stroke-width="2"/>
<text x="3294.0" y="1030.2" font-size="50" fill="#7f9fd4" stroke="#fff" stroke-width="1.2" text-anchor="middle" textLength="47" lengthAdjust="spacingAndGlyphs">22</text>
<circle cx="4203.0" cy="716.0" r="38" fill="#fff" stroke="#7f9fd4" stroke-width="2"/>
<text x="4203.0" y="733.8" font-size="50" fill="#7f9fd4" stroke="#fff" stroke-width="1.2" text-anchor="middle" textLength="47" lengthAdjust="spacingAndGlyphs">20</text>
<circle cx="3977.5" cy="1157.5" r="38" fill="#fff" stroke="#7f9fd4" stroke-width="2"/>
<text x="3977.5" y="1175.2" font-size="50" fill="#7f9fd4" stroke="#fff" stroke-width="1.2" text-anchor="middle" textLength="47" lengthAdjust="spacingAndGlyphs">19</text>
<circle cx="3979.0" cy="1445.5" r="38" fill="#fff" stroke="#7f9fd4" stroke-width="2"/>
<text x="3979.0" y="1463.2" font-size="50" fill="#7f9fd4" stroke="#fff" stroke-width="1.2" text-anchor="middle" textLength="47" lengthAdjust="spacingAndGlyphs">17</text>
<circle cx="4190.0" cy="1386.0" r="38" fill="#fff" stroke="#7f9fd4" stroke-width="2"/>
<text x="4190.0" y="1403.8" font-size="50" fill="#7f9fd4" stroke="#fff" stroke-width="1.2" text-anchor="middle" textLength="47" lengthAdjust="spacingAndGlyphs">18</text>
<circle cx="4015.0" cy="1595.5" r="38" fill="#fff" stroke="#7f9fd4" stroke-width="2"/>
<text x="4015.0" y="1613.2" font-size="50" fill="#7f9fd4" stroke="#fff" stroke-width="1.2" text-anchor="middle" textLength="22" lengthAdjust="spacingAndGlyphs">4</text>
<circle cx="3758.0" cy="1630.0" r="38" fill="#fff" stroke="#7f9fd4" stroke-width="2"/>
<text x="3758.0" y="1647.8" font-size="50" fill="#7f9fd4" stroke="#fff" stroke-width="1.2" text-anchor="middle" textLength="22" lengthAdjust="spacingAndGlyphs">1</text>
<circle cx="4270.0" cy="1817.0" r="38" fill="#fff" stroke="#7f9fd4" stroke-width="2"/>
<text x="4270.0" y="1834.8" font-size="50" fill="#7f9fd4" stroke="#fff" stroke-width="1.2" text-anchor="middle" textLength="22" lengthAdjust="spacingAndGlyphs">7</text>
<circle cx="4284.0" cy="2019.5" r="38" fill="#fff" stroke="#7f9fd4" stroke-width="2"/>
<text x="4284.0" y="2037.2" font-size="50" fill="#7f9fd4" stroke="#fff" stroke-width="1.2" text-anchor="middle" textLength="22" lengthAdjust="spacingAndGlyphs">8</text>
<circle cx="4052.5" cy="1945.5" r="38" fill="#fff" stroke="#7f9fd4" stroke-width="2"/>
<text x="4052.5" y="1963.2" font-size="50" fill="#7f9fd4" stroke="#fff" stroke-width="1.2" text-anchor="middle" textLength="22" lengthAdjust="spacingAndGlyphs">5</text>
<circle cx="4071.5" cy="2074.5" r="38" fill="#fff" stroke="#7f9fd4" stroke-width="2"/>
<text x="4071.5" y="2092.2" font-size="50" fill="#7f9fd4" stroke="#fff" stroke-width="1.2" text-anchor="middle" textLength="22" lengthAdjust="spacingAndGlyphs">6</text>
<circle cx="3723.0" cy="1963.0" r="38" fill="#fff" stroke="#7f9fd4" stroke-width="2"/>
<text x="3723.0" y="1980.8" font-size="50" fill="#7f9fd4" stroke="#fff" stroke-width="1.2" text-anchor="middle" textLength="22" lengthAdjust="spacingAndGlyphs">2</text>
<circle cx="3416.5" cy="1937.0" r="38" fill="#fff" stroke="#7f9fd4" stroke-width="2"/>
<text x="3416.5" y="1954.8" font-size="50" fill="#7f9fd4" stroke="#fff" stroke-width="1.2" text-anchor="middle" textLength="47" lengthAdjust="spacingAndGlyphs">25</text>
<circle cx="3830.0" cy="2121.0" r="38" fill="#fff" stroke="#7f9fd4" stroke-width="2"/>
<text x="3830.0" y="2138.8" font-size="50" fill="#7f9fd4" stroke="#fff" stroke-width="1.2" text-anchor="middle" textLength="22" lengthAdjust="spacingAndGlyphs">3</text>
<circle cx="3841.0" cy="2277.0" r="38" fill="#fff" stroke="#7f9fd4" stroke-width="2"/>
<text x="3841.0" y="2294.8" font-size="50" fill="#7f9fd4" stroke="#fff" stroke-width="1.2" text-anchor="middle" textLength="47" lengthAdjust="spacingAndGlyphs">10</text>
<circle cx="4107.5" cy="2257.5" r="38" fill="#fff" stroke="#7f9fd4" stroke-width="2"/>
<text x="4107.5" y="2275.2" font-size="50" fill="#7f9fd4" stroke="#fff" stroke-width="1.2" text-anchor="middle" textLength="47" lengthAdjust="spacingAndGlyphs">15</text>
<circle cx="4309.0" cy="2241.5" r="38" fill="#fff" stroke="#7f9fd4" stroke-width="2"/>
<text x="4309.0" y="2259.2" font-size="50" fill="#7f9fd4" stroke="#fff" stroke-width="1.2" text-anchor="middle" textLength="47" lengthAdjust="spacingAndGlyphs">16</text>
<circle cx="4331.0" cy="2596.0" r="38" fill="#fff" stroke="#7f9fd4" stroke-width="2"/>
<text x="4331.0" y="2613.8" font-size="50" fill="#7f9fd4" stroke="#fff" stroke-width="1.2" text-anchor="middle" textLength="47" lengthAdjust="spacingAndGlyphs">14</text>
<circle cx="4145.0" cy="2616.5" r="38" fill="#fff" stroke="#7f9fd4" stroke-width="2"/>
<text x="4145.0" y="2634.2" font-size="50" fill="#7f9fd4" stroke="#fff" stroke-width="1.2" text-anchor="middle" textLength="22" lengthAdjust="spacingAndGlyphs">9</text>
<circle cx="3907.5" cy="2652.5" r="38" fill="#fff" stroke="#7f9fd4" stroke-width="2"/>
<text x="3907.5" y="2670.2" font-size="50" fill="#7f9fd4" stroke="#fff" stroke-width="1.2" text-anchor="middle" textLength="47" lengthAdjust="spacingAndGlyphs">11</text>
<circle cx="4182.5" cy="2845.0" r="38" fill="#fff" stroke="#7f9fd4" stroke-width="2"/>
<text x="4182.5" y="2862.8" font-size="50" fill="#7f9fd4" stroke="#fff" stroke-width="1.2" text-anchor="middle" textLength="47" lengthAdjust="spacingAndGlyphs">12</text>
<circle cx="4356.5" cy="2822.0" r="38" fill="#fff" stroke="#7f9fd4" stroke-width="2"/>
<text x="4356.5" y="2839.8" font-size="50" fill="#7f9fd4" stroke="#fff" stroke-width="1.2" text-anchor="middle" textLength="47" lengthAdjust="spacingAndGlyphs">13</text>
<circle cx="4201.0" cy="3056.0" r="52.5" fill="#fff" stroke="#7f9fd4" stroke-width="2"/>
<text x="4201.0" y="3073.8" font-size="50" fill="#7f9fd4" stroke="#fff" stroke-width="1.2" text-anchor="middle" textLength="72" lengthAdjust="spacingAndGlyphs">12A</text>
<circle cx="4385.0" cy="3033.5" r="52.5" fill="#fff" stroke="#7f9fd4" stroke-width="2"/>
<text x="4385.0" y="3051.2" font-size="50" fill="#7f9fd4" stroke="#fff" stroke-width="1.2" text-anchor="middle" textLength="72" lengthAdjust="spacingAndGlyphs">13A</text>
</svg>
</body></html>
